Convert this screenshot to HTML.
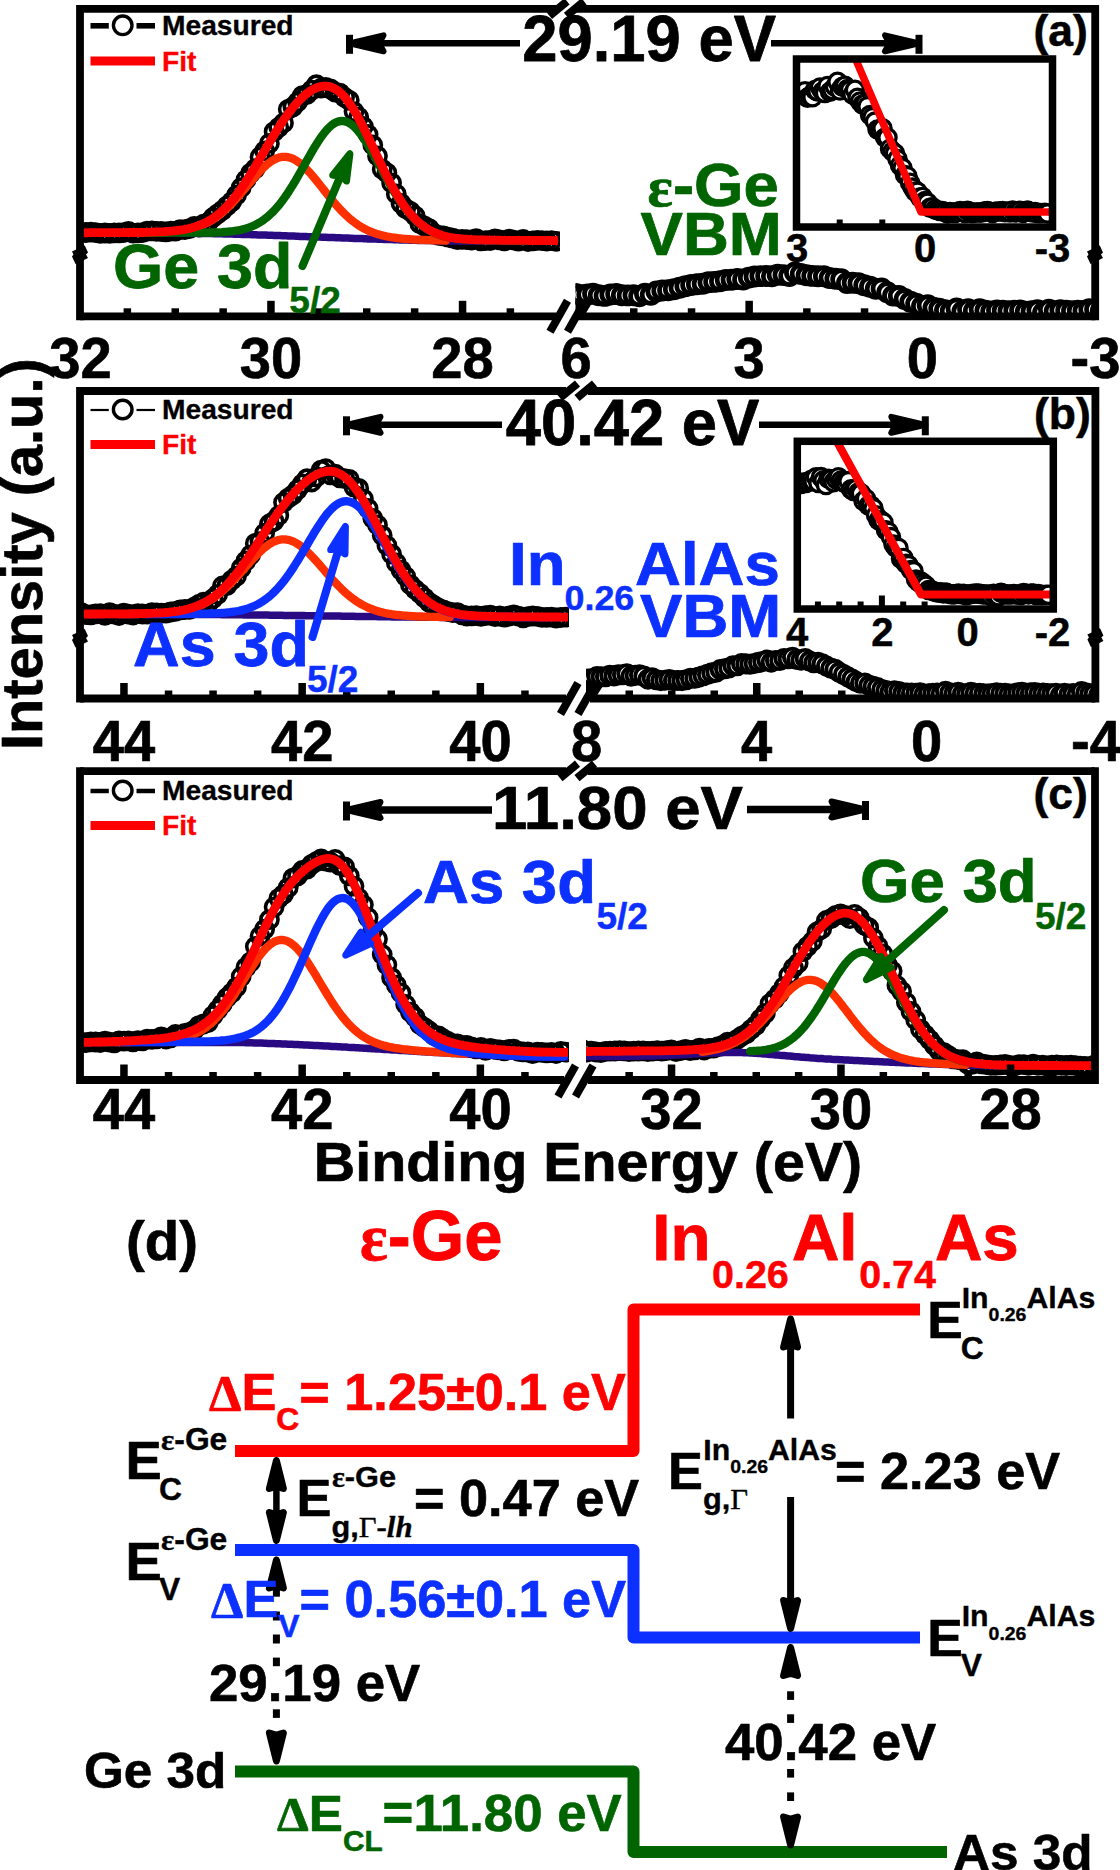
<!DOCTYPE html>
<html><head><meta charset="utf-8"><title>XPS band alignment</title>
<style>html,body{margin:0;padding:0;background:#fff}svg{display:block}</style></head><body>
<svg width="1120" height="1870" viewBox="0 0 1120 1870">
<rect width="1120" height="1870" fill="#fff"/>
<g id="pa">
<clipPath id="cpaL"><rect x="80" y="8" width="480" height="308"/></clipPath>
<g clip-path="url(#cpaL)">
<path d="M72 232.6 L76.7 233.1 L81.4 232.6 L86.1 232.5 L90.8 232.1 L95.5 232.6 L100.2 233.4 L104.9 233 L109.6 233.3 L114.3 232.8 L119 232.9 L123.7 232.7 L128.4 231.4 L133.1 233.1 L137.8 232.8 L142.5 232.7 L147.2 231.1 L151.9 230.9 L156.6 231.4 L161.3 231.5 L166 231.8 L170.7 231.2 L175.4 231.1 L180.1 229.6 L184.8 229.6 L189.5 228.6 L194.2 226.4 L198.9 227.2 L203.6 224.1 L208.3 222.4 L213 217.5 L217.7 213.9 L222.4 210.3 L227.1 205.9 L231.8 201.6 L236.5 195.2 L241.2 187.7 L245.9 179.9 L250.6 173.2 L255.3 168.6 L260 157 L264.7 150.9 L269.4 143.4 L274.1 131.7 L278.8 127.4 L283.5 123 L288.2 109.3 L292.9 106.9 L297.6 102 L302.3 95.7 L307 94.5 L311.7 90.1 L316.4 84.7 L321.1 88.2 L325.8 87.5 L330.5 88.9 L335.2 92.1 L339.9 93.1 L344.6 97.3 L349.3 100.3 L354 111.6 L358.7 117.1 L363.4 126.5 L368.1 134.5 L372.8 145 L377.5 156 L382.2 169.2 L386.9 172.8 L391.6 182.9 L396.3 194 L401 203.3 L405.7 208.7 L410.4 211.4 L415.1 215.8 L419.8 223.7 L424.5 226.1 L429.2 228.7 L433.9 233.3 L438.6 235.3 L443.3 235.9 L448 237.2 L452.7 238.2 L457.4 239.7 L462.1 239.4 L466.8 239.7 L471.5 240 L476.2 238.6 L480.9 240.8 L485.6 240.7 L490.3 240.5 L495 238.8 L499.7 239.8 L504.4 240.9 L509.1 239.1 L513.8 240.2 L518.5 241.1 L523.2 239.5 L527.9 241.5 L532.6 240.8 L537.3 240.4 L542 240.7 L546.7 241 L551.4 240.6 L556.1 241.3" fill="none" stroke="#000000" stroke-width="5" stroke-linejoin="round" />
<circle cx="72" cy="232.6" r="8.6" fill="none" stroke="#000" stroke-width="3.6"/>
<circle cx="76.7" cy="233.1" r="8.6" fill="none" stroke="#000" stroke-width="3.6"/>
<circle cx="81.4" cy="232.6" r="8.6" fill="none" stroke="#000" stroke-width="3.6"/>
<circle cx="86.1" cy="232.5" r="8.6" fill="none" stroke="#000" stroke-width="3.6"/>
<circle cx="90.8" cy="232.1" r="8.6" fill="none" stroke="#000" stroke-width="3.6"/>
<circle cx="95.5" cy="232.6" r="8.6" fill="none" stroke="#000" stroke-width="3.6"/>
<circle cx="100.2" cy="233.4" r="8.6" fill="none" stroke="#000" stroke-width="3.6"/>
<circle cx="104.9" cy="233" r="8.6" fill="none" stroke="#000" stroke-width="3.6"/>
<circle cx="109.6" cy="233.3" r="8.6" fill="none" stroke="#000" stroke-width="3.6"/>
<circle cx="114.3" cy="232.8" r="8.6" fill="none" stroke="#000" stroke-width="3.6"/>
<circle cx="119" cy="232.9" r="8.6" fill="none" stroke="#000" stroke-width="3.6"/>
<circle cx="123.7" cy="232.7" r="8.6" fill="none" stroke="#000" stroke-width="3.6"/>
<circle cx="128.4" cy="231.4" r="8.6" fill="none" stroke="#000" stroke-width="3.6"/>
<circle cx="133.1" cy="233.1" r="8.6" fill="none" stroke="#000" stroke-width="3.6"/>
<circle cx="137.8" cy="232.8" r="8.6" fill="none" stroke="#000" stroke-width="3.6"/>
<circle cx="142.5" cy="232.7" r="8.6" fill="none" stroke="#000" stroke-width="3.6"/>
<circle cx="147.2" cy="231.1" r="8.6" fill="none" stroke="#000" stroke-width="3.6"/>
<circle cx="151.9" cy="230.9" r="8.6" fill="none" stroke="#000" stroke-width="3.6"/>
<circle cx="156.6" cy="231.4" r="8.6" fill="none" stroke="#000" stroke-width="3.6"/>
<circle cx="161.3" cy="231.5" r="8.6" fill="none" stroke="#000" stroke-width="3.6"/>
<circle cx="166" cy="231.8" r="8.6" fill="none" stroke="#000" stroke-width="3.6"/>
<circle cx="170.7" cy="231.2" r="8.6" fill="none" stroke="#000" stroke-width="3.6"/>
<circle cx="175.4" cy="231.1" r="8.6" fill="none" stroke="#000" stroke-width="3.6"/>
<circle cx="180.1" cy="229.6" r="8.6" fill="none" stroke="#000" stroke-width="3.6"/>
<circle cx="184.8" cy="229.6" r="8.6" fill="none" stroke="#000" stroke-width="3.6"/>
<circle cx="189.5" cy="228.6" r="8.6" fill="none" stroke="#000" stroke-width="3.6"/>
<circle cx="194.2" cy="226.4" r="8.6" fill="none" stroke="#000" stroke-width="3.6"/>
<circle cx="198.9" cy="227.2" r="8.6" fill="none" stroke="#000" stroke-width="3.6"/>
<circle cx="203.6" cy="224.1" r="8.6" fill="none" stroke="#000" stroke-width="3.6"/>
<circle cx="208.3" cy="222.4" r="8.6" fill="none" stroke="#000" stroke-width="3.6"/>
<circle cx="213" cy="217.5" r="8.6" fill="none" stroke="#000" stroke-width="3.6"/>
<circle cx="217.7" cy="213.9" r="8.6" fill="none" stroke="#000" stroke-width="3.6"/>
<circle cx="222.4" cy="210.3" r="8.6" fill="none" stroke="#000" stroke-width="3.6"/>
<circle cx="227.1" cy="205.9" r="8.6" fill="none" stroke="#000" stroke-width="3.6"/>
<circle cx="231.8" cy="201.6" r="8.6" fill="none" stroke="#000" stroke-width="3.6"/>
<circle cx="236.5" cy="195.2" r="8.6" fill="none" stroke="#000" stroke-width="3.6"/>
<circle cx="241.2" cy="187.7" r="8.6" fill="none" stroke="#000" stroke-width="3.6"/>
<circle cx="245.9" cy="179.9" r="8.6" fill="none" stroke="#000" stroke-width="3.6"/>
<circle cx="250.6" cy="173.2" r="8.6" fill="none" stroke="#000" stroke-width="3.6"/>
<circle cx="255.3" cy="168.6" r="8.6" fill="none" stroke="#000" stroke-width="3.6"/>
<circle cx="260" cy="157" r="8.6" fill="none" stroke="#000" stroke-width="3.6"/>
<circle cx="264.7" cy="150.9" r="8.6" fill="none" stroke="#000" stroke-width="3.6"/>
<circle cx="269.4" cy="143.4" r="8.6" fill="none" stroke="#000" stroke-width="3.6"/>
<circle cx="274.1" cy="131.7" r="8.6" fill="none" stroke="#000" stroke-width="3.6"/>
<circle cx="278.8" cy="127.4" r="8.6" fill="none" stroke="#000" stroke-width="3.6"/>
<circle cx="283.5" cy="123" r="8.6" fill="none" stroke="#000" stroke-width="3.6"/>
<circle cx="288.2" cy="109.3" r="8.6" fill="none" stroke="#000" stroke-width="3.6"/>
<circle cx="292.9" cy="106.9" r="8.6" fill="none" stroke="#000" stroke-width="3.6"/>
<circle cx="297.6" cy="102" r="8.6" fill="none" stroke="#000" stroke-width="3.6"/>
<circle cx="302.3" cy="95.7" r="8.6" fill="none" stroke="#000" stroke-width="3.6"/>
<circle cx="307" cy="94.5" r="8.6" fill="none" stroke="#000" stroke-width="3.6"/>
<circle cx="311.7" cy="90.1" r="8.6" fill="none" stroke="#000" stroke-width="3.6"/>
<circle cx="316.4" cy="84.7" r="8.6" fill="none" stroke="#000" stroke-width="3.6"/>
<circle cx="321.1" cy="88.2" r="8.6" fill="none" stroke="#000" stroke-width="3.6"/>
<circle cx="325.8" cy="87.5" r="8.6" fill="none" stroke="#000" stroke-width="3.6"/>
<circle cx="330.5" cy="88.9" r="8.6" fill="none" stroke="#000" stroke-width="3.6"/>
<circle cx="335.2" cy="92.1" r="8.6" fill="none" stroke="#000" stroke-width="3.6"/>
<circle cx="339.9" cy="93.1" r="8.6" fill="none" stroke="#000" stroke-width="3.6"/>
<circle cx="344.6" cy="97.3" r="8.6" fill="none" stroke="#000" stroke-width="3.6"/>
<circle cx="349.3" cy="100.3" r="8.6" fill="none" stroke="#000" stroke-width="3.6"/>
<circle cx="354" cy="111.6" r="8.6" fill="none" stroke="#000" stroke-width="3.6"/>
<circle cx="358.7" cy="117.1" r="8.6" fill="none" stroke="#000" stroke-width="3.6"/>
<circle cx="363.4" cy="126.5" r="8.6" fill="none" stroke="#000" stroke-width="3.6"/>
<circle cx="368.1" cy="134.5" r="8.6" fill="none" stroke="#000" stroke-width="3.6"/>
<circle cx="372.8" cy="145" r="8.6" fill="none" stroke="#000" stroke-width="3.6"/>
<circle cx="377.5" cy="156" r="8.6" fill="none" stroke="#000" stroke-width="3.6"/>
<circle cx="382.2" cy="169.2" r="8.6" fill="none" stroke="#000" stroke-width="3.6"/>
<circle cx="386.9" cy="172.8" r="8.6" fill="none" stroke="#000" stroke-width="3.6"/>
<circle cx="391.6" cy="182.9" r="8.6" fill="none" stroke="#000" stroke-width="3.6"/>
<circle cx="396.3" cy="194" r="8.6" fill="none" stroke="#000" stroke-width="3.6"/>
<circle cx="401" cy="203.3" r="8.6" fill="none" stroke="#000" stroke-width="3.6"/>
<circle cx="405.7" cy="208.7" r="8.6" fill="none" stroke="#000" stroke-width="3.6"/>
<circle cx="410.4" cy="211.4" r="8.6" fill="none" stroke="#000" stroke-width="3.6"/>
<circle cx="415.1" cy="215.8" r="8.6" fill="none" stroke="#000" stroke-width="3.6"/>
<circle cx="419.8" cy="223.7" r="8.6" fill="none" stroke="#000" stroke-width="3.6"/>
<circle cx="424.5" cy="226.1" r="8.6" fill="none" stroke="#000" stroke-width="3.6"/>
<circle cx="429.2" cy="228.7" r="8.6" fill="none" stroke="#000" stroke-width="3.6"/>
<circle cx="433.9" cy="233.3" r="8.6" fill="none" stroke="#000" stroke-width="3.6"/>
<circle cx="438.6" cy="235.3" r="8.6" fill="none" stroke="#000" stroke-width="3.6"/>
<circle cx="443.3" cy="235.9" r="8.6" fill="none" stroke="#000" stroke-width="3.6"/>
<circle cx="448" cy="237.2" r="8.6" fill="none" stroke="#000" stroke-width="3.6"/>
<circle cx="452.7" cy="238.2" r="8.6" fill="none" stroke="#000" stroke-width="3.6"/>
<circle cx="457.4" cy="239.7" r="8.6" fill="none" stroke="#000" stroke-width="3.6"/>
<circle cx="462.1" cy="239.4" r="8.6" fill="none" stroke="#000" stroke-width="3.6"/>
<circle cx="466.8" cy="239.7" r="8.6" fill="none" stroke="#000" stroke-width="3.6"/>
<circle cx="471.5" cy="240" r="8.6" fill="none" stroke="#000" stroke-width="3.6"/>
<circle cx="476.2" cy="238.6" r="8.6" fill="none" stroke="#000" stroke-width="3.6"/>
<circle cx="480.9" cy="240.8" r="8.6" fill="none" stroke="#000" stroke-width="3.6"/>
<circle cx="485.6" cy="240.7" r="8.6" fill="none" stroke="#000" stroke-width="3.6"/>
<circle cx="490.3" cy="240.5" r="8.6" fill="none" stroke="#000" stroke-width="3.6"/>
<circle cx="495" cy="238.8" r="8.6" fill="none" stroke="#000" stroke-width="3.6"/>
<circle cx="499.7" cy="239.8" r="8.6" fill="none" stroke="#000" stroke-width="3.6"/>
<circle cx="504.4" cy="240.9" r="8.6" fill="none" stroke="#000" stroke-width="3.6"/>
<circle cx="509.1" cy="239.1" r="8.6" fill="none" stroke="#000" stroke-width="3.6"/>
<circle cx="513.8" cy="240.2" r="8.6" fill="none" stroke="#000" stroke-width="3.6"/>
<circle cx="518.5" cy="241.1" r="8.6" fill="none" stroke="#000" stroke-width="3.6"/>
<circle cx="523.2" cy="239.5" r="8.6" fill="none" stroke="#000" stroke-width="3.6"/>
<circle cx="527.9" cy="241.5" r="8.6" fill="none" stroke="#000" stroke-width="3.6"/>
<circle cx="532.6" cy="240.8" r="8.6" fill="none" stroke="#000" stroke-width="3.6"/>
<circle cx="537.3" cy="240.4" r="8.6" fill="none" stroke="#000" stroke-width="3.6"/>
<circle cx="542" cy="240.7" r="8.6" fill="none" stroke="#000" stroke-width="3.6"/>
<circle cx="546.7" cy="241" r="8.6" fill="none" stroke="#000" stroke-width="3.6"/>
<circle cx="551.4" cy="240.6" r="8.6" fill="none" stroke="#000" stroke-width="3.6"/>
<circle cx="556.1" cy="241.3" r="8.6" fill="none" stroke="#000" stroke-width="3.6"/>
<path d="M70 233.2 L72 233.2 L74 233.2 L76 233.2 L78 233.2 L80 233.2 L82 233.2 L84 233.2 L86 233.2 L88 233.2 L90 233.2 L92 233.2 L94 233.2 L96 233.2 L98 233.2 L100 233.2 L102 233.2 L104 233.2 L106 233.2 L108 233.2 L110 233.2 L112 233.2 L114 233.2 L116 233.2 L118 233.2 L120 233.2 L122 233.2 L124 233.2 L126 233.2 L128 233.2 L130 233.2 L132 233.2 L134 233.2 L136 233.2 L138 233.2 L140 233.2 L142 233.2 L144 233.2 L146 233.2 L148 233.2 L150 233.2 L152 233.2 L154 233.2 L156 233.2 L158 233.2 L160 233.2 L162 233.2 L164 233.2 L166 233.2 L168 233.2 L170 233.2 L172 233.2 L174 233.2 L176 233.2 L178 233.2 L180 233.2 L182 233.2 L184 233.2 L186 233.2 L188 233.2 L190 233.2 L192 233.2 L194 233.3 L196 233.3 L198 233.3 L200 233.4 L202 233.4 L204 233.4 L206 233.5 L208 233.5 L210 233.6 L212 233.6 L214 233.7 L216 233.7 L218 233.7 L220 233.8 L222 233.8 L224 233.9 L226 233.9 L228 234 L230 234 L232 234.1 L234 234.2 L236 234.2 L238 234.3 L240 234.3 L242 234.4 L244 234.4 L246 234.5 L248 234.6 L250 234.6 L252 234.7 L254 234.8 L256 234.8 L258 234.9 L260 234.9 L262 235 L264 235.1 L266 235.1 L268 235.2 L270 235.3 L272 235.3 L274 235.4 L276 235.5 L278 235.6 L280 235.6 L282 235.7 L284 235.8 L286 235.8 L288 235.9 L290 236 L292 236.1 L294 236.1 L296 236.2 L298 236.3 L300 236.4 L302 236.4 L304 236.5 L306 236.6 L308 236.7 L310 236.7 L312 236.8 L314 236.9 L316 237 L318 237 L320 237.1 L322 237.2 L324 237.2 L326 237.3 L328 237.4 L330 237.5 L332 237.5 L334 237.6 L336 237.7 L338 237.8 L340 237.8 L342 237.9 L344 238 L346 238.1 L348 238.1 L350 238.2 L352 238.3 L354 238.4 L356 238.4 L358 238.5 L360 238.6 L362 238.6 L364 238.7 L366 238.8 L368 238.9 L370 238.9 L372 239 L374 239.1 L376 239.1 L378 239.2 L380 239.3 L382 239.3 L384 239.4 L386 239.4 L388 239.5 L390 239.6 L392 239.6 L394 239.7 L396 239.8 L398 239.8 L400 239.9 L402 239.9 L404 240 L406 240 L408 240.1 L410 240.2 L412 240.2 L414 240.3 L416 240.3 L418 240.4 L420 240.4 L422 240.5 L424 240.5 L426 240.5 L428 240.6 L430 240.6 L432 240.7 L434 240.7 L436 240.8 L438 240.8 L440 240.8 L442 240.9 L444 240.9 L446 240.9 L448 241 L450 241 L452 241 L454 241 L456 241 L458 241 L460 241 L462 241 L464 241 L466 241 L468 241 L470 241 L472 241 L474 241 L476 241 L478 241 L480 241 L482 241 L484 241 L486 241 L488 241 L490 241 L492 241 L494 241 L496 241 L498 241 L500 241 L502 241 L504 241 L506 241 L508 241 L510 241 L512 241 L514 241 L516 241 L518 241 L520 241 L522 241 L524 241 L526 241 L528 241 L530 241 L532 241 L534 241 L536 241 L538 241 L540 241 L542 241 L544 241 L546 241 L548 241 L550 241 L552 241 L554 241 L556 241 L558 241" fill="none" stroke="#2a0a82" stroke-width="7.5" stroke-linejoin="round" />
<path d="M124 232.8 L126 232.8 L128 232.8 L130 232.8 L132 232.8 L134 232.8 L136 232.8 L138 232.7 L140 232.7 L142 232.7 L144 232.7 L146 232.6 L148 232.6 L150 232.6 L152 232.5 L154 232.5 L156 232.4 L158 232.3 L160 232.3 L162 232.2 L164 232.1 L166 232 L168 231.8 L170 231.7 L172 231.5 L174 231.4 L176 231.2 L178 230.9 L180 230.7 L182 230.4 L184 230 L186 229.7 L188 229.2 L190 228.8 L192 228.3 L194 227.8 L196 227.2 L198 226.5 L200 225.8 L202 225 L204 224.2 L206 223.3 L208 222.3 L210 221.2 L212 220 L214 218.7 L216 217.4 L218 215.9 L220 214.4 L222 212.8 L224 211 L226 209.2 L228 207.3 L230 205.4 L232 203.3 L234 201.2 L236 199 L238 196.7 L240 194.4 L242 192.1 L244 189.7 L246 187.3 L248 184.9 L250 182.5 L252 180.2 L254 177.8 L256 175.5 L258 173.3 L260 171.2 L262 169.1 L264 167.2 L266 165.4 L268 163.7 L270 162.2 L272 160.8 L274 159.7 L276 158.7 L278 157.9 L280 157.3 L282 156.9 L284 156.8 L286 156.9 L288 157.2 L290 157.7 L292 158.4 L294 159.3 L296 160.4 L298 161.8 L300 163.2 L302 164.9 L304 166.7 L306 168.7 L308 170.8 L310 172.9 L312 175.2 L314 177.6 L316 180 L318 182.5 L320 185 L322 187.5 L324 190.1 L326 192.6 L328 195.1 L330 197.6 L332 200 L334 202.4 L336 204.7 L338 207 L340 209.2 L342 211.3 L344 213.3 L346 215.2 L348 217.1 L350 218.8 L352 220.5 L354 222 L356 223.5 L358 224.9 L360 226.2 L362 227.4 L364 228.5 L366 229.5 L368 230.5 L370 231.4 L372 232.2 L374 232.9 L376 233.6 L378 234.3 L380 234.8 L382 235.4 L384 235.8 L386 236.3 L388 236.7 L390 237 L392 237.4 L394 237.6 L396 237.9 L398 238.2 L400 238.4 L402 238.6 L404 238.8 L406 238.9 L408 239.1 L410 239.2 L412 239.3 L414 239.5 L416 239.6 L418 239.7 L420 239.8 L422 239.9 L424 239.9 L426 240 L428 240.1 L430 240.2 L432 240.2 L434 240.3 L436 240.3 L438 240.4 L440 240.4 L442 240.5 L444 240.5 L446 240.6" fill="none" stroke="#ff3000" stroke-width="8.3" stroke-linejoin="round" stroke-linecap="round"/>
<path d="M146 232.8 L148 232.8 L150 232.8 L152 232.8 L154 232.8 L156 232.8 L158 232.8 L160 232.8 L162 232.8 L164 232.8 L166 232.8 L168 232.8 L170 232.7 L172 232.7 L174 232.7 L176 232.7 L178 232.7 L180 232.7 L182 232.7 L184 232.6 L186 232.6 L188 232.6 L190 232.6 L192 232.6 L194 232.6 L196 232.6 L198 232.6 L200 232.6 L202 232.6 L204 232.6 L206 232.6 L208 232.6 L210 232.5 L212 232.5 L214 232.5 L216 232.4 L218 232.3 L220 232.3 L222 232.2 L224 232 L226 231.9 L228 231.7 L230 231.5 L232 231.3 L234 231 L236 230.7 L238 230.4 L240 230 L242 229.6 L244 229 L246 228.5 L248 227.8 L250 227.1 L252 226.3 L254 225.5 L256 224.5 L258 223.4 L260 222.2 L262 221 L264 219.6 L266 218 L268 216.4 L270 214.6 L272 212.7 L274 210.7 L276 208.5 L278 206.2 L280 203.8 L282 201.2 L284 198.5 L286 195.6 L288 192.7 L290 189.6 L292 186.4 L294 183.1 L296 179.8 L298 176.3 L300 172.8 L302 169.3 L304 165.7 L306 162.1 L308 158.6 L310 155.1 L312 151.6 L314 148.2 L316 144.9 L318 141.8 L320 138.8 L322 135.9 L324 133.2 L326 130.8 L328 128.6 L330 126.6 L332 124.9 L334 123.5 L336 122.4 L338 121.6 L340 121.1 L342 120.9 L344 121.1 L346 121.6 L348 122.4 L350 123.5 L352 124.9 L354 126.6 L356 128.6 L358 130.8 L360 133.3 L362 136 L364 138.9 L366 142 L368 145.2 L370 148.6 L372 152.1 L374 155.6 L376 159.3 L378 162.9 L380 166.6 L382 170.4 L384 174 L386 177.7 L388 181.3 L390 184.8 L392 188.3 L394 191.7 L396 194.9 L398 198.1 L400 201.1 L402 204 L404 206.8 L406 209.5 L408 212 L410 214.3 L412 216.5 L414 218.6 L416 220.6 L418 222.4 L420 224.1 L422 225.7 L424 227.1 L426 228.5 L428 229.7 L430 230.8 L432 231.9 L434 232.8 L436 233.7 L438 234.4 L440 235.1 L442 235.8 L444 236.3 L446 236.8 L448 237.3 L450 237.7 L452 238 L454 238.3 L456 238.6 L458 238.8 L460 239 L462 239.2 L464 239.4 L466 239.5 L468 239.6 L470 239.8 L472 239.8 L474 239.9 L476 240 L478 240.1 L480 240.1 L482 240.2 L484 240.2 L486 240.3 L488 240.3 L490 240.3 L492 240.4 L494 240.4 L496 240.4 L498 240.4 L500 240.4 L502 240.5 L504 240.5 L506 240.5 L508 240.5 L510 240.5 L512 240.5 L514 240.5 L516 240.5 L518 240.6 L520 240.6 L522 240.6 L524 240.6 L526 240.6 L528 240.6 L530 240.6 L532 240.6 L534 240.6 L536 240.6 L538 240.6 L540 240.6" fill="none" stroke="#006400" stroke-width="8.3" stroke-linejoin="round" stroke-linecap="round"/>
<path d="M70 232.8 L72 232.8 L74 232.8 L76 232.8 L78 232.8 L80 232.8 L82 232.8 L84 232.8 L86 232.8 L88 232.7 L90 232.7 L92 232.7 L94 232.7 L96 232.7 L98 232.7 L100 232.7 L102 232.7 L104 232.7 L106 232.7 L108 232.7 L110 232.6 L112 232.6 L114 232.6 L116 232.6 L118 232.6 L120 232.6 L122 232.6 L124 232.6 L126 232.5 L128 232.5 L130 232.5 L132 232.5 L134 232.5 L136 232.4 L138 232.4 L140 232.4 L142 232.4 L144 232.3 L146 232.3 L148 232.2 L150 232.2 L152 232.1 L154 232.1 L156 232 L158 231.9 L160 231.9 L162 231.8 L164 231.7 L166 231.5 L168 231.4 L170 231.2 L172 231.1 L174 230.9 L176 230.7 L178 230.4 L180 230.1 L182 229.8 L184 229.5 L186 229.1 L188 228.7 L190 228.2 L192 227.7 L194 227.1 L196 226.5 L198 225.8 L200 225.1 L202 224.2 L204 223.3 L206 222.4 L208 221.3 L210 220.1 L212 218.9 L214 217.5 L216 216.1 L218 214.5 L220 212.8 L222 211.1 L224 209.2 L226 207.2 L228 205.1 L230 202.8 L232 200.5 L234 198.1 L236 195.5 L238 192.9 L240 190.1 L242 187.3 L244 184.3 L246 181.3 L248 178.2 L250 175 L252 171.8 L254 168.5 L256 165.2 L258 161.9 L260 158.5 L262 155.1 L264 151.7 L266 148.3 L268 144.9 L270 141.5 L272 138.2 L274 134.9 L276 131.7 L278 128.5 L280 125.4 L282 122.4 L284 119.5 L286 116.7 L288 113.9 L290 111.3 L292 108.7 L294 106.3 L296 104 L298 101.8 L300 99.7 L302 97.8 L304 95.9 L306 94.3 L308 92.7 L310 91.3 L312 90 L314 88.9 L316 88 L318 87.2 L320 86.7 L322 86.3 L324 86.1 L326 86.1 L328 86.3 L330 86.7 L332 87.4 L334 88.3 L336 89.4 L338 90.8 L340 92.4 L342 94.3 L344 96.4 L346 98.7 L348 101.3 L350 104.1 L352 107.1 L354 110.2 L356 113.6 L358 117.2 L360 120.9 L362 124.7 L364 128.7 L366 132.7 L368 136.8 L370 141 L372 145.3 L374 149.5 L376 153.8 L378 158 L380 162.2 L382 166.4 L384 170.5 L386 174.5 L388 178.5 L390 182.3 L392 186 L394 189.6 L396 193.1 L398 196.4 L400 199.6 L402 202.7 L404 205.6 L406 208.3 L408 210.9 L410 213.4 L412 215.7 L414 217.8 L416 219.9 L418 221.7 L420 223.5 L422 225.1 L424 226.6 L426 227.9 L428 229.2 L430 230.4 L432 231.4 L434 232.4 L436 233.2 L438 234 L440 234.7 L442 235.4 L444 236 L446 236.5 L448 237 L450 237.4 L452 237.7 L454 238 L456 238.3 L458 238.5 L460 238.7 L462 238.9 L464 239.1 L466 239.2 L468 239.4 L470 239.5 L472 239.6 L474 239.7 L476 239.8 L478 239.8 L480 239.9 L482 239.9 L484 240 L486 240 L488 240.1 L490 240.1 L492 240.1 L494 240.2 L496 240.2 L498 240.2 L500 240.2 L502 240.3 L504 240.3 L506 240.3 L508 240.3 L510 240.3 L512 240.3 L514 240.4 L516 240.4 L518 240.4 L520 240.4 L522 240.4 L524 240.4 L526 240.4 L528 240.4 L530 240.5 L532 240.5 L534 240.5 L536 240.5 L538 240.5 L540 240.5 L542 240.5 L544 240.5 L546 240.5 L548 240.5 L550 240.5 L552 240.6 L554 240.6 L556 240.6 L558 240.6" fill="none" stroke="#ff0000" stroke-width="8.8" stroke-linejoin="round" />
</g>
<clipPath id="cpaV"><rect x="575.5" y="240" width="517" height="76.3"/></clipPath><g clip-path="url(#cpaV)">
<circle cx="570" cy="293.7" r="8.6" fill="#fff" stroke="#000" stroke-width="4.7"/>
<circle cx="575.8" cy="293.9" r="8.6" fill="#fff" stroke="#000" stroke-width="4.7"/>
<circle cx="581.5" cy="295.1" r="8.6" fill="#fff" stroke="#000" stroke-width="4.7"/>
<circle cx="587.3" cy="294.4" r="8.6" fill="#fff" stroke="#000" stroke-width="4.7"/>
<circle cx="593.1" cy="293.7" r="8.6" fill="#fff" stroke="#000" stroke-width="4.7"/>
<circle cx="598.8" cy="295.3" r="8.6" fill="#fff" stroke="#000" stroke-width="4.7"/>
<circle cx="604.6" cy="295.9" r="8.6" fill="#fff" stroke="#000" stroke-width="4.7"/>
<circle cx="610.4" cy="294.5" r="8.6" fill="#fff" stroke="#000" stroke-width="4.7"/>
<circle cx="616.2" cy="294" r="8.6" fill="#fff" stroke="#000" stroke-width="4.7"/>
<circle cx="621.9" cy="295.2" r="8.6" fill="#fff" stroke="#000" stroke-width="4.7"/>
<circle cx="627.7" cy="295.4" r="8.6" fill="#fff" stroke="#000" stroke-width="4.7"/>
<circle cx="633.5" cy="295.3" r="8.6" fill="#fff" stroke="#000" stroke-width="4.7"/>
<circle cx="639.2" cy="296.3" r="8.6" fill="#fff" stroke="#000" stroke-width="4.7"/>
<circle cx="645" cy="293.8" r="8.6" fill="#fff" stroke="#000" stroke-width="4.7"/>
<circle cx="650.8" cy="294.8" r="8.6" fill="#fff" stroke="#000" stroke-width="4.7"/>
<circle cx="656.5" cy="291.5" r="8.6" fill="#fff" stroke="#000" stroke-width="4.7"/>
<circle cx="662.3" cy="290.5" r="8.6" fill="#fff" stroke="#000" stroke-width="4.7"/>
<circle cx="668.1" cy="290.2" r="8.6" fill="#fff" stroke="#000" stroke-width="4.7"/>
<circle cx="673.9" cy="289.2" r="8.6" fill="#fff" stroke="#000" stroke-width="4.7"/>
<circle cx="679.6" cy="287.7" r="8.6" fill="#fff" stroke="#000" stroke-width="4.7"/>
<circle cx="685.4" cy="286.2" r="8.6" fill="#fff" stroke="#000" stroke-width="4.7"/>
<circle cx="691.2" cy="285" r="8.6" fill="#fff" stroke="#000" stroke-width="4.7"/>
<circle cx="696.9" cy="284.2" r="8.6" fill="#fff" stroke="#000" stroke-width="4.7"/>
<circle cx="702.7" cy="283.7" r="8.6" fill="#fff" stroke="#000" stroke-width="4.7"/>
<circle cx="708.5" cy="282.3" r="8.6" fill="#fff" stroke="#000" stroke-width="4.7"/>
<circle cx="714.2" cy="281.9" r="8.6" fill="#fff" stroke="#000" stroke-width="4.7"/>
<circle cx="720" cy="281.3" r="8.6" fill="#fff" stroke="#000" stroke-width="4.7"/>
<circle cx="725.8" cy="280" r="8.6" fill="#fff" stroke="#000" stroke-width="4.7"/>
<circle cx="731.6" cy="279.8" r="8.6" fill="#fff" stroke="#000" stroke-width="4.7"/>
<circle cx="737.3" cy="279" r="8.6" fill="#fff" stroke="#000" stroke-width="4.7"/>
<circle cx="743.1" cy="279.5" r="8.6" fill="#fff" stroke="#000" stroke-width="4.7"/>
<circle cx="748.9" cy="277.6" r="8.6" fill="#fff" stroke="#000" stroke-width="4.7"/>
<circle cx="754.6" cy="276.5" r="8.6" fill="#fff" stroke="#000" stroke-width="4.7"/>
<circle cx="760.4" cy="276.1" r="8.6" fill="#fff" stroke="#000" stroke-width="4.7"/>
<circle cx="766.2" cy="276" r="8.6" fill="#fff" stroke="#000" stroke-width="4.7"/>
<circle cx="771.9" cy="276.3" r="8.6" fill="#fff" stroke="#000" stroke-width="4.7"/>
<circle cx="777.7" cy="274.8" r="8.6" fill="#fff" stroke="#000" stroke-width="4.7"/>
<circle cx="783.5" cy="275.1" r="8.6" fill="#fff" stroke="#000" stroke-width="4.7"/>
<circle cx="789.3" cy="276" r="8.6" fill="#fff" stroke="#000" stroke-width="4.7"/>
<circle cx="795" cy="272.5" r="8.6" fill="#fff" stroke="#000" stroke-width="4.7"/>
<circle cx="800.8" cy="273.9" r="8.6" fill="#fff" stroke="#000" stroke-width="4.7"/>
<circle cx="806.6" cy="275.3" r="8.6" fill="#fff" stroke="#000" stroke-width="4.7"/>
<circle cx="812.3" cy="275.9" r="8.6" fill="#fff" stroke="#000" stroke-width="4.7"/>
<circle cx="818.1" cy="276.3" r="8.6" fill="#fff" stroke="#000" stroke-width="4.7"/>
<circle cx="823.9" cy="276.3" r="8.6" fill="#fff" stroke="#000" stroke-width="4.7"/>
<circle cx="829.6" cy="278" r="8.6" fill="#fff" stroke="#000" stroke-width="4.7"/>
<circle cx="835.4" cy="278.7" r="8.6" fill="#fff" stroke="#000" stroke-width="4.7"/>
<circle cx="841.2" cy="279.3" r="8.6" fill="#fff" stroke="#000" stroke-width="4.7"/>
<circle cx="847" cy="283" r="8.6" fill="#fff" stroke="#000" stroke-width="4.7"/>
<circle cx="852.7" cy="282.7" r="8.6" fill="#fff" stroke="#000" stroke-width="4.7"/>
<circle cx="858.5" cy="283.3" r="8.6" fill="#fff" stroke="#000" stroke-width="4.7"/>
<circle cx="864.3" cy="285.2" r="8.6" fill="#fff" stroke="#000" stroke-width="4.7"/>
<circle cx="870" cy="286.7" r="8.6" fill="#fff" stroke="#000" stroke-width="4.7"/>
<circle cx="875.8" cy="288.7" r="8.6" fill="#fff" stroke="#000" stroke-width="4.7"/>
<circle cx="881.6" cy="288.5" r="8.6" fill="#fff" stroke="#000" stroke-width="4.7"/>
<circle cx="887.3" cy="292.3" r="8.6" fill="#fff" stroke="#000" stroke-width="4.7"/>
<circle cx="893.1" cy="295.6" r="8.6" fill="#fff" stroke="#000" stroke-width="4.7"/>
<circle cx="898.9" cy="295.9" r="8.6" fill="#fff" stroke="#000" stroke-width="4.7"/>
<circle cx="904.7" cy="298.9" r="8.6" fill="#fff" stroke="#000" stroke-width="4.7"/>
<circle cx="910.4" cy="301.8" r="8.6" fill="#fff" stroke="#000" stroke-width="4.7"/>
<circle cx="916.2" cy="303.8" r="8.6" fill="#fff" stroke="#000" stroke-width="4.7"/>
<circle cx="922" cy="306.2" r="8.6" fill="#fff" stroke="#000" stroke-width="4.7"/>
<circle cx="927.7" cy="305.3" r="8.6" fill="#fff" stroke="#000" stroke-width="4.7"/>
<circle cx="933.5" cy="307.8" r="8.6" fill="#fff" stroke="#000" stroke-width="4.7"/>
<circle cx="939.3" cy="308.8" r="8.6" fill="#fff" stroke="#000" stroke-width="4.7"/>
<circle cx="945" cy="310.3" r="8.6" fill="#fff" stroke="#000" stroke-width="4.7"/>
<circle cx="950.8" cy="311.1" r="8.6" fill="#fff" stroke="#000" stroke-width="4.7"/>
<circle cx="956.6" cy="308.4" r="8.6" fill="#fff" stroke="#000" stroke-width="4.7"/>
<circle cx="962.4" cy="311.4" r="8.6" fill="#fff" stroke="#000" stroke-width="4.7"/>
<circle cx="968.1" cy="309.3" r="8.6" fill="#fff" stroke="#000" stroke-width="4.7"/>
<circle cx="973.9" cy="311" r="8.6" fill="#fff" stroke="#000" stroke-width="4.7"/>
<circle cx="979.7" cy="309.3" r="8.6" fill="#fff" stroke="#000" stroke-width="4.7"/>
<circle cx="985.4" cy="310.6" r="8.6" fill="#fff" stroke="#000" stroke-width="4.7"/>
<circle cx="991.2" cy="311.5" r="8.6" fill="#fff" stroke="#000" stroke-width="4.7"/>
<circle cx="997" cy="310.4" r="8.6" fill="#fff" stroke="#000" stroke-width="4.7"/>
<circle cx="1002.7" cy="310.7" r="8.6" fill="#fff" stroke="#000" stroke-width="4.7"/>
<circle cx="1008.5" cy="311.1" r="8.6" fill="#fff" stroke="#000" stroke-width="4.7"/>
<circle cx="1014.3" cy="310.6" r="8.6" fill="#fff" stroke="#000" stroke-width="4.7"/>
<circle cx="1020.1" cy="310.4" r="8.6" fill="#fff" stroke="#000" stroke-width="4.7"/>
<circle cx="1025.8" cy="311.7" r="8.6" fill="#fff" stroke="#000" stroke-width="4.7"/>
<circle cx="1031.6" cy="311.3" r="8.6" fill="#fff" stroke="#000" stroke-width="4.7"/>
<circle cx="1037.4" cy="310.3" r="8.6" fill="#fff" stroke="#000" stroke-width="4.7"/>
<circle cx="1043.1" cy="312.7" r="8.6" fill="#fff" stroke="#000" stroke-width="4.7"/>
<circle cx="1048.9" cy="309.6" r="8.6" fill="#fff" stroke="#000" stroke-width="4.7"/>
<circle cx="1054.7" cy="311.2" r="8.6" fill="#fff" stroke="#000" stroke-width="4.7"/>
<circle cx="1060.4" cy="310.3" r="8.6" fill="#fff" stroke="#000" stroke-width="4.7"/>
<circle cx="1066.2" cy="310.6" r="8.6" fill="#fff" stroke="#000" stroke-width="4.7"/>
<circle cx="1072" cy="311.1" r="8.6" fill="#fff" stroke="#000" stroke-width="4.7"/>
<circle cx="1077.8" cy="310.7" r="8.6" fill="#fff" stroke="#000" stroke-width="4.7"/>
<circle cx="1083.5" cy="311" r="8.6" fill="#fff" stroke="#000" stroke-width="4.7"/>
<circle cx="1089.3" cy="309.3" r="8.6" fill="#fff" stroke="#000" stroke-width="4.7"/>
<circle cx="1095.1" cy="309.3" r="8.6" fill="#fff" stroke="#000" stroke-width="4.7"/>
<circle cx="1100.8" cy="311" r="8.6" fill="#fff" stroke="#000" stroke-width="4.7"/>
</g>
<line x1="80" y1="4.9" x2="80" y2="320.2" stroke="#000000" stroke-width="7.8" />
<line x1="1095.2" y1="4.9" x2="1095.2" y2="320.2" stroke="#000000" stroke-width="7.8" />
<line x1="80" y1="8.8" x2="556" y2="8.8" stroke="#000000" stroke-width="7.8" />
<line x1="576" y1="8.8" x2="1095.2" y2="8.8" stroke="#000000" stroke-width="7.8" />
<line x1="80" y1="316.3" x2="556" y2="316.3" stroke="#000000" stroke-width="7.8" />
<line x1="578" y1="316.3" x2="1095.2" y2="316.3" stroke="#000000" stroke-width="7.8" />
<line x1="550" y1="331.8" x2="567.5" y2="300.8" stroke="#000000" stroke-width="8" />
<line x1="567.5" y1="331.8" x2="585" y2="300.8" stroke="#000000" stroke-width="8" />
<polygon points="575.5,298 592,303 583,318 575.5,318" fill="#000000"/>
<line x1="549.5" y1="15.8" x2="567" y2="1.3" stroke="#000000" stroke-width="8" />
<line x1="566.5" y1="15.8" x2="584" y2="1.3" stroke="#000000" stroke-width="8" />
<rect x="267.2" y="300.8" width="7.5" height="13" fill="#000000"/>
<rect x="458.8" y="300.8" width="7.5" height="13" fill="#000000"/>
<rect x="123.6" y="308.3" width="7.5" height="5.5" fill="#000000"/>
<rect x="171.5" y="308.3" width="7.5" height="5.5" fill="#000000"/>
<rect x="219.4" y="308.3" width="7.5" height="5.5" fill="#000000"/>
<rect x="315.1" y="308.3" width="7.5" height="5.5" fill="#000000"/>
<rect x="363" y="308.3" width="7.5" height="5.5" fill="#000000"/>
<rect x="410.9" y="308.3" width="7.5" height="5.5" fill="#000000"/>
<rect x="506.6" y="308.3" width="7.5" height="5.5" fill="#000000"/>
<rect x="745.4" y="300.8" width="7.5" height="13" fill="#000000"/>
<rect x="630" y="308.3" width="7.5" height="5.5" fill="#000000"/>
<rect x="687.8" y="308.3" width="7.5" height="5.5" fill="#000000"/>
<rect x="803.1" y="308.3" width="7.5" height="5.5" fill="#000000"/>
<rect x="860.8" y="308.3" width="7.5" height="5.5" fill="#000000"/>
<text transform="translate(80.5 377.5) scale(0.985 1)" font-size="57" fill="#000000" text-anchor="middle" font-family='"Liberation Sans", sans-serif' font-weight="bold"  stroke="#000000" stroke-width="0.68" stroke-linejoin="round">32</text>
<text transform="translate(271 377.5) scale(0.985 1)" font-size="57" fill="#000000" text-anchor="middle" font-family='"Liberation Sans", sans-serif' font-weight="bold"  stroke="#000000" stroke-width="0.68" stroke-linejoin="round">30</text>
<text transform="translate(462.5 377.5) scale(0.985 1)" font-size="57" fill="#000000" text-anchor="middle" font-family='"Liberation Sans", sans-serif' font-weight="bold"  stroke="#000000" stroke-width="0.68" stroke-linejoin="round">28</text>
<text transform="translate(576.1 377.5) scale(0.985 1)" font-size="57" fill="#000000" text-anchor="middle" font-family='"Liberation Sans", sans-serif' font-weight="bold"  stroke="#000000" stroke-width="0.68" stroke-linejoin="round">6</text>
<text transform="translate(749.2 377.5) scale(0.985 1)" font-size="57" fill="#000000" text-anchor="middle" font-family='"Liberation Sans", sans-serif' font-weight="bold"  stroke="#000000" stroke-width="0.68" stroke-linejoin="round">3</text>
<text transform="translate(922.3 377.5) scale(0.985 1)" font-size="57" fill="#000000" text-anchor="middle" font-family='"Liberation Sans", sans-serif' font-weight="bold"  stroke="#000000" stroke-width="0.68" stroke-linejoin="round">0</text>
<text transform="translate(1120.5 377.8) scale(0.985 1)" font-size="57" fill="#000000" text-anchor="end" font-family='"Liberation Sans", sans-serif' font-weight="bold"  stroke="#000000" stroke-width="0.68" stroke-linejoin="round">-3</text>
<polygon points="76.2,249.5 72,251.5 73.5,254.5 72,256.5 75.5,264 84,260 88,258 86,254.5 88,252.5 85,246 83.8,245" fill="#000000"/>
<polygon points="1091.2,249.5 1087,251.5 1088.5,254.5 1087,256.5 1090.5,264 1099,260 1103,258 1101,254.5 1103,252.5 1100,246 1098.8,245" fill="#000000"/>
<line x1="90.5" y1="25.8" x2="108.8" y2="25.8" stroke="#000000" stroke-width="5.6" />
<line x1="136.5" y1="25.8" x2="155" y2="25.8" stroke="#000000" stroke-width="5.6" />
<circle cx="122.7" cy="25.3" r="9.3" fill="#fff" stroke="#000" stroke-width="3.4"/>
<text transform="translate(162 35.1) scale(1.025 1)" font-size="27.5" fill="#000000" text-anchor="start" font-family='"Liberation Sans", sans-serif' font-weight="bold"  stroke="#000000" stroke-width="0.33" stroke-linejoin="round">Measured</text>
<line x1="90.5" y1="61" x2="155" y2="61" stroke="#ff0000" stroke-width="9" />
<text transform="translate(162 70.8) scale(1.025 1)" font-size="27.5" fill="#ff0000" text-anchor="start" font-family='"Liberation Sans", sans-serif' font-weight="bold"  stroke="#ff0000" stroke-width="0.33" stroke-linejoin="round">Fit</text>
<rect x="346" y="34.8" width="7" height="19" fill="#000000"/>
<line x1="377" y1="43.3" x2="520" y2="43.3" stroke="#000000" stroke-width="6.5" />
<polygon points="349.5,43.3 383.5,35.3 379,43.3 383.5,51.3" fill="#000" stroke="#000" stroke-width="6" stroke-linejoin="round"/>
<rect x="915.5" y="34.8" width="7" height="19" fill="#000000"/>
<line x1="771" y1="43.3" x2="891.5" y2="43.3" stroke="#000000" stroke-width="6.5" />
<polygon points="919,43.3 885,35.3 889.5,43.3 885,51.3" fill="#000" stroke="#000" stroke-width="6" stroke-linejoin="round"/>
<text transform="translate(522.3 61) scale(0.99 1)" font-size="64" fill="#000000" text-anchor="start" font-family='"Liberation Sans", sans-serif' font-weight="bold"  stroke="#000000" stroke-width="0.77" stroke-linejoin="round">29.19 eV</text>
<text transform="translate(1060.6 46.4) scale(1.0 1)" font-size="44.5" fill="#000000" text-anchor="middle" font-family='"Liberation Sans", sans-serif' font-weight="bold"  stroke="#000000" stroke-width="0.53" stroke-linejoin="round">(a)</text>
<text transform="translate(113 288) scale(1.025 1)" font-size="63" fill="#006400" text-anchor="start" font-family='"Liberation Sans", sans-serif' font-weight="bold"  stroke="#006400" stroke-width="0.76" stroke-linejoin="round">Ge 3d</text>
<text transform="translate(289.3 313) scale(1.0 1)" font-size="37" fill="#006400" text-anchor="start" font-family='"Liberation Sans", sans-serif' font-weight="bold"  stroke="#006400" stroke-width="0.44" stroke-linejoin="round">5/2</text>
<line x1="302.5" y1="266" x2="340.8" y2="175.4" stroke="#006400" stroke-width="8" stroke-linecap="round"/>
<polygon points="349.9,153.7 346.5,181.1 340.8,175.4 332.7,175.2" fill="#006400" stroke="#006400" stroke-width="7" stroke-linejoin="round"/>
<text transform="translate(647.5 205.5) scale(1.025 1)" font-size="62" fill="#006400" font-weight="bold" font-family='"Liberation Sans", sans-serif' stroke="#006400" stroke-width="0.74" stroke-linejoin="round"><tspan font-family='"Liberation Serif", serif' font-size="58">ε</tspan>-Ge</text>
<text transform="translate(640.5 255) scale(1.025 1)" font-size="62" fill="#006400" text-anchor="start" font-family='"Liberation Sans", sans-serif' font-weight="bold"  stroke="#006400" stroke-width="0.74" stroke-linejoin="round">VBM</text>
<clipPath id="cpaI"><rect x="796.5" y="59" width="256" height="168"/></clipPath>
<g clip-path="url(#cpaI)">
<circle cx="800" cy="93.6" r="8.6" fill="#fff" stroke="#000" stroke-width="3.3"/>
<circle cx="802.5" cy="92.9" r="8.6" fill="#fff" stroke="#000" stroke-width="3.3"/>
<circle cx="805" cy="91.2" r="8.6" fill="#fff" stroke="#000" stroke-width="3.3"/>
<circle cx="807.5" cy="97.8" r="8.6" fill="#fff" stroke="#000" stroke-width="3.3"/>
<circle cx="810" cy="95.9" r="8.6" fill="#fff" stroke="#000" stroke-width="3.3"/>
<circle cx="812.5" cy="97.3" r="8.6" fill="#fff" stroke="#000" stroke-width="3.3"/>
<circle cx="815" cy="90" r="8.6" fill="#fff" stroke="#000" stroke-width="3.3"/>
<circle cx="817.5" cy="91.4" r="8.6" fill="#fff" stroke="#000" stroke-width="3.3"/>
<circle cx="820" cy="87.5" r="8.6" fill="#fff" stroke="#000" stroke-width="3.3"/>
<circle cx="822.5" cy="91.6" r="8.6" fill="#fff" stroke="#000" stroke-width="3.3"/>
<circle cx="825" cy="93" r="8.6" fill="#fff" stroke="#000" stroke-width="3.3"/>
<circle cx="827.5" cy="86" r="8.6" fill="#fff" stroke="#000" stroke-width="3.3"/>
<circle cx="830" cy="91.8" r="8.6" fill="#fff" stroke="#000" stroke-width="3.3"/>
<circle cx="832.5" cy="90" r="8.6" fill="#fff" stroke="#000" stroke-width="3.3"/>
<circle cx="835" cy="86.7" r="8.6" fill="#fff" stroke="#000" stroke-width="3.3"/>
<circle cx="837.5" cy="81.8" r="8.6" fill="#fff" stroke="#000" stroke-width="3.3"/>
<circle cx="840" cy="90.6" r="8.6" fill="#fff" stroke="#000" stroke-width="3.3"/>
<circle cx="842.5" cy="86.8" r="8.6" fill="#fff" stroke="#000" stroke-width="3.3"/>
<circle cx="845" cy="85.7" r="8.6" fill="#fff" stroke="#000" stroke-width="3.3"/>
<circle cx="847.5" cy="88.9" r="8.6" fill="#fff" stroke="#000" stroke-width="3.3"/>
<circle cx="850" cy="90" r="8.6" fill="#fff" stroke="#000" stroke-width="3.3"/>
<circle cx="852.5" cy="94.4" r="8.6" fill="#fff" stroke="#000" stroke-width="3.3"/>
<circle cx="855" cy="89.8" r="8.6" fill="#fff" stroke="#000" stroke-width="3.3"/>
<circle cx="857.5" cy="97.8" r="8.6" fill="#fff" stroke="#000" stroke-width="3.3"/>
<circle cx="860" cy="101.5" r="8.6" fill="#fff" stroke="#000" stroke-width="3.3"/>
<circle cx="862.5" cy="104.6" r="8.6" fill="#fff" stroke="#000" stroke-width="3.3"/>
<circle cx="865" cy="103.8" r="8.6" fill="#fff" stroke="#000" stroke-width="3.3"/>
<circle cx="867.5" cy="106.2" r="8.6" fill="#fff" stroke="#000" stroke-width="3.3"/>
<circle cx="870" cy="114.9" r="8.6" fill="#fff" stroke="#000" stroke-width="3.3"/>
<circle cx="872.5" cy="117.1" r="8.6" fill="#fff" stroke="#000" stroke-width="3.3"/>
<circle cx="875" cy="121.6" r="8.6" fill="#fff" stroke="#000" stroke-width="3.3"/>
<circle cx="877.5" cy="129.4" r="8.6" fill="#fff" stroke="#000" stroke-width="3.3"/>
<circle cx="880" cy="129.3" r="8.6" fill="#fff" stroke="#000" stroke-width="3.3"/>
<circle cx="882.5" cy="128.3" r="8.6" fill="#fff" stroke="#000" stroke-width="3.3"/>
<circle cx="885" cy="137.4" r="8.6" fill="#fff" stroke="#000" stroke-width="3.3"/>
<circle cx="887.5" cy="137.6" r="8.6" fill="#fff" stroke="#000" stroke-width="3.3"/>
<circle cx="890" cy="148.7" r="8.6" fill="#fff" stroke="#000" stroke-width="3.3"/>
<circle cx="892.5" cy="151.5" r="8.6" fill="#fff" stroke="#000" stroke-width="3.3"/>
<circle cx="895" cy="153.3" r="8.6" fill="#fff" stroke="#000" stroke-width="3.3"/>
<circle cx="897.5" cy="159.1" r="8.6" fill="#fff" stroke="#000" stroke-width="3.3"/>
<circle cx="900" cy="165.5" r="8.6" fill="#fff" stroke="#000" stroke-width="3.3"/>
<circle cx="902.5" cy="167.9" r="8.6" fill="#fff" stroke="#000" stroke-width="3.3"/>
<circle cx="905" cy="175" r="8.6" fill="#fff" stroke="#000" stroke-width="3.3"/>
<circle cx="907.5" cy="176.2" r="8.6" fill="#fff" stroke="#000" stroke-width="3.3"/>
<circle cx="910" cy="182.7" r="8.6" fill="#fff" stroke="#000" stroke-width="3.3"/>
<circle cx="912.5" cy="187.6" r="8.6" fill="#fff" stroke="#000" stroke-width="3.3"/>
<circle cx="915" cy="191.6" r="8.6" fill="#fff" stroke="#000" stroke-width="3.3"/>
<circle cx="917.5" cy="191.7" r="8.6" fill="#fff" stroke="#000" stroke-width="3.3"/>
<circle cx="920" cy="197.4" r="8.6" fill="#fff" stroke="#000" stroke-width="3.3"/>
<circle cx="922.5" cy="197" r="8.6" fill="#fff" stroke="#000" stroke-width="3.3"/>
<circle cx="925" cy="201" r="8.6" fill="#fff" stroke="#000" stroke-width="3.3"/>
<circle cx="927.5" cy="202.6" r="8.6" fill="#fff" stroke="#000" stroke-width="3.3"/>
<circle cx="930" cy="207.7" r="8.6" fill="#fff" stroke="#000" stroke-width="3.3"/>
<circle cx="932.5" cy="207.2" r="8.6" fill="#fff" stroke="#000" stroke-width="3.3"/>
<circle cx="935" cy="209.5" r="8.6" fill="#fff" stroke="#000" stroke-width="3.3"/>
<circle cx="937.5" cy="210.3" r="8.6" fill="#fff" stroke="#000" stroke-width="3.3"/>
<circle cx="940" cy="211" r="8.6" fill="#fff" stroke="#000" stroke-width="3.3"/>
<circle cx="942.5" cy="211" r="8.6" fill="#fff" stroke="#000" stroke-width="3.3"/>
<circle cx="945" cy="212" r="8.6" fill="#fff" stroke="#000" stroke-width="3.3"/>
<circle cx="947.5" cy="213.4" r="8.6" fill="#fff" stroke="#000" stroke-width="3.3"/>
<circle cx="950" cy="212.1" r="8.6" fill="#fff" stroke="#000" stroke-width="3.3"/>
<circle cx="952.5" cy="212.5" r="8.6" fill="#fff" stroke="#000" stroke-width="3.3"/>
<circle cx="955" cy="212.9" r="8.6" fill="#fff" stroke="#000" stroke-width="3.3"/>
<circle cx="957.5" cy="211.9" r="8.6" fill="#fff" stroke="#000" stroke-width="3.3"/>
<circle cx="960" cy="211.1" r="8.6" fill="#fff" stroke="#000" stroke-width="3.3"/>
<circle cx="962.5" cy="211.7" r="8.6" fill="#fff" stroke="#000" stroke-width="3.3"/>
<circle cx="965" cy="213" r="8.6" fill="#fff" stroke="#000" stroke-width="3.3"/>
<circle cx="967.5" cy="210.8" r="8.6" fill="#fff" stroke="#000" stroke-width="3.3"/>
<circle cx="970" cy="211.7" r="8.6" fill="#fff" stroke="#000" stroke-width="3.3"/>
<circle cx="972.5" cy="212.9" r="8.6" fill="#fff" stroke="#000" stroke-width="3.3"/>
<circle cx="975" cy="212.8" r="8.6" fill="#fff" stroke="#000" stroke-width="3.3"/>
<circle cx="977.5" cy="212.2" r="8.6" fill="#fff" stroke="#000" stroke-width="3.3"/>
<circle cx="980" cy="212.8" r="8.6" fill="#fff" stroke="#000" stroke-width="3.3"/>
<circle cx="982.5" cy="212.3" r="8.6" fill="#fff" stroke="#000" stroke-width="3.3"/>
<circle cx="985" cy="211.3" r="8.6" fill="#fff" stroke="#000" stroke-width="3.3"/>
<circle cx="987.5" cy="211" r="8.6" fill="#fff" stroke="#000" stroke-width="3.3"/>
<circle cx="990" cy="211.7" r="8.6" fill="#fff" stroke="#000" stroke-width="3.3"/>
<circle cx="992.5" cy="213" r="8.6" fill="#fff" stroke="#000" stroke-width="3.3"/>
<circle cx="995" cy="211.8" r="8.6" fill="#fff" stroke="#000" stroke-width="3.3"/>
<circle cx="997.5" cy="211.5" r="8.6" fill="#fff" stroke="#000" stroke-width="3.3"/>
<circle cx="1000" cy="211.6" r="8.6" fill="#fff" stroke="#000" stroke-width="3.3"/>
<circle cx="1002.5" cy="211.1" r="8.6" fill="#fff" stroke="#000" stroke-width="3.3"/>
<circle cx="1005" cy="212.2" r="8.6" fill="#fff" stroke="#000" stroke-width="3.3"/>
<circle cx="1007.5" cy="211.4" r="8.6" fill="#fff" stroke="#000" stroke-width="3.3"/>
<circle cx="1010" cy="212.6" r="8.6" fill="#fff" stroke="#000" stroke-width="3.3"/>
<circle cx="1012.5" cy="210.5" r="8.6" fill="#fff" stroke="#000" stroke-width="3.3"/>
<circle cx="1015" cy="212.6" r="8.6" fill="#fff" stroke="#000" stroke-width="3.3"/>
<circle cx="1017.5" cy="211.8" r="8.6" fill="#fff" stroke="#000" stroke-width="3.3"/>
<circle cx="1020" cy="210.8" r="8.6" fill="#fff" stroke="#000" stroke-width="3.3"/>
<circle cx="1022.5" cy="212.9" r="8.6" fill="#fff" stroke="#000" stroke-width="3.3"/>
<circle cx="1025" cy="212.1" r="8.6" fill="#fff" stroke="#000" stroke-width="3.3"/>
<circle cx="1027.5" cy="210.6" r="8.6" fill="#fff" stroke="#000" stroke-width="3.3"/>
<circle cx="1030" cy="211.7" r="8.6" fill="#fff" stroke="#000" stroke-width="3.3"/>
<circle cx="1032.5" cy="212.6" r="8.6" fill="#fff" stroke="#000" stroke-width="3.3"/>
<circle cx="1035" cy="212" r="8.6" fill="#fff" stroke="#000" stroke-width="3.3"/>
<circle cx="1037.5" cy="213" r="8.6" fill="#fff" stroke="#000" stroke-width="3.3"/>
<circle cx="1040" cy="213" r="8.6" fill="#fff" stroke="#000" stroke-width="3.3"/>
<circle cx="1042.5" cy="212.9" r="8.6" fill="#fff" stroke="#000" stroke-width="3.3"/>
<circle cx="1045" cy="212.7" r="8.6" fill="#fff" stroke="#000" stroke-width="3.3"/>
<circle cx="1047.5" cy="213.5" r="8.6" fill="#fff" stroke="#000" stroke-width="3.3"/>
<path d="M856 60 L921 212 L1052 212" fill="none" stroke="#ff0000" stroke-width="7.5" stroke-linejoin="round" stroke-linejoin="miter"/>
</g>
<rect x="796.5" y="59" width="256" height="168" fill="none" stroke="#000" stroke-width="7.5"/>
<rect x="836.7" y="219.5" width="6" height="5" fill="#000000"/>
<rect x="879.3" y="219.5" width="6" height="5" fill="#000000"/>
<text transform="translate(797 261.5) scale(1.0 1)" font-size="40" fill="#000000" text-anchor="middle" font-family='"Liberation Sans", sans-serif' font-weight="bold"  stroke="#000000" stroke-width="0.48" stroke-linejoin="round">3</text>
<text transform="translate(925 261.5) scale(1.0 1)" font-size="40" fill="#000000" text-anchor="middle" font-family='"Liberation Sans", sans-serif' font-weight="bold"  stroke="#000000" stroke-width="0.48" stroke-linejoin="round">0</text>
<text transform="translate(1052.5 261.5) scale(1.0 1)" font-size="40" fill="#000000" text-anchor="middle" font-family='"Liberation Sans", sans-serif' font-weight="bold"  stroke="#000000" stroke-width="0.48" stroke-linejoin="round">-3</text>
</g>
<g id="pb">
<clipPath id="cpbL"><rect x="80" y="391" width="489" height="308"/></clipPath>
<g clip-path="url(#cpbL)">
<path d="M72 614.5 L76.7 614.4 L81.4 612.7 L86.1 614.6 L90.8 614.9 L95.5 613.8 L100.2 613.7 L104.9 615.3 L109.6 612.7 L114.3 614.2 L119 615.5 L123.7 613.2 L128.4 614.2 L133.1 615 L137.8 613.6 L142.5 614 L147.2 614.1 L151.9 612.6 L156.6 613 L161.3 613.1 L166 613.1 L170.7 612 L175.4 611.3 L180.1 609.9 L184.8 609.5 L189.5 609.4 L194.2 607.2 L198.9 604.4 L203.6 602.1 L208.3 603.4 L213 598.6 L217.7 594.4 L222.4 586 L227.1 585.5 L231.8 580.1 L236.5 576.2 L241.2 568.2 L245.9 560.8 L250.6 554.9 L255.3 543.4 L260 541.6 L264.7 533.1 L269.4 524 L274.1 521.1 L278.8 515.5 L283.5 502.5 L288.2 498.2 L292.9 494.8 L297.6 489.6 L302.3 483.9 L307 478.7 L311.7 482 L316.4 477 L321.1 470.2 L325.8 468.6 L330.5 474.9 L335.2 474.2 L339.9 477.8 L344.6 478.7 L349.3 479.3 L354 487.1 L358.7 488.4 L363.4 498.8 L368.1 508.5 L372.8 518.4 L377.5 524.9 L382.2 535.3 L386.9 545.5 L391.6 554.2 L396.3 563 L401 570.1 L405.7 576.5 L410.4 584.7 L415.1 589.4 L419.8 593.3 L424.5 597.9 L429.2 602.4 L433.9 605.3 L438.6 608.1 L443.3 609.9 L448 611.7 L452.7 612.7 L457.4 612.7 L462.1 614.9 L466.8 616 L471.5 615.9 L476.2 615.7 L480.9 616.4 L485.6 615.6 L490.3 615.1 L495 616.6 L499.7 616 L504.4 617.2 L509.1 616 L513.8 615 L518.5 616.1 L523.2 617.9 L527.9 616.6 L532.6 616 L537.3 616.4 L542 617.3 L546.7 617.3 L551.4 617.1 L556.1 618 L560.8 617.5 L565.5 617.1" fill="none" stroke="#000000" stroke-width="5" stroke-linejoin="round" />
<circle cx="72" cy="614.5" r="8.6" fill="none" stroke="#000" stroke-width="3.6"/>
<circle cx="76.7" cy="614.4" r="8.6" fill="none" stroke="#000" stroke-width="3.6"/>
<circle cx="81.4" cy="612.7" r="8.6" fill="none" stroke="#000" stroke-width="3.6"/>
<circle cx="86.1" cy="614.6" r="8.6" fill="none" stroke="#000" stroke-width="3.6"/>
<circle cx="90.8" cy="614.9" r="8.6" fill="none" stroke="#000" stroke-width="3.6"/>
<circle cx="95.5" cy="613.8" r="8.6" fill="none" stroke="#000" stroke-width="3.6"/>
<circle cx="100.2" cy="613.7" r="8.6" fill="none" stroke="#000" stroke-width="3.6"/>
<circle cx="104.9" cy="615.3" r="8.6" fill="none" stroke="#000" stroke-width="3.6"/>
<circle cx="109.6" cy="612.7" r="8.6" fill="none" stroke="#000" stroke-width="3.6"/>
<circle cx="114.3" cy="614.2" r="8.6" fill="none" stroke="#000" stroke-width="3.6"/>
<circle cx="119" cy="615.5" r="8.6" fill="none" stroke="#000" stroke-width="3.6"/>
<circle cx="123.7" cy="613.2" r="8.6" fill="none" stroke="#000" stroke-width="3.6"/>
<circle cx="128.4" cy="614.2" r="8.6" fill="none" stroke="#000" stroke-width="3.6"/>
<circle cx="133.1" cy="615" r="8.6" fill="none" stroke="#000" stroke-width="3.6"/>
<circle cx="137.8" cy="613.6" r="8.6" fill="none" stroke="#000" stroke-width="3.6"/>
<circle cx="142.5" cy="614" r="8.6" fill="none" stroke="#000" stroke-width="3.6"/>
<circle cx="147.2" cy="614.1" r="8.6" fill="none" stroke="#000" stroke-width="3.6"/>
<circle cx="151.9" cy="612.6" r="8.6" fill="none" stroke="#000" stroke-width="3.6"/>
<circle cx="156.6" cy="613" r="8.6" fill="none" stroke="#000" stroke-width="3.6"/>
<circle cx="161.3" cy="613.1" r="8.6" fill="none" stroke="#000" stroke-width="3.6"/>
<circle cx="166" cy="613.1" r="8.6" fill="none" stroke="#000" stroke-width="3.6"/>
<circle cx="170.7" cy="612" r="8.6" fill="none" stroke="#000" stroke-width="3.6"/>
<circle cx="175.4" cy="611.3" r="8.6" fill="none" stroke="#000" stroke-width="3.6"/>
<circle cx="180.1" cy="609.9" r="8.6" fill="none" stroke="#000" stroke-width="3.6"/>
<circle cx="184.8" cy="609.5" r="8.6" fill="none" stroke="#000" stroke-width="3.6"/>
<circle cx="189.5" cy="609.4" r="8.6" fill="none" stroke="#000" stroke-width="3.6"/>
<circle cx="194.2" cy="607.2" r="8.6" fill="none" stroke="#000" stroke-width="3.6"/>
<circle cx="198.9" cy="604.4" r="8.6" fill="none" stroke="#000" stroke-width="3.6"/>
<circle cx="203.6" cy="602.1" r="8.6" fill="none" stroke="#000" stroke-width="3.6"/>
<circle cx="208.3" cy="603.4" r="8.6" fill="none" stroke="#000" stroke-width="3.6"/>
<circle cx="213" cy="598.6" r="8.6" fill="none" stroke="#000" stroke-width="3.6"/>
<circle cx="217.7" cy="594.4" r="8.6" fill="none" stroke="#000" stroke-width="3.6"/>
<circle cx="222.4" cy="586" r="8.6" fill="none" stroke="#000" stroke-width="3.6"/>
<circle cx="227.1" cy="585.5" r="8.6" fill="none" stroke="#000" stroke-width="3.6"/>
<circle cx="231.8" cy="580.1" r="8.6" fill="none" stroke="#000" stroke-width="3.6"/>
<circle cx="236.5" cy="576.2" r="8.6" fill="none" stroke="#000" stroke-width="3.6"/>
<circle cx="241.2" cy="568.2" r="8.6" fill="none" stroke="#000" stroke-width="3.6"/>
<circle cx="245.9" cy="560.8" r="8.6" fill="none" stroke="#000" stroke-width="3.6"/>
<circle cx="250.6" cy="554.9" r="8.6" fill="none" stroke="#000" stroke-width="3.6"/>
<circle cx="255.3" cy="543.4" r="8.6" fill="none" stroke="#000" stroke-width="3.6"/>
<circle cx="260" cy="541.6" r="8.6" fill="none" stroke="#000" stroke-width="3.6"/>
<circle cx="264.7" cy="533.1" r="8.6" fill="none" stroke="#000" stroke-width="3.6"/>
<circle cx="269.4" cy="524" r="8.6" fill="none" stroke="#000" stroke-width="3.6"/>
<circle cx="274.1" cy="521.1" r="8.6" fill="none" stroke="#000" stroke-width="3.6"/>
<circle cx="278.8" cy="515.5" r="8.6" fill="none" stroke="#000" stroke-width="3.6"/>
<circle cx="283.5" cy="502.5" r="8.6" fill="none" stroke="#000" stroke-width="3.6"/>
<circle cx="288.2" cy="498.2" r="8.6" fill="none" stroke="#000" stroke-width="3.6"/>
<circle cx="292.9" cy="494.8" r="8.6" fill="none" stroke="#000" stroke-width="3.6"/>
<circle cx="297.6" cy="489.6" r="8.6" fill="none" stroke="#000" stroke-width="3.6"/>
<circle cx="302.3" cy="483.9" r="8.6" fill="none" stroke="#000" stroke-width="3.6"/>
<circle cx="307" cy="478.7" r="8.6" fill="none" stroke="#000" stroke-width="3.6"/>
<circle cx="311.7" cy="482" r="8.6" fill="none" stroke="#000" stroke-width="3.6"/>
<circle cx="316.4" cy="477" r="8.6" fill="none" stroke="#000" stroke-width="3.6"/>
<circle cx="321.1" cy="470.2" r="8.6" fill="none" stroke="#000" stroke-width="3.6"/>
<circle cx="325.8" cy="468.6" r="8.6" fill="none" stroke="#000" stroke-width="3.6"/>
<circle cx="330.5" cy="474.9" r="8.6" fill="none" stroke="#000" stroke-width="3.6"/>
<circle cx="335.2" cy="474.2" r="8.6" fill="none" stroke="#000" stroke-width="3.6"/>
<circle cx="339.9" cy="477.8" r="8.6" fill="none" stroke="#000" stroke-width="3.6"/>
<circle cx="344.6" cy="478.7" r="8.6" fill="none" stroke="#000" stroke-width="3.6"/>
<circle cx="349.3" cy="479.3" r="8.6" fill="none" stroke="#000" stroke-width="3.6"/>
<circle cx="354" cy="487.1" r="8.6" fill="none" stroke="#000" stroke-width="3.6"/>
<circle cx="358.7" cy="488.4" r="8.6" fill="none" stroke="#000" stroke-width="3.6"/>
<circle cx="363.4" cy="498.8" r="8.6" fill="none" stroke="#000" stroke-width="3.6"/>
<circle cx="368.1" cy="508.5" r="8.6" fill="none" stroke="#000" stroke-width="3.6"/>
<circle cx="372.8" cy="518.4" r="8.6" fill="none" stroke="#000" stroke-width="3.6"/>
<circle cx="377.5" cy="524.9" r="8.6" fill="none" stroke="#000" stroke-width="3.6"/>
<circle cx="382.2" cy="535.3" r="8.6" fill="none" stroke="#000" stroke-width="3.6"/>
<circle cx="386.9" cy="545.5" r="8.6" fill="none" stroke="#000" stroke-width="3.6"/>
<circle cx="391.6" cy="554.2" r="8.6" fill="none" stroke="#000" stroke-width="3.6"/>
<circle cx="396.3" cy="563" r="8.6" fill="none" stroke="#000" stroke-width="3.6"/>
<circle cx="401" cy="570.1" r="8.6" fill="none" stroke="#000" stroke-width="3.6"/>
<circle cx="405.7" cy="576.5" r="8.6" fill="none" stroke="#000" stroke-width="3.6"/>
<circle cx="410.4" cy="584.7" r="8.6" fill="none" stroke="#000" stroke-width="3.6"/>
<circle cx="415.1" cy="589.4" r="8.6" fill="none" stroke="#000" stroke-width="3.6"/>
<circle cx="419.8" cy="593.3" r="8.6" fill="none" stroke="#000" stroke-width="3.6"/>
<circle cx="424.5" cy="597.9" r="8.6" fill="none" stroke="#000" stroke-width="3.6"/>
<circle cx="429.2" cy="602.4" r="8.6" fill="none" stroke="#000" stroke-width="3.6"/>
<circle cx="433.9" cy="605.3" r="8.6" fill="none" stroke="#000" stroke-width="3.6"/>
<circle cx="438.6" cy="608.1" r="8.6" fill="none" stroke="#000" stroke-width="3.6"/>
<circle cx="443.3" cy="609.9" r="8.6" fill="none" stroke="#000" stroke-width="3.6"/>
<circle cx="448" cy="611.7" r="8.6" fill="none" stroke="#000" stroke-width="3.6"/>
<circle cx="452.7" cy="612.7" r="8.6" fill="none" stroke="#000" stroke-width="3.6"/>
<circle cx="457.4" cy="612.7" r="8.6" fill="none" stroke="#000" stroke-width="3.6"/>
<circle cx="462.1" cy="614.9" r="8.6" fill="none" stroke="#000" stroke-width="3.6"/>
<circle cx="466.8" cy="616" r="8.6" fill="none" stroke="#000" stroke-width="3.6"/>
<circle cx="471.5" cy="615.9" r="8.6" fill="none" stroke="#000" stroke-width="3.6"/>
<circle cx="476.2" cy="615.7" r="8.6" fill="none" stroke="#000" stroke-width="3.6"/>
<circle cx="480.9" cy="616.4" r="8.6" fill="none" stroke="#000" stroke-width="3.6"/>
<circle cx="485.6" cy="615.6" r="8.6" fill="none" stroke="#000" stroke-width="3.6"/>
<circle cx="490.3" cy="615.1" r="8.6" fill="none" stroke="#000" stroke-width="3.6"/>
<circle cx="495" cy="616.6" r="8.6" fill="none" stroke="#000" stroke-width="3.6"/>
<circle cx="499.7" cy="616" r="8.6" fill="none" stroke="#000" stroke-width="3.6"/>
<circle cx="504.4" cy="617.2" r="8.6" fill="none" stroke="#000" stroke-width="3.6"/>
<circle cx="509.1" cy="616" r="8.6" fill="none" stroke="#000" stroke-width="3.6"/>
<circle cx="513.8" cy="615" r="8.6" fill="none" stroke="#000" stroke-width="3.6"/>
<circle cx="518.5" cy="616.1" r="8.6" fill="none" stroke="#000" stroke-width="3.6"/>
<circle cx="523.2" cy="617.9" r="8.6" fill="none" stroke="#000" stroke-width="3.6"/>
<circle cx="527.9" cy="616.6" r="8.6" fill="none" stroke="#000" stroke-width="3.6"/>
<circle cx="532.6" cy="616" r="8.6" fill="none" stroke="#000" stroke-width="3.6"/>
<circle cx="537.3" cy="616.4" r="8.6" fill="none" stroke="#000" stroke-width="3.6"/>
<circle cx="542" cy="617.3" r="8.6" fill="none" stroke="#000" stroke-width="3.6"/>
<circle cx="546.7" cy="617.3" r="8.6" fill="none" stroke="#000" stroke-width="3.6"/>
<circle cx="551.4" cy="617.1" r="8.6" fill="none" stroke="#000" stroke-width="3.6"/>
<circle cx="556.1" cy="618" r="8.6" fill="none" stroke="#000" stroke-width="3.6"/>
<circle cx="560.8" cy="617.5" r="8.6" fill="none" stroke="#000" stroke-width="3.6"/>
<circle cx="565.5" cy="617.1" r="8.6" fill="none" stroke="#000" stroke-width="3.6"/>
<path d="M70 614.5 L72 614.5 L74 614.5 L76 614.5 L78 614.5 L80 614.5 L82 614.5 L84 614.5 L86 614.5 L88 614.5 L90 614.5 L92 614.5 L94 614.5 L96 614.5 L98 614.5 L100 614.5 L102 614.5 L104 614.5 L106 614.5 L108 614.5 L110 614.5 L112 614.5 L114 614.5 L116 614.5 L118 614.5 L120 614.5 L122 614.5 L124 614.5 L126 614.5 L128 614.5 L130 614.5 L132 614.5 L134 614.5 L136 614.5 L138 614.5 L140 614.5 L142 614.5 L144 614.5 L146 614.5 L148 614.5 L150 614.5 L152 614.5 L154 614.5 L156 614.5 L158 614.5 L160 614.5 L162 614.5 L164 614.5 L166 614.5 L168 614.5 L170 614.5 L172 614.5 L174 614.5 L176 614.5 L178 614.5 L180 614.5 L182 614.5 L184 614.5 L186 614.5 L188 614.5 L190 614.5 L192 614.5 L194 614.5 L196 614.5 L198 614.5 L200 614.5 L202 614.5 L204 614.5 L206 614.5 L208 614.6 L210 614.6 L212 614.6 L214 614.6 L216 614.6 L218 614.6 L220 614.6 L222 614.7 L224 614.7 L226 614.7 L228 614.7 L230 614.7 L232 614.7 L234 614.8 L236 614.8 L238 614.8 L240 614.8 L242 614.8 L244 614.9 L246 614.9 L248 614.9 L250 614.9 L252 615 L254 615 L256 615 L258 615 L260 615 L262 615.1 L264 615.1 L266 615.1 L268 615.1 L270 615.2 L272 615.2 L274 615.2 L276 615.2 L278 615.3 L280 615.3 L282 615.3 L284 615.4 L286 615.4 L288 615.4 L290 615.4 L292 615.5 L294 615.5 L296 615.5 L298 615.5 L300 615.6 L302 615.6 L304 615.6 L306 615.7 L308 615.7 L310 615.7 L312 615.7 L314 615.8 L316 615.8 L318 615.8 L320 615.9 L322 615.9 L324 615.9 L326 615.9 L328 616 L330 616 L332 616 L334 616.1 L336 616.1 L338 616.1 L340 616.1 L342 616.2 L344 616.2 L346 616.2 L348 616.3 L350 616.3 L352 616.3 L354 616.3 L356 616.4 L358 616.4 L360 616.4 L362 616.5 L364 616.5 L366 616.5 L368 616.5 L370 616.6 L372 616.6 L374 616.6 L376 616.6 L378 616.7 L380 616.7 L382 616.7 L384 616.8 L386 616.8 L388 616.8 L390 616.8 L392 616.9 L394 616.9 L396 616.9 L398 616.9 L400 617 L402 617 L404 617 L406 617 L408 617 L410 617.1 L412 617.1 L414 617.1 L416 617.1 L418 617.2 L420 617.2 L422 617.2 L424 617.2 L426 617.2 L428 617.3 L430 617.3 L432 617.3 L434 617.3 L436 617.3 L438 617.3 L440 617.4 L442 617.4 L444 617.4 L446 617.4 L448 617.4 L450 617.4 L452 617.4 L454 617.5 L456 617.5 L458 617.5 L460 617.5 L462 617.5 L464 617.5 L466 617.5 L468 617.5 L470 617.5 L472 617.5 L474 617.5 L476 617.5 L478 617.5 L480 617.5 L482 617.5 L484 617.5 L486 617.5 L488 617.5 L490 617.5 L492 617.5 L494 617.5 L496 617.5 L498 617.5 L500 617.5 L502 617.5 L504 617.5 L506 617.5 L508 617.5 L510 617.5 L512 617.5 L514 617.5 L516 617.5 L518 617.5 L520 617.5 L522 617.5 L524 617.5 L526 617.5 L528 617.5 L530 617.5 L532 617.5 L534 617.5 L536 617.5 L538 617.5 L540 617.5 L542 617.5 L544 617.5 L546 617.5 L548 617.5 L550 617.5 L552 617.5 L554 617.5 L556 617.5 L558 617.5 L560 617.5 L562 617.5 L564 617.5 L566 617.5 L568 617.5" fill="none" stroke="#2a0a82" stroke-width="7.5" stroke-linejoin="round" />
<path d="M118 614.1 L120 614.1 L122 614.1 L124 614.1 L126 614.1 L128 614.1 L130 614.1 L132 614 L134 614 L136 614 L138 614 L140 613.9 L142 613.9 L144 613.9 L146 613.8 L148 613.8 L150 613.7 L152 613.7 L154 613.6 L156 613.5 L158 613.4 L160 613.3 L162 613.2 L164 613.1 L166 613 L168 612.8 L170 612.6 L172 612.4 L174 612.2 L176 611.9 L178 611.6 L180 611.3 L182 610.9 L184 610.5 L186 610.1 L188 609.6 L190 609.1 L192 608.5 L194 607.8 L196 607.1 L198 606.4 L200 605.5 L202 604.6 L204 603.7 L206 602.6 L208 601.5 L210 600.3 L212 599.1 L214 597.7 L216 596.3 L218 594.8 L220 593.2 L222 591.5 L224 589.7 L226 587.9 L228 586 L230 584 L232 582 L234 579.9 L236 577.8 L238 575.6 L240 573.4 L242 571.1 L244 568.9 L246 566.6 L248 564.4 L250 562.2 L252 560 L254 557.8 L256 555.7 L258 553.7 L260 551.8 L262 549.9 L264 548.2 L266 546.6 L268 545.1 L270 543.8 L272 542.6 L274 541.6 L276 540.8 L278 540.1 L280 539.7 L282 539.4 L284 539.4 L286 539.5 L288 539.8 L290 540.3 L292 541 L294 541.9 L296 542.9 L298 544.2 L300 545.5 L302 547.1 L304 548.7 L306 550.5 L308 552.4 L310 554.4 L312 556.5 L314 558.6 L316 560.8 L318 563 L320 565.3 L322 567.6 L324 569.9 L326 572.2 L328 574.5 L330 576.8 L332 579 L334 581.2 L336 583.3 L338 585.4 L340 587.4 L342 589.4 L344 591.3 L346 593.1 L348 594.8 L350 596.4 L352 598 L354 599.5 L356 600.9 L358 602.2 L360 603.4 L362 604.6 L364 605.6 L366 606.6 L368 607.6 L370 608.4 L372 609.2 L374 610 L376 610.6 L378 611.2 L380 611.8 L382 612.3 L384 612.8 L386 613.2 L388 613.6 L390 613.9 L392 614.3 L394 614.5 L396 614.8 L398 615 L400 615.2 L402 615.4 L404 615.6 L406 615.7 L408 615.9 L410 616 L412 616.1 L414 616.2 L416 616.3 L418 616.4 L420 616.5 L422 616.5 L424 616.6 L426 616.7 L428 616.7 L430 616.8 L432 616.8 L434 616.8 L436 616.9 L438 616.9 L440 616.9 L442 617 L444 617 L446 617 L448 617.1 L450 617.1" fill="none" stroke="#ff3000" stroke-width="8.3" stroke-linejoin="round" stroke-linecap="round"/>
<path d="M144 614.1 L146 614.1 L148 614.1 L150 614.1 L152 614.1 L154 614.1 L156 614.1 L158 614.1 L160 614.1 L162 614.1 L164 614.1 L166 614.1 L168 614 L170 614 L172 614 L174 614 L176 614 L178 614 L180 614 L182 614 L184 613.9 L186 613.9 L188 613.9 L190 613.9 L192 613.8 L194 613.8 L196 613.8 L198 613.8 L200 613.7 L202 613.7 L204 613.7 L206 613.6 L208 613.6 L210 613.5 L212 613.4 L214 613.4 L216 613.3 L218 613.2 L220 613.1 L222 612.9 L224 612.8 L226 612.6 L228 612.4 L230 612.2 L232 611.9 L234 611.7 L236 611.3 L238 611 L240 610.6 L242 610.1 L244 609.6 L246 609 L248 608.4 L250 607.7 L252 606.9 L254 606.1 L256 605.1 L258 604.1 L260 603 L262 601.8 L264 600.4 L266 599 L268 597.5 L270 595.8 L272 594.1 L274 592.2 L276 590.1 L278 588 L280 585.7 L282 583.3 L284 580.8 L286 578.2 L288 575.5 L290 572.6 L292 569.6 L294 566.6 L296 563.4 L298 560.2 L300 556.9 L302 553.6 L304 550.2 L306 546.8 L308 543.4 L310 539.9 L312 536.6 L314 533.2 L316 529.9 L318 526.8 L320 523.7 L322 520.7 L324 517.9 L326 515.2 L328 512.7 L330 510.5 L332 508.4 L334 506.6 L336 505 L338 503.7 L340 502.6 L342 501.9 L344 501.4 L346 501.2 L348 501.4 L350 501.8 L352 502.5 L354 503.5 L356 504.7 L358 506.2 L360 508 L362 510.1 L364 512.3 L366 514.8 L368 517.4 L370 520.2 L372 523.2 L374 526.3 L376 529.5 L378 532.8 L380 536.2 L382 539.6 L384 543 L386 546.5 L388 550 L390 553.4 L392 556.8 L394 560.2 L396 563.5 L398 566.8 L400 569.9 L402 573 L404 575.9 L406 578.7 L408 581.5 L410 584.1 L412 586.6 L414 588.9 L416 591.2 L418 593.3 L420 595.3 L422 597.1 L424 598.9 L426 600.5 L428 602 L430 603.4 L432 604.7 L434 605.9 L436 607 L438 608 L440 609 L442 609.8 L444 610.6 L446 611.3 L448 611.9 L450 612.5 L452 613 L454 613.5 L456 613.9 L458 614.2 L460 614.6 L462 614.9 L464 615.1 L466 615.3 L468 615.5 L470 615.7 L472 615.9 L474 616 L476 616.1 L478 616.2 L480 616.3 L482 616.4 L484 616.5 L486 616.6 L488 616.6 L490 616.7 L492 616.7 L494 616.7 L496 616.8 L498 616.8 L500 616.8 L502 616.9 L504 616.9 L506 616.9 L508 616.9 L510 616.9 L512 617 L514 617 L516 617 L518 617 L520 617 L522 617 L524 617 L526 617.1 L528 617.1 L530 617.1 L532 617.1 L534 617.1 L536 617.1 L538 617.1 L540 617.1 L542 617.1 L544 617.1 L546 617.1 L548 617.1 L550 617.1" fill="none" stroke="#0c30ff" stroke-width="8.3" stroke-linejoin="round" stroke-linecap="round"/>
<path d="M70 614.1 L72 614.1 L74 614.1 L76 614.1 L78 614.1 L80 614.1 L82 614.1 L84 614 L86 614 L88 614 L90 614 L92 614 L94 614 L96 614 L98 614 L100 614 L102 614 L104 614 L106 613.9 L108 613.9 L110 613.9 L112 613.9 L114 613.9 L116 613.9 L118 613.9 L120 613.9 L122 613.8 L124 613.8 L126 613.8 L128 613.8 L130 613.8 L132 613.7 L134 613.7 L136 613.7 L138 613.6 L140 613.6 L142 613.6 L144 613.5 L146 613.5 L148 613.4 L150 613.4 L152 613.3 L154 613.2 L156 613.1 L158 613 L160 612.9 L162 612.8 L164 612.7 L166 612.5 L168 612.3 L170 612.1 L172 611.9 L174 611.7 L176 611.4 L178 611.1 L180 610.8 L182 610.4 L184 610 L186 609.5 L188 609 L190 608.4 L192 607.8 L194 607.2 L196 606.4 L198 605.6 L200 604.8 L202 603.8 L204 602.8 L206 601.7 L208 600.5 L210 599.3 L212 597.9 L214 596.5 L216 595 L218 593.3 L220 591.6 L222 589.8 L224 587.9 L226 585.8 L228 583.7 L230 581.5 L232 579.2 L234 576.8 L236 574.3 L238 571.8 L240 569.1 L242 566.4 L244 563.6 L246 560.8 L248 557.9 L250 554.9 L252 551.9 L254 548.9 L256 545.8 L258 542.8 L260 539.7 L262 536.6 L264 533.5 L266 530.5 L268 527.4 L270 524.4 L272 521.5 L274 518.6 L276 515.7 L278 512.9 L280 510.1 L282 507.4 L284 504.8 L286 502.3 L288 499.8 L290 497.5 L292 495.2 L294 493 L296 490.8 L298 488.8 L300 486.9 L302 485 L304 483.3 L306 481.6 L308 480.1 L310 478.6 L312 477.3 L314 476 L316 474.9 L318 474 L320 473.1 L322 472.4 L324 471.9 L326 471.5 L328 471.3 L330 471.2 L332 471.4 L334 471.7 L336 472.3 L338 473 L340 473.9 L342 475.1 L344 476.5 L346 478.1 L348 479.9 L350 481.9 L352 484.1 L354 486.6 L356 489.2 L358 492 L360 495 L362 498.2 L364 501.5 L366 504.9 L368 508.4 L370 512.1 L372 515.8 L374 519.6 L376 523.5 L378 527.4 L380 531.3 L382 535.2 L384 539.1 L386 542.9 L388 546.8 L390 550.5 L392 554.3 L394 557.9 L396 561.4 L398 564.9 L400 568.2 L402 571.4 L404 574.5 L406 577.5 L408 580.3 L410 583 L412 585.6 L414 588 L416 590.4 L418 592.5 L420 594.6 L422 596.5 L424 598.3 L426 599.9 L428 601.5 L430 602.9 L432 604.2 L434 605.5 L436 606.6 L438 607.6 L440 608.6 L442 609.4 L444 610.2 L446 610.9 L448 611.5 L450 612.1 L452 612.6 L454 613.1 L456 613.5 L458 613.9 L460 614.3 L462 614.6 L464 614.8 L466 615 L468 615.3 L470 615.4 L472 615.6 L474 615.7 L476 615.9 L478 616 L480 616.1 L482 616.2 L484 616.2 L486 616.3 L488 616.4 L490 616.4 L492 616.5 L494 616.5 L496 616.6 L498 616.6 L500 616.6 L502 616.7 L504 616.7 L506 616.7 L508 616.7 L510 616.8 L512 616.8 L514 616.8 L516 616.8 L518 616.8 L520 616.8 L522 616.9 L524 616.9 L526 616.9 L528 616.9 L530 616.9 L532 616.9 L534 616.9 L536 616.9 L538 617 L540 617 L542 617 L544 617 L546 617 L548 617 L550 617 L552 617 L554 617 L556 617 L558 617 L560 617.1 L562 617.1 L564 617.1 L566 617.1 L568 617.1" fill="none" stroke="#ff0000" stroke-width="8.8" stroke-linejoin="round" />
</g>
<clipPath id="cpbV"><rect x="586" y="620" width="506.5" height="78.5"/></clipPath><g clip-path="url(#cpbV)">
<circle cx="580" cy="679.4" r="8.6" fill="#fff" stroke="#000" stroke-width="3.9"/>
<circle cx="584.2" cy="679.9" r="8.6" fill="#fff" stroke="#000" stroke-width="3.9"/>
<circle cx="588.5" cy="679.1" r="8.6" fill="#fff" stroke="#000" stroke-width="3.9"/>
<circle cx="592.8" cy="678.8" r="8.6" fill="#fff" stroke="#000" stroke-width="3.9"/>
<circle cx="597" cy="676.5" r="8.6" fill="#fff" stroke="#000" stroke-width="3.9"/>
<circle cx="601.2" cy="676.7" r="8.6" fill="#fff" stroke="#000" stroke-width="3.9"/>
<circle cx="605.5" cy="676.8" r="8.6" fill="#fff" stroke="#000" stroke-width="3.9"/>
<circle cx="609.8" cy="675.4" r="8.6" fill="#fff" stroke="#000" stroke-width="3.9"/>
<circle cx="614" cy="675.9" r="8.6" fill="#fff" stroke="#000" stroke-width="3.9"/>
<circle cx="618.2" cy="674.9" r="8.6" fill="#fff" stroke="#000" stroke-width="3.9"/>
<circle cx="622.5" cy="674.7" r="8.6" fill="#fff" stroke="#000" stroke-width="3.9"/>
<circle cx="626.8" cy="673.7" r="8.6" fill="#fff" stroke="#000" stroke-width="3.9"/>
<circle cx="631" cy="676.1" r="8.6" fill="#fff" stroke="#000" stroke-width="3.9"/>
<circle cx="635.2" cy="675.4" r="8.6" fill="#fff" stroke="#000" stroke-width="3.9"/>
<circle cx="639.5" cy="674.9" r="8.6" fill="#fff" stroke="#000" stroke-width="3.9"/>
<circle cx="643.8" cy="676" r="8.6" fill="#fff" stroke="#000" stroke-width="3.9"/>
<circle cx="648" cy="679.1" r="8.6" fill="#fff" stroke="#000" stroke-width="3.9"/>
<circle cx="652.2" cy="677.9" r="8.6" fill="#fff" stroke="#000" stroke-width="3.9"/>
<circle cx="656.5" cy="679.8" r="8.6" fill="#fff" stroke="#000" stroke-width="3.9"/>
<circle cx="660.8" cy="680.6" r="8.6" fill="#fff" stroke="#000" stroke-width="3.9"/>
<circle cx="665" cy="680.2" r="8.6" fill="#fff" stroke="#000" stroke-width="3.9"/>
<circle cx="669.2" cy="679.5" r="8.6" fill="#fff" stroke="#000" stroke-width="3.9"/>
<circle cx="673.5" cy="680.6" r="8.6" fill="#fff" stroke="#000" stroke-width="3.9"/>
<circle cx="677.8" cy="680.5" r="8.6" fill="#fff" stroke="#000" stroke-width="3.9"/>
<circle cx="682" cy="680.6" r="8.6" fill="#fff" stroke="#000" stroke-width="3.9"/>
<circle cx="686.2" cy="679.7" r="8.6" fill="#fff" stroke="#000" stroke-width="3.9"/>
<circle cx="690.5" cy="678.4" r="8.6" fill="#fff" stroke="#000" stroke-width="3.9"/>
<circle cx="694.8" cy="678.3" r="8.6" fill="#fff" stroke="#000" stroke-width="3.9"/>
<circle cx="699" cy="677.1" r="8.6" fill="#fff" stroke="#000" stroke-width="3.9"/>
<circle cx="703.2" cy="675.7" r="8.6" fill="#fff" stroke="#000" stroke-width="3.9"/>
<circle cx="707.5" cy="674.4" r="8.6" fill="#fff" stroke="#000" stroke-width="3.9"/>
<circle cx="711.8" cy="672.9" r="8.6" fill="#fff" stroke="#000" stroke-width="3.9"/>
<circle cx="716" cy="672.3" r="8.6" fill="#fff" stroke="#000" stroke-width="3.9"/>
<circle cx="720.2" cy="669.6" r="8.6" fill="#fff" stroke="#000" stroke-width="3.9"/>
<circle cx="724.5" cy="668.7" r="8.6" fill="#fff" stroke="#000" stroke-width="3.9"/>
<circle cx="728.8" cy="668" r="8.6" fill="#fff" stroke="#000" stroke-width="3.9"/>
<circle cx="733" cy="665.8" r="8.6" fill="#fff" stroke="#000" stroke-width="3.9"/>
<circle cx="737.2" cy="665.7" r="8.6" fill="#fff" stroke="#000" stroke-width="3.9"/>
<circle cx="741.5" cy="663.6" r="8.6" fill="#fff" stroke="#000" stroke-width="3.9"/>
<circle cx="745.8" cy="663.9" r="8.6" fill="#fff" stroke="#000" stroke-width="3.9"/>
<circle cx="750" cy="664.2" r="8.6" fill="#fff" stroke="#000" stroke-width="3.9"/>
<circle cx="754.2" cy="663.5" r="8.6" fill="#fff" stroke="#000" stroke-width="3.9"/>
<circle cx="758.5" cy="662.4" r="8.6" fill="#fff" stroke="#000" stroke-width="3.9"/>
<circle cx="762.8" cy="661.6" r="8.6" fill="#fff" stroke="#000" stroke-width="3.9"/>
<circle cx="767" cy="660.1" r="8.6" fill="#fff" stroke="#000" stroke-width="3.9"/>
<circle cx="771.2" cy="662.1" r="8.6" fill="#fff" stroke="#000" stroke-width="3.9"/>
<circle cx="775.5" cy="660.5" r="8.6" fill="#fff" stroke="#000" stroke-width="3.9"/>
<circle cx="779.8" cy="660.5" r="8.6" fill="#fff" stroke="#000" stroke-width="3.9"/>
<circle cx="784" cy="658.5" r="8.6" fill="#fff" stroke="#000" stroke-width="3.9"/>
<circle cx="788.2" cy="658.7" r="8.6" fill="#fff" stroke="#000" stroke-width="3.9"/>
<circle cx="792.5" cy="657.2" r="8.6" fill="#fff" stroke="#000" stroke-width="3.9"/>
<circle cx="796.8" cy="659.5" r="8.6" fill="#fff" stroke="#000" stroke-width="3.9"/>
<circle cx="801" cy="660.1" r="8.6" fill="#fff" stroke="#000" stroke-width="3.9"/>
<circle cx="805.2" cy="658.5" r="8.6" fill="#fff" stroke="#000" stroke-width="3.9"/>
<circle cx="809.5" cy="661" r="8.6" fill="#fff" stroke="#000" stroke-width="3.9"/>
<circle cx="813.8" cy="662.8" r="8.6" fill="#fff" stroke="#000" stroke-width="3.9"/>
<circle cx="818" cy="662.4" r="8.6" fill="#fff" stroke="#000" stroke-width="3.9"/>
<circle cx="822.2" cy="663.8" r="8.6" fill="#fff" stroke="#000" stroke-width="3.9"/>
<circle cx="826.5" cy="666.1" r="8.6" fill="#fff" stroke="#000" stroke-width="3.9"/>
<circle cx="830.8" cy="668.1" r="8.6" fill="#fff" stroke="#000" stroke-width="3.9"/>
<circle cx="835" cy="669.3" r="8.6" fill="#fff" stroke="#000" stroke-width="3.9"/>
<circle cx="839.2" cy="672.3" r="8.6" fill="#fff" stroke="#000" stroke-width="3.9"/>
<circle cx="843.5" cy="674.5" r="8.6" fill="#fff" stroke="#000" stroke-width="3.9"/>
<circle cx="847.8" cy="676.9" r="8.6" fill="#fff" stroke="#000" stroke-width="3.9"/>
<circle cx="852" cy="679" r="8.6" fill="#fff" stroke="#000" stroke-width="3.9"/>
<circle cx="856.2" cy="681.6" r="8.6" fill="#fff" stroke="#000" stroke-width="3.9"/>
<circle cx="860.5" cy="683.2" r="8.6" fill="#fff" stroke="#000" stroke-width="3.9"/>
<circle cx="864.8" cy="683" r="8.6" fill="#fff" stroke="#000" stroke-width="3.9"/>
<circle cx="869" cy="685.3" r="8.6" fill="#fff" stroke="#000" stroke-width="3.9"/>
<circle cx="873.2" cy="686.3" r="8.6" fill="#fff" stroke="#000" stroke-width="3.9"/>
<circle cx="877.5" cy="687.6" r="8.6" fill="#fff" stroke="#000" stroke-width="3.9"/>
<circle cx="881.8" cy="689.5" r="8.6" fill="#fff" stroke="#000" stroke-width="3.9"/>
<circle cx="886" cy="690.5" r="8.6" fill="#fff" stroke="#000" stroke-width="3.9"/>
<circle cx="890.2" cy="691.8" r="8.6" fill="#fff" stroke="#000" stroke-width="3.9"/>
<circle cx="894.5" cy="690.8" r="8.6" fill="#fff" stroke="#000" stroke-width="3.9"/>
<circle cx="898.8" cy="691.6" r="8.6" fill="#fff" stroke="#000" stroke-width="3.9"/>
<circle cx="903" cy="692.9" r="8.6" fill="#fff" stroke="#000" stroke-width="3.9"/>
<circle cx="907.2" cy="693" r="8.6" fill="#fff" stroke="#000" stroke-width="3.9"/>
<circle cx="911.5" cy="693.1" r="8.6" fill="#fff" stroke="#000" stroke-width="3.9"/>
<circle cx="915.8" cy="693.4" r="8.6" fill="#fff" stroke="#000" stroke-width="3.9"/>
<circle cx="920" cy="692.9" r="8.6" fill="#fff" stroke="#000" stroke-width="3.9"/>
<circle cx="924.2" cy="694.1" r="8.6" fill="#fff" stroke="#000" stroke-width="3.9"/>
<circle cx="928.5" cy="693.8" r="8.6" fill="#fff" stroke="#000" stroke-width="3.9"/>
<circle cx="932.8" cy="693.4" r="8.6" fill="#fff" stroke="#000" stroke-width="3.9"/>
<circle cx="937" cy="693" r="8.6" fill="#fff" stroke="#000" stroke-width="3.9"/>
<circle cx="941.2" cy="693.4" r="8.6" fill="#fff" stroke="#000" stroke-width="3.9"/>
<circle cx="945.5" cy="691.3" r="8.6" fill="#fff" stroke="#000" stroke-width="3.9"/>
<circle cx="949.8" cy="692.7" r="8.6" fill="#fff" stroke="#000" stroke-width="3.9"/>
<circle cx="954" cy="693.5" r="8.6" fill="#fff" stroke="#000" stroke-width="3.9"/>
<circle cx="958.2" cy="692.3" r="8.6" fill="#fff" stroke="#000" stroke-width="3.9"/>
<circle cx="962.5" cy="693.7" r="8.6" fill="#fff" stroke="#000" stroke-width="3.9"/>
<circle cx="966.8" cy="693.6" r="8.6" fill="#fff" stroke="#000" stroke-width="3.9"/>
<circle cx="971" cy="692.4" r="8.6" fill="#fff" stroke="#000" stroke-width="3.9"/>
<circle cx="975.2" cy="693.3" r="8.6" fill="#fff" stroke="#000" stroke-width="3.9"/>
<circle cx="979.5" cy="693.2" r="8.6" fill="#fff" stroke="#000" stroke-width="3.9"/>
<circle cx="983.8" cy="693.9" r="8.6" fill="#fff" stroke="#000" stroke-width="3.9"/>
<circle cx="988" cy="694" r="8.6" fill="#fff" stroke="#000" stroke-width="3.9"/>
<circle cx="992.2" cy="693.5" r="8.6" fill="#fff" stroke="#000" stroke-width="3.9"/>
<circle cx="996.5" cy="692.8" r="8.6" fill="#fff" stroke="#000" stroke-width="3.9"/>
<circle cx="1000.8" cy="693.4" r="8.6" fill="#fff" stroke="#000" stroke-width="3.9"/>
<circle cx="1005" cy="693.4" r="8.6" fill="#fff" stroke="#000" stroke-width="3.9"/>
<circle cx="1009.2" cy="694.1" r="8.6" fill="#fff" stroke="#000" stroke-width="3.9"/>
<circle cx="1013.5" cy="693.7" r="8.6" fill="#fff" stroke="#000" stroke-width="3.9"/>
<circle cx="1017.8" cy="692.9" r="8.6" fill="#fff" stroke="#000" stroke-width="3.9"/>
<circle cx="1022" cy="692.4" r="8.6" fill="#fff" stroke="#000" stroke-width="3.9"/>
<circle cx="1026.2" cy="693.2" r="8.6" fill="#fff" stroke="#000" stroke-width="3.9"/>
<circle cx="1030.5" cy="692.9" r="8.6" fill="#fff" stroke="#000" stroke-width="3.9"/>
<circle cx="1034.8" cy="692.6" r="8.6" fill="#fff" stroke="#000" stroke-width="3.9"/>
<circle cx="1039" cy="693.4" r="8.6" fill="#fff" stroke="#000" stroke-width="3.9"/>
<circle cx="1043.2" cy="693.1" r="8.6" fill="#fff" stroke="#000" stroke-width="3.9"/>
<circle cx="1047.5" cy="693.6" r="8.6" fill="#fff" stroke="#000" stroke-width="3.9"/>
<circle cx="1051.8" cy="693.9" r="8.6" fill="#fff" stroke="#000" stroke-width="3.9"/>
<circle cx="1056" cy="693.2" r="8.6" fill="#fff" stroke="#000" stroke-width="3.9"/>
<circle cx="1060.2" cy="695.4" r="8.6" fill="#fff" stroke="#000" stroke-width="3.9"/>
<circle cx="1064.5" cy="693.2" r="8.6" fill="#fff" stroke="#000" stroke-width="3.9"/>
<circle cx="1068.8" cy="694.4" r="8.6" fill="#fff" stroke="#000" stroke-width="3.9"/>
<circle cx="1073" cy="693.6" r="8.6" fill="#fff" stroke="#000" stroke-width="3.9"/>
<circle cx="1077.2" cy="694.4" r="8.6" fill="#fff" stroke="#000" stroke-width="3.9"/>
<circle cx="1081.5" cy="691.6" r="8.6" fill="#fff" stroke="#000" stroke-width="3.9"/>
<circle cx="1085.8" cy="692.9" r="8.6" fill="#fff" stroke="#000" stroke-width="3.9"/>
<circle cx="1090" cy="693.7" r="8.6" fill="#fff" stroke="#000" stroke-width="3.9"/>
<circle cx="1094.2" cy="694" r="8.6" fill="#fff" stroke="#000" stroke-width="3.9"/>
<circle cx="1098.5" cy="695.4" r="8.6" fill="#fff" stroke="#000" stroke-width="3.9"/>
<circle cx="1102.8" cy="693.8" r="8.6" fill="#fff" stroke="#000" stroke-width="3.9"/>
</g>
<line x1="80" y1="387.1" x2="80" y2="702.4" stroke="#000000" stroke-width="7.8" />
<line x1="1095.4" y1="387.1" x2="1095.4" y2="702.4" stroke="#000000" stroke-width="7.8" />
<line x1="80" y1="391" x2="566" y2="391" stroke="#000000" stroke-width="7.8" />
<line x1="588" y1="391" x2="1095.4" y2="391" stroke="#000000" stroke-width="7.8" />
<line x1="80" y1="698.5" x2="566" y2="698.5" stroke="#000000" stroke-width="7.8" />
<line x1="590" y1="698.5" x2="1095.4" y2="698.5" stroke="#000000" stroke-width="7.8" />
<line x1="560.5" y1="714" x2="578" y2="683" stroke="#000000" stroke-width="8" />
<line x1="578" y1="714" x2="595.5" y2="683" stroke="#000000" stroke-width="8" />
<polygon points="586,680 603,686 594,700 586,700" fill="#000000"/>
<line x1="560" y1="398" x2="577.5" y2="383.5" stroke="#000000" stroke-width="8" />
<line x1="577" y1="398" x2="594.5" y2="383.5" stroke="#000000" stroke-width="8" />
<rect x="120.2" y="683" width="7.5" height="13" fill="#000000"/>
<rect x="298.4" y="683" width="7.5" height="13" fill="#000000"/>
<rect x="476.6" y="683" width="7.5" height="13" fill="#000000"/>
<rect x="164.8" y="690.5" width="7.5" height="5.5" fill="#000000"/>
<rect x="209.3" y="690.5" width="7.5" height="5.5" fill="#000000"/>
<rect x="253.9" y="690.5" width="7.5" height="5.5" fill="#000000"/>
<rect x="343" y="690.5" width="7.5" height="5.5" fill="#000000"/>
<rect x="387.5" y="690.5" width="7.5" height="5.5" fill="#000000"/>
<rect x="432.1" y="690.5" width="7.5" height="5.5" fill="#000000"/>
<rect x="521.2" y="690.5" width="7.5" height="5.5" fill="#000000"/>
<rect x="753" y="683" width="7.5" height="13" fill="#000000"/>
<rect x="625.5" y="690.5" width="7.5" height="5.5" fill="#000000"/>
<rect x="668" y="690.5" width="7.5" height="5.5" fill="#000000"/>
<rect x="710.5" y="690.5" width="7.5" height="5.5" fill="#000000"/>
<rect x="795.5" y="690.5" width="7.5" height="5.5" fill="#000000"/>
<rect x="838" y="690.5" width="7.5" height="5.5" fill="#000000"/>
<text transform="translate(124 760.5) scale(0.985 1)" font-size="57" fill="#000000" text-anchor="middle" font-family='"Liberation Sans", sans-serif' font-weight="bold"  stroke="#000000" stroke-width="0.68" stroke-linejoin="round">44</text>
<text transform="translate(302.2 760.5) scale(0.985 1)" font-size="57" fill="#000000" text-anchor="middle" font-family='"Liberation Sans", sans-serif' font-weight="bold"  stroke="#000000" stroke-width="0.68" stroke-linejoin="round">42</text>
<text transform="translate(480.4 760.5) scale(0.985 1)" font-size="57" fill="#000000" text-anchor="middle" font-family='"Liberation Sans", sans-serif' font-weight="bold"  stroke="#000000" stroke-width="0.68" stroke-linejoin="round">40</text>
<text transform="translate(586.7 760.5) scale(0.985 1)" font-size="57" fill="#000000" text-anchor="middle" font-family='"Liberation Sans", sans-serif' font-weight="bold"  stroke="#000000" stroke-width="0.68" stroke-linejoin="round">8</text>
<text transform="translate(756.7 760.5) scale(0.985 1)" font-size="57" fill="#000000" text-anchor="middle" font-family='"Liberation Sans", sans-serif' font-weight="bold"  stroke="#000000" stroke-width="0.68" stroke-linejoin="round">4</text>
<text transform="translate(926.7 760.5) scale(0.985 1)" font-size="57" fill="#000000" text-anchor="middle" font-family='"Liberation Sans", sans-serif' font-weight="bold"  stroke="#000000" stroke-width="0.68" stroke-linejoin="round">0</text>
<text transform="translate(1121 760.5) scale(0.985 1)" font-size="57" fill="#000000" text-anchor="end" font-family='"Liberation Sans", sans-serif' font-weight="bold"  stroke="#000000" stroke-width="0.68" stroke-linejoin="round">-4</text>
<polygon points="76.2,633 72,635 73.5,638 72,640 75.5,647.5 84,643.5 88,641.5 86,638 88,636 85,629.5 83.8,628.5" fill="#000000"/>
<polygon points="1091.6,632.5 1087.4,634.5 1088.9,637.5 1087.4,639.5 1090.9,647 1099.4,643 1103.4,641 1101.4,637.5 1103.4,635.5 1100.4,629 1099.2,628" fill="#000000"/>
<line x1="90.5" y1="410" x2="108.8" y2="410" stroke="#000000" stroke-width="2.2" />
<line x1="136.5" y1="410" x2="155" y2="410" stroke="#000000" stroke-width="2.2" />
<circle cx="122.7" cy="409.5" r="9.3" fill="#fff" stroke="#000" stroke-width="3.4"/>
<text transform="translate(162 419.3) scale(1.025 1)" font-size="27.5" fill="#000000" text-anchor="start" font-family='"Liberation Sans", sans-serif' font-weight="bold"  stroke="#000000" stroke-width="0.33" stroke-linejoin="round">Measured</text>
<line x1="90.5" y1="444.5" x2="155" y2="444.5" stroke="#ff0000" stroke-width="9" />
<text transform="translate(162 454.3) scale(1.025 1)" font-size="27.5" fill="#ff0000" text-anchor="start" font-family='"Liberation Sans", sans-serif' font-weight="bold"  stroke="#ff0000" stroke-width="0.33" stroke-linejoin="round">Fit</text>
<rect x="343" y="416.3" width="7" height="19" fill="#000000"/>
<line x1="374" y1="424.8" x2="502" y2="424.8" stroke="#000000" stroke-width="6.5" />
<polygon points="346.5,424.8 380.5,416.8 376,424.8 380.5,432.8" fill="#000" stroke="#000" stroke-width="6" stroke-linejoin="round"/>
<rect x="921.8" y="416.3" width="7" height="19" fill="#000000"/>
<line x1="759" y1="424.8" x2="897.8" y2="424.8" stroke="#000000" stroke-width="6.5" />
<polygon points="925.3,424.8 891.3,416.8 895.8,424.8 891.3,432.8" fill="#000" stroke="#000" stroke-width="6" stroke-linejoin="round"/>
<text transform="translate(505.7 445.3) scale(0.99 1)" font-size="64" fill="#000000" text-anchor="start" font-family='"Liberation Sans", sans-serif' font-weight="bold"  stroke="#000000" stroke-width="0.77" stroke-linejoin="round">40.42 eV</text>
<text transform="translate(1062.4 428.8) scale(1.0 1)" font-size="44.5" fill="#000000" text-anchor="middle" font-family='"Liberation Sans", sans-serif' font-weight="bold"  stroke="#000000" stroke-width="0.53" stroke-linejoin="round">(b)</text>
<text transform="translate(133 666.3) scale(1.025 1)" font-size="63" fill="#0c30ff" text-anchor="start" font-family='"Liberation Sans", sans-serif' font-weight="bold"  stroke="#0c30ff" stroke-width="0.76" stroke-linejoin="round">As 3d</text>
<text transform="translate(307 692) scale(1.0 1)" font-size="37" fill="#0c30ff" text-anchor="start" font-family='"Liberation Sans", sans-serif' font-weight="bold"  stroke="#0c30ff" stroke-width="0.44" stroke-linejoin="round">5/2</text>
<line x1="312.5" y1="637" x2="338.7" y2="548.9" stroke="#0c30ff" stroke-width="8" stroke-linecap="round"/>
<polygon points="345.4,526.4 345,553.9 338.7,548.9 330.7,549.6" fill="#0c30ff" stroke="#0c30ff" stroke-width="7" stroke-linejoin="round"/>
<text transform="translate(509 585) scale(1.025 1)" font-size="62" fill="#0c30ff" text-anchor="start" font-family='"Liberation Sans", sans-serif' font-weight="bold"  stroke="#0c30ff" stroke-width="0.74" stroke-linejoin="round">In</text>
<text transform="translate(564.5 610) scale(1.025 1)" font-size="35" fill="#0c30ff" text-anchor="start" font-family='"Liberation Sans", sans-serif' font-weight="bold"  stroke="#0c30ff" stroke-width="0.42" stroke-linejoin="round">0.26</text>
<text transform="translate(635 584.5) scale(1.025 1)" font-size="62" fill="#0c30ff" text-anchor="start" font-family='"Liberation Sans", sans-serif' font-weight="bold"  stroke="#0c30ff" stroke-width="0.74" stroke-linejoin="round">AlAs</text>
<text transform="translate(640 636.5) scale(1.025 1)" font-size="62" fill="#0c30ff" text-anchor="start" font-family='"Liberation Sans", sans-serif' font-weight="bold"  stroke="#0c30ff" stroke-width="0.74" stroke-linejoin="round">VBM</text>
<clipPath id="cpbI"><rect x="797.3" y="441" width="256" height="169"/></clipPath>
<g clip-path="url(#cpbI)">
<circle cx="801" cy="483.9" r="8.6" fill="#fff" stroke="#000" stroke-width="3.3"/>
<circle cx="803.5" cy="482.5" r="8.6" fill="#fff" stroke="#000" stroke-width="3.3"/>
<circle cx="806" cy="482.9" r="8.6" fill="#fff" stroke="#000" stroke-width="3.3"/>
<circle cx="808.5" cy="481.7" r="8.6" fill="#fff" stroke="#000" stroke-width="3.3"/>
<circle cx="811" cy="479.9" r="8.6" fill="#fff" stroke="#000" stroke-width="3.3"/>
<circle cx="813.5" cy="481.5" r="8.6" fill="#fff" stroke="#000" stroke-width="3.3"/>
<circle cx="816" cy="477.3" r="8.6" fill="#fff" stroke="#000" stroke-width="3.3"/>
<circle cx="818.5" cy="483" r="8.6" fill="#fff" stroke="#000" stroke-width="3.3"/>
<circle cx="821" cy="477.1" r="8.6" fill="#fff" stroke="#000" stroke-width="3.3"/>
<circle cx="823.5" cy="480.3" r="8.6" fill="#fff" stroke="#000" stroke-width="3.3"/>
<circle cx="826" cy="485" r="8.6" fill="#fff" stroke="#000" stroke-width="3.3"/>
<circle cx="828.5" cy="478.8" r="8.6" fill="#fff" stroke="#000" stroke-width="3.3"/>
<circle cx="831" cy="479.3" r="8.6" fill="#fff" stroke="#000" stroke-width="3.3"/>
<circle cx="833.5" cy="482.2" r="8.6" fill="#fff" stroke="#000" stroke-width="3.3"/>
<circle cx="836" cy="479.2" r="8.6" fill="#fff" stroke="#000" stroke-width="3.3"/>
<circle cx="838.5" cy="477.2" r="8.6" fill="#fff" stroke="#000" stroke-width="3.3"/>
<circle cx="841" cy="480.5" r="8.6" fill="#fff" stroke="#000" stroke-width="3.3"/>
<circle cx="843.5" cy="482.2" r="8.6" fill="#fff" stroke="#000" stroke-width="3.3"/>
<circle cx="846" cy="483.6" r="8.6" fill="#fff" stroke="#000" stroke-width="3.3"/>
<circle cx="848.5" cy="481.1" r="8.6" fill="#fff" stroke="#000" stroke-width="3.3"/>
<circle cx="851" cy="489.3" r="8.6" fill="#fff" stroke="#000" stroke-width="3.3"/>
<circle cx="853.5" cy="491.1" r="8.6" fill="#fff" stroke="#000" stroke-width="3.3"/>
<circle cx="856" cy="489" r="8.6" fill="#fff" stroke="#000" stroke-width="3.3"/>
<circle cx="858.5" cy="492.2" r="8.6" fill="#fff" stroke="#000" stroke-width="3.3"/>
<circle cx="861" cy="493.3" r="8.6" fill="#fff" stroke="#000" stroke-width="3.3"/>
<circle cx="863.5" cy="501.1" r="8.6" fill="#fff" stroke="#000" stroke-width="3.3"/>
<circle cx="866" cy="498.7" r="8.6" fill="#fff" stroke="#000" stroke-width="3.3"/>
<circle cx="868.5" cy="505.4" r="8.6" fill="#fff" stroke="#000" stroke-width="3.3"/>
<circle cx="871" cy="505.5" r="8.6" fill="#fff" stroke="#000" stroke-width="3.3"/>
<circle cx="873.5" cy="508.2" r="8.6" fill="#fff" stroke="#000" stroke-width="3.3"/>
<circle cx="876" cy="515.2" r="8.6" fill="#fff" stroke="#000" stroke-width="3.3"/>
<circle cx="878.5" cy="520.3" r="8.6" fill="#fff" stroke="#000" stroke-width="3.3"/>
<circle cx="881" cy="520.4" r="8.6" fill="#fff" stroke="#000" stroke-width="3.3"/>
<circle cx="883.5" cy="522.5" r="8.6" fill="#fff" stroke="#000" stroke-width="3.3"/>
<circle cx="886" cy="530.2" r="8.6" fill="#fff" stroke="#000" stroke-width="3.3"/>
<circle cx="888.5" cy="532" r="8.6" fill="#fff" stroke="#000" stroke-width="3.3"/>
<circle cx="891" cy="537.1" r="8.6" fill="#fff" stroke="#000" stroke-width="3.3"/>
<circle cx="893.5" cy="544.5" r="8.6" fill="#fff" stroke="#000" stroke-width="3.3"/>
<circle cx="896" cy="547.8" r="8.6" fill="#fff" stroke="#000" stroke-width="3.3"/>
<circle cx="898.5" cy="548" r="8.6" fill="#fff" stroke="#000" stroke-width="3.3"/>
<circle cx="901" cy="558.8" r="8.6" fill="#fff" stroke="#000" stroke-width="3.3"/>
<circle cx="903.5" cy="558" r="8.6" fill="#fff" stroke="#000" stroke-width="3.3"/>
<circle cx="906" cy="563.7" r="8.6" fill="#fff" stroke="#000" stroke-width="3.3"/>
<circle cx="908.5" cy="565.1" r="8.6" fill="#fff" stroke="#000" stroke-width="3.3"/>
<circle cx="911" cy="570" r="8.6" fill="#fff" stroke="#000" stroke-width="3.3"/>
<circle cx="913.5" cy="571.1" r="8.6" fill="#fff" stroke="#000" stroke-width="3.3"/>
<circle cx="916" cy="579.6" r="8.6" fill="#fff" stroke="#000" stroke-width="3.3"/>
<circle cx="918.5" cy="581.9" r="8.6" fill="#fff" stroke="#000" stroke-width="3.3"/>
<circle cx="921" cy="581.4" r="8.6" fill="#fff" stroke="#000" stroke-width="3.3"/>
<circle cx="923.5" cy="583.5" r="8.6" fill="#fff" stroke="#000" stroke-width="3.3"/>
<circle cx="926" cy="585.6" r="8.6" fill="#fff" stroke="#000" stroke-width="3.3"/>
<circle cx="928.5" cy="590.1" r="8.6" fill="#fff" stroke="#000" stroke-width="3.3"/>
<circle cx="931" cy="589.9" r="8.6" fill="#fff" stroke="#000" stroke-width="3.3"/>
<circle cx="933.5" cy="591.3" r="8.6" fill="#fff" stroke="#000" stroke-width="3.3"/>
<circle cx="936" cy="592" r="8.6" fill="#fff" stroke="#000" stroke-width="3.3"/>
<circle cx="938.5" cy="592.7" r="8.6" fill="#fff" stroke="#000" stroke-width="3.3"/>
<circle cx="941" cy="592.3" r="8.6" fill="#fff" stroke="#000" stroke-width="3.3"/>
<circle cx="943.5" cy="593.5" r="8.6" fill="#fff" stroke="#000" stroke-width="3.3"/>
<circle cx="946" cy="592.5" r="8.6" fill="#fff" stroke="#000" stroke-width="3.3"/>
<circle cx="948.5" cy="593.8" r="8.6" fill="#fff" stroke="#000" stroke-width="3.3"/>
<circle cx="951" cy="594.2" r="8.6" fill="#fff" stroke="#000" stroke-width="3.3"/>
<circle cx="953.5" cy="594.4" r="8.6" fill="#fff" stroke="#000" stroke-width="3.3"/>
<circle cx="956" cy="593.9" r="8.6" fill="#fff" stroke="#000" stroke-width="3.3"/>
<circle cx="958.5" cy="593.4" r="8.6" fill="#fff" stroke="#000" stroke-width="3.3"/>
<circle cx="961" cy="594.2" r="8.6" fill="#fff" stroke="#000" stroke-width="3.3"/>
<circle cx="963.5" cy="593.7" r="8.6" fill="#fff" stroke="#000" stroke-width="3.3"/>
<circle cx="966" cy="595.3" r="8.6" fill="#fff" stroke="#000" stroke-width="3.3"/>
<circle cx="968.5" cy="594.7" r="8.6" fill="#fff" stroke="#000" stroke-width="3.3"/>
<circle cx="971" cy="594" r="8.6" fill="#fff" stroke="#000" stroke-width="3.3"/>
<circle cx="973.5" cy="593.8" r="8.6" fill="#fff" stroke="#000" stroke-width="3.3"/>
<circle cx="976" cy="593.6" r="8.6" fill="#fff" stroke="#000" stroke-width="3.3"/>
<circle cx="978.5" cy="593.4" r="8.6" fill="#fff" stroke="#000" stroke-width="3.3"/>
<circle cx="981" cy="593.9" r="8.6" fill="#fff" stroke="#000" stroke-width="3.3"/>
<circle cx="983.5" cy="594.4" r="8.6" fill="#fff" stroke="#000" stroke-width="3.3"/>
<circle cx="986" cy="594.6" r="8.6" fill="#fff" stroke="#000" stroke-width="3.3"/>
<circle cx="988.5" cy="594.6" r="8.6" fill="#fff" stroke="#000" stroke-width="3.3"/>
<circle cx="991" cy="595.9" r="8.6" fill="#fff" stroke="#000" stroke-width="3.3"/>
<circle cx="993.5" cy="593.7" r="8.6" fill="#fff" stroke="#000" stroke-width="3.3"/>
<circle cx="996" cy="594.2" r="8.6" fill="#fff" stroke="#000" stroke-width="3.3"/>
<circle cx="998.5" cy="596.4" r="8.6" fill="#fff" stroke="#000" stroke-width="3.3"/>
<circle cx="1001" cy="592.8" r="8.6" fill="#fff" stroke="#000" stroke-width="3.3"/>
<circle cx="1003.5" cy="593.8" r="8.6" fill="#fff" stroke="#000" stroke-width="3.3"/>
<circle cx="1006" cy="594.4" r="8.6" fill="#fff" stroke="#000" stroke-width="3.3"/>
<circle cx="1008.5" cy="594.4" r="8.6" fill="#fff" stroke="#000" stroke-width="3.3"/>
<circle cx="1011" cy="594.6" r="8.6" fill="#fff" stroke="#000" stroke-width="3.3"/>
<circle cx="1013.5" cy="594.1" r="8.6" fill="#fff" stroke="#000" stroke-width="3.3"/>
<circle cx="1016" cy="594.6" r="8.6" fill="#fff" stroke="#000" stroke-width="3.3"/>
<circle cx="1018.5" cy="594.4" r="8.6" fill="#fff" stroke="#000" stroke-width="3.3"/>
<circle cx="1021" cy="594.9" r="8.6" fill="#fff" stroke="#000" stroke-width="3.3"/>
<circle cx="1023.5" cy="592.9" r="8.6" fill="#fff" stroke="#000" stroke-width="3.3"/>
<circle cx="1026" cy="593.7" r="8.6" fill="#fff" stroke="#000" stroke-width="3.3"/>
<circle cx="1028.5" cy="594.4" r="8.6" fill="#fff" stroke="#000" stroke-width="3.3"/>
<circle cx="1031" cy="593.6" r="8.6" fill="#fff" stroke="#000" stroke-width="3.3"/>
<circle cx="1033.5" cy="593.6" r="8.6" fill="#fff" stroke="#000" stroke-width="3.3"/>
<circle cx="1036" cy="594.9" r="8.6" fill="#fff" stroke="#000" stroke-width="3.3"/>
<circle cx="1038.5" cy="593.9" r="8.6" fill="#fff" stroke="#000" stroke-width="3.3"/>
<circle cx="1041" cy="594.9" r="8.6" fill="#fff" stroke="#000" stroke-width="3.3"/>
<circle cx="1043.5" cy="595" r="8.6" fill="#fff" stroke="#000" stroke-width="3.3"/>
<circle cx="1046" cy="594.7" r="8.6" fill="#fff" stroke="#000" stroke-width="3.3"/>
<circle cx="1048.5" cy="594.8" r="8.6" fill="#fff" stroke="#000" stroke-width="3.3"/>
<path d="M837.7 443 L921 594.5 L1053 594.5" fill="none" stroke="#ff0000" stroke-width="8" stroke-linejoin="round" stroke-linejoin="miter"/>
</g>
<rect x="797.3" y="441.3" width="256" height="167.7" fill="none" stroke="#000" stroke-width="7.5"/>
<rect x="878.9" y="595.5" width="6" height="11" fill="#000000"/>
<rect x="814.9" y="601.5" width="6" height="5" fill="#000000"/>
<rect x="836.2" y="601.5" width="6" height="5" fill="#000000"/>
<rect x="857.6" y="601.5" width="6" height="5" fill="#000000"/>
<rect x="900.2" y="601.5" width="6" height="5" fill="#000000"/>
<rect x="921.6" y="601.5" width="6" height="5" fill="#000000"/>
<text transform="translate(797.1 646) scale(1.0 1)" font-size="40" fill="#000000" text-anchor="middle" font-family='"Liberation Sans", sans-serif' font-weight="bold"  stroke="#000000" stroke-width="0.48" stroke-linejoin="round">4</text>
<text transform="translate(882.4 646) scale(1.0 1)" font-size="40" fill="#000000" text-anchor="middle" font-family='"Liberation Sans", sans-serif' font-weight="bold"  stroke="#000000" stroke-width="0.48" stroke-linejoin="round">2</text>
<text transform="translate(967.7 646) scale(1.0 1)" font-size="40" fill="#000000" text-anchor="middle" font-family='"Liberation Sans", sans-serif' font-weight="bold"  stroke="#000000" stroke-width="0.48" stroke-linejoin="round">0</text>
<text transform="translate(1052.5 646) scale(1.0 1)" font-size="40" fill="#000000" text-anchor="middle" font-family='"Liberation Sans", sans-serif' font-weight="bold"  stroke="#000000" stroke-width="0.48" stroke-linejoin="round">-2</text>
</g>
<g id="pc">
<clipPath id="cpcL"><rect x="80" y="771" width="489" height="309"/></clipPath>
<g clip-path="url(#cpcL)">
<path d="M72 1042.6 L76.7 1041.5 L81.4 1042.5 L86.1 1042.7 L90.8 1041.9 L95.5 1042 L100.2 1042.5 L104.9 1041.2 L109.6 1042.1 L114.3 1042.9 L119 1040.9 L123.7 1041.2 L128.4 1040.8 L133.1 1041.8 L137.8 1040.6 L142.5 1040.8 L147.2 1039.2 L151.9 1039.4 L156.6 1038.9 L161.3 1036.9 L166 1039 L170.7 1037.8 L175.4 1034.5 L180.1 1035.7 L184.8 1033.4 L189.5 1032.3 L194.2 1030.2 L198.9 1025.6 L203.6 1024 L208.3 1022.5 L213 1015.6 L217.7 1010 L222.4 1003.8 L227.1 997.5 L231.8 992.8 L236.5 987.2 L241.2 976.6 L245.9 967.3 L250.6 961.8 L255.3 946.5 L260 936.3 L264.7 929.1 L269.4 919.7 L274.1 907.1 L278.8 898.4 L283.5 894.4 L288.2 887.7 L292.9 878.2 L297.6 875.8 L302.3 870.5 L307 869.1 L311.7 864.3 L316.4 861.6 L321.1 858.9 L325.8 861.2 L330.5 862.1 L335.2 859.4 L339.9 865.6 L344.6 866.8 L349.3 875.8 L354 886.1 L358.7 898.1 L363.4 904.8 L368.1 917.5 L372.8 930.4 L377.5 939.1 L382.2 954.5 L386.9 964.8 L391.6 977.7 L396.3 985.1 L401 993 L405.7 1004.5 L410.4 1012.1 L415.1 1017.2 L419.8 1024.5 L424.5 1027.6 L429.2 1031 L433.9 1035.5 L438.6 1035.9 L443.3 1039 L448 1041.5 L452.7 1043.7 L457.4 1044 L462.1 1045.4 L466.8 1045.5 L471.5 1047 L476.2 1048.8 L480.9 1047.4 L485.6 1050.3 L490.3 1048.4 L495 1049.3 L499.7 1049.8 L504.4 1050.9 L509.1 1049.4 L513.8 1049.1 L518.5 1051.4 L523.2 1051.9 L527.9 1052 L532.6 1053.7 L537.3 1052.1 L542 1052.3 L546.7 1052.8 L551.4 1052.5 L556.1 1053.5 L560.8 1051.4 L565.5 1052.1" fill="none" stroke="#000000" stroke-width="5" stroke-linejoin="round" />
<circle cx="72" cy="1042.6" r="8.6" fill="none" stroke="#000" stroke-width="3.6"/>
<circle cx="76.7" cy="1041.5" r="8.6" fill="none" stroke="#000" stroke-width="3.6"/>
<circle cx="81.4" cy="1042.5" r="8.6" fill="none" stroke="#000" stroke-width="3.6"/>
<circle cx="86.1" cy="1042.7" r="8.6" fill="none" stroke="#000" stroke-width="3.6"/>
<circle cx="90.8" cy="1041.9" r="8.6" fill="none" stroke="#000" stroke-width="3.6"/>
<circle cx="95.5" cy="1042" r="8.6" fill="none" stroke="#000" stroke-width="3.6"/>
<circle cx="100.2" cy="1042.5" r="8.6" fill="none" stroke="#000" stroke-width="3.6"/>
<circle cx="104.9" cy="1041.2" r="8.6" fill="none" stroke="#000" stroke-width="3.6"/>
<circle cx="109.6" cy="1042.1" r="8.6" fill="none" stroke="#000" stroke-width="3.6"/>
<circle cx="114.3" cy="1042.9" r="8.6" fill="none" stroke="#000" stroke-width="3.6"/>
<circle cx="119" cy="1040.9" r="8.6" fill="none" stroke="#000" stroke-width="3.6"/>
<circle cx="123.7" cy="1041.2" r="8.6" fill="none" stroke="#000" stroke-width="3.6"/>
<circle cx="128.4" cy="1040.8" r="8.6" fill="none" stroke="#000" stroke-width="3.6"/>
<circle cx="133.1" cy="1041.8" r="8.6" fill="none" stroke="#000" stroke-width="3.6"/>
<circle cx="137.8" cy="1040.6" r="8.6" fill="none" stroke="#000" stroke-width="3.6"/>
<circle cx="142.5" cy="1040.8" r="8.6" fill="none" stroke="#000" stroke-width="3.6"/>
<circle cx="147.2" cy="1039.2" r="8.6" fill="none" stroke="#000" stroke-width="3.6"/>
<circle cx="151.9" cy="1039.4" r="8.6" fill="none" stroke="#000" stroke-width="3.6"/>
<circle cx="156.6" cy="1038.9" r="8.6" fill="none" stroke="#000" stroke-width="3.6"/>
<circle cx="161.3" cy="1036.9" r="8.6" fill="none" stroke="#000" stroke-width="3.6"/>
<circle cx="166" cy="1039" r="8.6" fill="none" stroke="#000" stroke-width="3.6"/>
<circle cx="170.7" cy="1037.8" r="8.6" fill="none" stroke="#000" stroke-width="3.6"/>
<circle cx="175.4" cy="1034.5" r="8.6" fill="none" stroke="#000" stroke-width="3.6"/>
<circle cx="180.1" cy="1035.7" r="8.6" fill="none" stroke="#000" stroke-width="3.6"/>
<circle cx="184.8" cy="1033.4" r="8.6" fill="none" stroke="#000" stroke-width="3.6"/>
<circle cx="189.5" cy="1032.3" r="8.6" fill="none" stroke="#000" stroke-width="3.6"/>
<circle cx="194.2" cy="1030.2" r="8.6" fill="none" stroke="#000" stroke-width="3.6"/>
<circle cx="198.9" cy="1025.6" r="8.6" fill="none" stroke="#000" stroke-width="3.6"/>
<circle cx="203.6" cy="1024" r="8.6" fill="none" stroke="#000" stroke-width="3.6"/>
<circle cx="208.3" cy="1022.5" r="8.6" fill="none" stroke="#000" stroke-width="3.6"/>
<circle cx="213" cy="1015.6" r="8.6" fill="none" stroke="#000" stroke-width="3.6"/>
<circle cx="217.7" cy="1010" r="8.6" fill="none" stroke="#000" stroke-width="3.6"/>
<circle cx="222.4" cy="1003.8" r="8.6" fill="none" stroke="#000" stroke-width="3.6"/>
<circle cx="227.1" cy="997.5" r="8.6" fill="none" stroke="#000" stroke-width="3.6"/>
<circle cx="231.8" cy="992.8" r="8.6" fill="none" stroke="#000" stroke-width="3.6"/>
<circle cx="236.5" cy="987.2" r="8.6" fill="none" stroke="#000" stroke-width="3.6"/>
<circle cx="241.2" cy="976.6" r="8.6" fill="none" stroke="#000" stroke-width="3.6"/>
<circle cx="245.9" cy="967.3" r="8.6" fill="none" stroke="#000" stroke-width="3.6"/>
<circle cx="250.6" cy="961.8" r="8.6" fill="none" stroke="#000" stroke-width="3.6"/>
<circle cx="255.3" cy="946.5" r="8.6" fill="none" stroke="#000" stroke-width="3.6"/>
<circle cx="260" cy="936.3" r="8.6" fill="none" stroke="#000" stroke-width="3.6"/>
<circle cx="264.7" cy="929.1" r="8.6" fill="none" stroke="#000" stroke-width="3.6"/>
<circle cx="269.4" cy="919.7" r="8.6" fill="none" stroke="#000" stroke-width="3.6"/>
<circle cx="274.1" cy="907.1" r="8.6" fill="none" stroke="#000" stroke-width="3.6"/>
<circle cx="278.8" cy="898.4" r="8.6" fill="none" stroke="#000" stroke-width="3.6"/>
<circle cx="283.5" cy="894.4" r="8.6" fill="none" stroke="#000" stroke-width="3.6"/>
<circle cx="288.2" cy="887.7" r="8.6" fill="none" stroke="#000" stroke-width="3.6"/>
<circle cx="292.9" cy="878.2" r="8.6" fill="none" stroke="#000" stroke-width="3.6"/>
<circle cx="297.6" cy="875.8" r="8.6" fill="none" stroke="#000" stroke-width="3.6"/>
<circle cx="302.3" cy="870.5" r="8.6" fill="none" stroke="#000" stroke-width="3.6"/>
<circle cx="307" cy="869.1" r="8.6" fill="none" stroke="#000" stroke-width="3.6"/>
<circle cx="311.7" cy="864.3" r="8.6" fill="none" stroke="#000" stroke-width="3.6"/>
<circle cx="316.4" cy="861.6" r="8.6" fill="none" stroke="#000" stroke-width="3.6"/>
<circle cx="321.1" cy="858.9" r="8.6" fill="none" stroke="#000" stroke-width="3.6"/>
<circle cx="325.8" cy="861.2" r="8.6" fill="none" stroke="#000" stroke-width="3.6"/>
<circle cx="330.5" cy="862.1" r="8.6" fill="none" stroke="#000" stroke-width="3.6"/>
<circle cx="335.2" cy="859.4" r="8.6" fill="none" stroke="#000" stroke-width="3.6"/>
<circle cx="339.9" cy="865.6" r="8.6" fill="none" stroke="#000" stroke-width="3.6"/>
<circle cx="344.6" cy="866.8" r="8.6" fill="none" stroke="#000" stroke-width="3.6"/>
<circle cx="349.3" cy="875.8" r="8.6" fill="none" stroke="#000" stroke-width="3.6"/>
<circle cx="354" cy="886.1" r="8.6" fill="none" stroke="#000" stroke-width="3.6"/>
<circle cx="358.7" cy="898.1" r="8.6" fill="none" stroke="#000" stroke-width="3.6"/>
<circle cx="363.4" cy="904.8" r="8.6" fill="none" stroke="#000" stroke-width="3.6"/>
<circle cx="368.1" cy="917.5" r="8.6" fill="none" stroke="#000" stroke-width="3.6"/>
<circle cx="372.8" cy="930.4" r="8.6" fill="none" stroke="#000" stroke-width="3.6"/>
<circle cx="377.5" cy="939.1" r="8.6" fill="none" stroke="#000" stroke-width="3.6"/>
<circle cx="382.2" cy="954.5" r="8.6" fill="none" stroke="#000" stroke-width="3.6"/>
<circle cx="386.9" cy="964.8" r="8.6" fill="none" stroke="#000" stroke-width="3.6"/>
<circle cx="391.6" cy="977.7" r="8.6" fill="none" stroke="#000" stroke-width="3.6"/>
<circle cx="396.3" cy="985.1" r="8.6" fill="none" stroke="#000" stroke-width="3.6"/>
<circle cx="401" cy="993" r="8.6" fill="none" stroke="#000" stroke-width="3.6"/>
<circle cx="405.7" cy="1004.5" r="8.6" fill="none" stroke="#000" stroke-width="3.6"/>
<circle cx="410.4" cy="1012.1" r="8.6" fill="none" stroke="#000" stroke-width="3.6"/>
<circle cx="415.1" cy="1017.2" r="8.6" fill="none" stroke="#000" stroke-width="3.6"/>
<circle cx="419.8" cy="1024.5" r="8.6" fill="none" stroke="#000" stroke-width="3.6"/>
<circle cx="424.5" cy="1027.6" r="8.6" fill="none" stroke="#000" stroke-width="3.6"/>
<circle cx="429.2" cy="1031" r="8.6" fill="none" stroke="#000" stroke-width="3.6"/>
<circle cx="433.9" cy="1035.5" r="8.6" fill="none" stroke="#000" stroke-width="3.6"/>
<circle cx="438.6" cy="1035.9" r="8.6" fill="none" stroke="#000" stroke-width="3.6"/>
<circle cx="443.3" cy="1039" r="8.6" fill="none" stroke="#000" stroke-width="3.6"/>
<circle cx="448" cy="1041.5" r="8.6" fill="none" stroke="#000" stroke-width="3.6"/>
<circle cx="452.7" cy="1043.7" r="8.6" fill="none" stroke="#000" stroke-width="3.6"/>
<circle cx="457.4" cy="1044" r="8.6" fill="none" stroke="#000" stroke-width="3.6"/>
<circle cx="462.1" cy="1045.4" r="8.6" fill="none" stroke="#000" stroke-width="3.6"/>
<circle cx="466.8" cy="1045.5" r="8.6" fill="none" stroke="#000" stroke-width="3.6"/>
<circle cx="471.5" cy="1047" r="8.6" fill="none" stroke="#000" stroke-width="3.6"/>
<circle cx="476.2" cy="1048.8" r="8.6" fill="none" stroke="#000" stroke-width="3.6"/>
<circle cx="480.9" cy="1047.4" r="8.6" fill="none" stroke="#000" stroke-width="3.6"/>
<circle cx="485.6" cy="1050.3" r="8.6" fill="none" stroke="#000" stroke-width="3.6"/>
<circle cx="490.3" cy="1048.4" r="8.6" fill="none" stroke="#000" stroke-width="3.6"/>
<circle cx="495" cy="1049.3" r="8.6" fill="none" stroke="#000" stroke-width="3.6"/>
<circle cx="499.7" cy="1049.8" r="8.6" fill="none" stroke="#000" stroke-width="3.6"/>
<circle cx="504.4" cy="1050.9" r="8.6" fill="none" stroke="#000" stroke-width="3.6"/>
<circle cx="509.1" cy="1049.4" r="8.6" fill="none" stroke="#000" stroke-width="3.6"/>
<circle cx="513.8" cy="1049.1" r="8.6" fill="none" stroke="#000" stroke-width="3.6"/>
<circle cx="518.5" cy="1051.4" r="8.6" fill="none" stroke="#000" stroke-width="3.6"/>
<circle cx="523.2" cy="1051.9" r="8.6" fill="none" stroke="#000" stroke-width="3.6"/>
<circle cx="527.9" cy="1052" r="8.6" fill="none" stroke="#000" stroke-width="3.6"/>
<circle cx="532.6" cy="1053.7" r="8.6" fill="none" stroke="#000" stroke-width="3.6"/>
<circle cx="537.3" cy="1052.1" r="8.6" fill="none" stroke="#000" stroke-width="3.6"/>
<circle cx="542" cy="1052.3" r="8.6" fill="none" stroke="#000" stroke-width="3.6"/>
<circle cx="546.7" cy="1052.8" r="8.6" fill="none" stroke="#000" stroke-width="3.6"/>
<circle cx="551.4" cy="1052.5" r="8.6" fill="none" stroke="#000" stroke-width="3.6"/>
<circle cx="556.1" cy="1053.5" r="8.6" fill="none" stroke="#000" stroke-width="3.6"/>
<circle cx="560.8" cy="1051.4" r="8.6" fill="none" stroke="#000" stroke-width="3.6"/>
<circle cx="565.5" cy="1052.1" r="8.6" fill="none" stroke="#000" stroke-width="3.6"/>
<path d="M70 1042.5 L72 1042.5 L74 1042.5 L76 1042.5 L78 1042.5 L80 1042.5 L82 1042.5 L84 1042.5 L86 1042.5 L88 1042.5 L90 1042.5 L92 1042.5 L94 1042.5 L96 1042.5 L98 1042.5 L100 1042.5 L102 1042.5 L104 1042.5 L106 1042.5 L108 1042.5 L110 1042.5 L112 1042.5 L114 1042.5 L116 1042.5 L118 1042.5 L120 1042.5 L122 1042.5 L124 1042.5 L126 1042.5 L128 1042.5 L130 1042.5 L132 1042.5 L134 1042.5 L136 1042.5 L138 1042.5 L140 1042.5 L142 1042.5 L144 1042.5 L146 1042.5 L148 1042.5 L150 1042.5 L152 1042.5 L154 1042.5 L156 1042.5 L158 1042.5 L160 1042.5 L162 1042.5 L164 1042.5 L166 1042.5 L168 1042.5 L170 1042.5 L172 1042.5 L174 1042.5 L176 1042.5 L178 1042.5 L180 1042.5 L182 1042.5 L184 1042.5 L186 1042.5 L188 1042.5 L190 1042.5 L192 1042.5 L194 1042.5 L196 1042.5 L198 1042.5 L200 1042.5 L202 1042.5 L204 1042.5 L206 1042.5 L208 1042.5 L210 1042.5 L212 1042.5 L214 1042.5 L216 1042.5 L218 1042.5 L220 1042.5 L222 1042.5 L224 1042.5 L226 1042.5 L228 1042.5 L230 1042.5 L232 1042.5 L234 1042.5 L236 1042.5 L238 1042.5 L240 1042.5 L242 1042.5 L244 1042.6 L246 1042.7 L248 1042.7 L250 1042.8 L252 1042.8 L254 1042.9 L256 1042.9 L258 1043 L260 1043.1 L262 1043.1 L264 1043.2 L266 1043.3 L268 1043.4 L270 1043.4 L272 1043.5 L274 1043.6 L276 1043.7 L278 1043.7 L280 1043.8 L282 1043.9 L284 1044 L286 1044.1 L288 1044.2 L290 1044.2 L292 1044.3 L294 1044.4 L296 1044.5 L298 1044.6 L300 1044.7 L302 1044.8 L304 1044.9 L306 1045 L308 1045.1 L310 1045.2 L312 1045.3 L314 1045.4 L316 1045.5 L318 1045.6 L320 1045.7 L322 1045.8 L324 1045.9 L326 1046 L328 1046.1 L330 1046.2 L332 1046.4 L334 1046.5 L336 1046.6 L338 1046.7 L340 1046.8 L342 1046.9 L344 1047 L346 1047.1 L348 1047.3 L350 1047.4 L352 1047.5 L354 1047.6 L356 1047.7 L358 1047.8 L360 1048 L362 1048.1 L364 1048.2 L366 1048.3 L368 1048.4 L370 1048.5 L372 1048.7 L374 1048.8 L376 1048.9 L378 1049 L380 1049.1 L382 1049.3 L384 1049.4 L386 1049.5 L388 1049.6 L390 1049.8 L392 1049.9 L394 1050 L396 1050.1 L398 1050.2 L400 1050.4 L402 1050.5 L404 1050.6 L406 1050.7 L408 1050.8 L410 1051 L412 1051.1 L414 1051.2 L416 1051.3 L418 1051.4 L420 1051.5 L422 1051.7 L424 1051.8 L426 1051.9 L428 1052 L430 1052.1 L432 1052.2 L434 1052.4 L436 1052.5 L438 1052.6 L440 1052.7 L442 1052.8 L444 1052.9 L446 1053 L448 1053.1 L450 1053.3 L452 1053.4 L454 1053.5 L456 1053.6 L458 1053.7 L460 1053.8 L462 1053.9 L464 1054 L466 1054.1 L468 1054.2 L470 1054.3 L472 1054.4 L474 1054.5 L476 1054.6 L478 1054.7 L480 1054.8 L482 1054.9 L484 1055 L486 1055.1 L488 1055.2 L490 1055.3 L492 1055.3 L494 1055.4 L496 1055.5 L498 1055.6 L500 1055.7 L502 1055.8 L504 1055.8 L506 1055.9 L508 1056 L510 1056.1 L512 1056.1 L514 1056.2 L516 1056.3 L518 1056.4 L520 1056.4 L522 1056.5 L524 1056.6 L526 1056.6 L528 1056.7 L530 1056.7 L532 1056.8 L534 1056.8 L536 1056.9 L538 1057 L540 1057 L542 1057 L544 1057 L546 1057 L548 1057 L550 1057 L552 1057 L554 1057 L556 1057 L558 1057 L560 1057 L562 1057 L564 1057 L566 1057 L568 1057" fill="none" stroke="#2a0a82" stroke-width="7.5" stroke-linejoin="round" />
<path d="M98 1042.1 L100 1042.1 L102 1042.1 L104 1042.1 L106 1042.1 L108 1042.1 L110 1042.1 L112 1042.1 L114 1042.1 L116 1042.1 L118 1042.1 L120 1042 L122 1042 L124 1042 L126 1042 L128 1042 L130 1042 L132 1041.9 L134 1041.9 L136 1041.9 L138 1041.9 L140 1041.8 L142 1041.8 L144 1041.8 L146 1041.7 L148 1041.7 L150 1041.6 L152 1041.5 L154 1041.5 L156 1041.4 L158 1041.3 L160 1041.2 L162 1041 L164 1040.9 L166 1040.7 L168 1040.5 L170 1040.3 L172 1040.1 L174 1039.8 L176 1039.5 L178 1039.1 L180 1038.7 L182 1038.3 L184 1037.8 L186 1037.2 L188 1036.6 L190 1035.9 L192 1035.2 L194 1034.3 L196 1033.4 L198 1032.4 L200 1031.3 L202 1030.1 L204 1028.8 L206 1027.4 L208 1025.8 L210 1024.2 L212 1022.4 L214 1020.6 L216 1018.5 L218 1016.4 L220 1014.2 L222 1011.8 L224 1009.3 L226 1006.7 L228 1003.9 L230 1001.1 L232 998.2 L234 995.2 L236 992.1 L238 989 L240 985.8 L242 982.6 L244 979.4 L246 976.1 L248 973 L250 969.8 L252 966.7 L254 963.7 L256 960.7 L258 957.9 L260 955.2 L262 952.7 L264 950.3 L266 948.2 L268 946.3 L270 944.5 L272 943.1 L274 941.9 L276 941 L278 940.3 L280 940 L282 939.9 L284 940.1 L286 940.7 L288 941.5 L290 942.6 L292 943.9 L294 945.5 L296 947.4 L298 949.5 L300 951.8 L302 954.4 L304 957 L306 959.9 L308 962.9 L310 966 L312 969.2 L314 972.4 L316 975.7 L318 979.1 L320 982.5 L322 985.8 L324 989.2 L326 992.5 L328 995.7 L330 998.9 L332 1002.1 L334 1005.1 L336 1008 L338 1010.9 L340 1013.6 L342 1016.2 L344 1018.7 L346 1021.1 L348 1023.3 L350 1025.4 L352 1027.4 L354 1029.3 L356 1031.1 L358 1032.7 L360 1034.2 L362 1035.7 L364 1037 L366 1038.2 L368 1039.3 L370 1040.4 L372 1041.3 L374 1042.2 L376 1043 L378 1043.7 L380 1044.4 L382 1045 L384 1045.6 L386 1046.1 L388 1046.6 L390 1047 L392 1047.4 L394 1047.8 L396 1048.1 L398 1048.4 L400 1048.7 L402 1049 L404 1049.3 L406 1049.5 L408 1049.7 L410 1049.9 L412 1050.1 L414 1050.3 L416 1050.5 L418 1050.6 L420 1050.8 L422 1051 L424 1051.1 L426 1051.3 L428 1051.4 L430 1051.6 L432 1051.7 L434 1051.8 L436 1052 L438 1052.1 L440 1052.2 L442 1052.3 L444 1052.5 L446 1052.6 L448 1052.7 L450 1052.8 L452 1053 L454 1053.1 L456 1053.2 L458 1053.3 L460 1053.4 L462 1053.5 L464 1053.6 L466 1053.8" fill="none" stroke="#ff3000" stroke-width="8.3" stroke-linejoin="round" stroke-linecap="round"/>
<path d="M122 1042.1 L124 1042.1 L126 1042.1 L128 1042.1 L130 1042.1 L132 1042.1 L134 1042.1 L136 1042.1 L138 1042.1 L140 1042.1 L142 1042.1 L144 1042.1 L146 1042.1 L148 1042 L150 1042 L152 1042 L154 1042 L156 1042 L158 1042 L160 1042 L162 1042 L164 1042 L166 1042 L168 1041.9 L170 1041.9 L172 1041.9 L174 1041.9 L176 1041.9 L178 1041.9 L180 1041.9 L182 1041.8 L184 1041.8 L186 1041.8 L188 1041.8 L190 1041.7 L192 1041.7 L194 1041.7 L196 1041.6 L198 1041.6 L200 1041.6 L202 1041.5 L204 1041.5 L206 1041.4 L208 1041.3 L210 1041.3 L212 1041.2 L214 1041.1 L216 1040.9 L218 1040.8 L220 1040.7 L222 1040.5 L224 1040.3 L226 1040.1 L228 1039.8 L230 1039.5 L232 1039.2 L234 1038.8 L236 1038.4 L238 1037.9 L240 1037.4 L242 1036.8 L244 1036.2 L246 1035.5 L248 1034.7 L250 1033.8 L252 1032.9 L254 1031.8 L256 1030.6 L258 1029.3 L260 1027.8 L262 1026.2 L264 1024.5 L266 1022.6 L268 1020.6 L270 1018.4 L272 1016 L274 1013.5 L276 1010.8 L278 1007.9 L280 1004.9 L282 1001.6 L284 998.2 L286 994.6 L288 990.9 L290 987 L292 983 L294 978.8 L296 974.5 L298 970.2 L300 965.7 L302 961.2 L304 956.6 L306 952 L308 947.5 L310 942.9 L312 938.5 L314 934.1 L316 929.8 L318 925.7 L320 921.8 L322 918.1 L324 914.6 L326 911.3 L328 908.4 L330 905.8 L332 903.5 L334 901.6 L336 900.1 L338 899 L340 898.3 L342 898 L344 898.1 L346 898.6 L348 899.6 L350 900.9 L352 902.7 L354 904.8 L356 907.3 L358 910.1 L360 913.3 L362 916.7 L364 920.4 L366 924.4 L368 928.5 L370 932.9 L372 937.4 L374 942 L376 946.7 L378 951.4 L380 956.2 L382 961 L384 965.8 L386 970.5 L388 975.2 L390 979.8 L392 984.3 L394 988.6 L396 992.9 L398 997 L400 1000.9 L402 1004.7 L404 1008.3 L406 1011.7 L408 1015 L410 1018.1 L412 1021 L414 1023.7 L416 1026.3 L418 1028.7 L420 1030.9 L422 1033 L424 1034.9 L426 1036.7 L428 1038.3 L430 1039.8 L432 1041.1 L434 1042.4 L436 1043.6 L438 1044.6 L440 1045.5 L442 1046.4 L444 1047.2 L446 1047.9 L448 1048.6 L450 1049.1 L452 1049.7 L454 1050.2 L456 1050.6 L458 1051 L460 1051.4 L462 1051.7 L464 1052 L466 1052.3 L468 1052.5 L470 1052.8 L472 1053 L474 1053.2 L476 1053.4 L478 1053.5 L480 1053.7 L482 1053.9 L484 1054 L486 1054.1 L488 1054.3 L490 1054.4 L492 1054.5 L494 1054.6 L496 1054.8 L498 1054.9 L500 1055 L502 1055.1 L504 1055.2 L506 1055.3 L508 1055.4 L510 1055.5 L512 1055.5 L514 1055.6 L516 1055.7 L518 1055.8 L520 1055.9 L522 1056 L524 1056 L526 1056.1 L528 1056.2 L530 1056.2 L532 1056.3 L534 1056.4 L536 1056.4 L538 1056.5 L540 1056.6 L542 1056.6 L544 1056.6 L546 1056.6 L548 1056.6 L550 1056.6 L552 1056.6 L554 1056.6 L556 1056.6 L558 1056.6 L560 1056.6 L562 1056.6 L564 1056.6" fill="none" stroke="#0c30ff" stroke-width="8.3" stroke-linejoin="round" stroke-linecap="round"/>
<path d="M70 1042.7 L72 1042.7 L74 1042.6 L76 1042.6 L78 1042.6 L80 1042.5 L82 1042.5 L84 1042.4 L86 1042.4 L88 1042.3 L90 1042.3 L92 1042.2 L94 1042.2 L96 1042.1 L98 1042 L100 1042 L102 1041.9 L104 1041.9 L106 1041.8 L108 1041.7 L110 1041.6 L112 1041.6 L114 1041.5 L116 1041.4 L118 1041.3 L120 1041.3 L122 1041.2 L124 1041.1 L126 1041 L128 1040.9 L130 1040.8 L132 1040.7 L134 1040.6 L136 1040.5 L138 1040.4 L140 1040.2 L142 1040.1 L144 1040 L146 1039.8 L148 1039.7 L150 1039.5 L152 1039.4 L154 1039.2 L156 1039 L158 1038.8 L160 1038.6 L162 1038.3 L164 1038.1 L166 1037.8 L168 1037.5 L170 1037.1 L172 1036.8 L174 1036.4 L176 1036 L178 1035.5 L180 1035 L182 1034.4 L184 1033.8 L186 1033.2 L188 1032.5 L190 1031.7 L192 1030.8 L194 1029.9 L196 1028.9 L198 1027.8 L200 1026.6 L202 1025.3 L204 1024 L206 1022.5 L208 1020.9 L210 1019.2 L212 1017.4 L214 1015.4 L216 1013.3 L218 1011.1 L220 1008.8 L222 1006.3 L224 1003.7 L226 1000.9 L228 998.1 L230 995 L232 991.9 L234 988.6 L236 985.2 L238 981.7 L240 978 L242 974.3 L244 970.5 L246 966.6 L248 962.6 L250 958.6 L252 954.5 L254 950.3 L256 946.1 L258 941.9 L260 937.7 L262 933.5 L264 929.4 L266 925.3 L268 921.2 L270 917.2 L272 913.4 L274 909.6 L276 906 L278 902.5 L280 899.2 L282 896 L284 893 L286 890.1 L288 887.4 L290 884.8 L292 882.4 L294 880.1 L296 877.9 L298 875.9 L300 873.9 L302 872.1 L304 870.4 L306 868.7 L308 867.2 L310 865.8 L312 864.4 L314 863.2 L316 862.1 L318 861.1 L320 860.2 L322 859.5 L324 859 L326 858.7 L328 858.5 L330 858.7 L332 859.1 L334 859.7 L336 860.7 L338 862 L340 863.6 L342 865.6 L344 867.9 L346 870.5 L348 873.5 L350 876.8 L352 880.4 L354 884.3 L356 888.4 L358 892.8 L360 897.4 L362 902.2 L364 907.2 L366 912.2 L368 917.4 L370 922.6 L372 927.9 L374 933.1 L376 938.4 L378 943.6 L380 948.8 L382 953.9 L384 959 L386 963.9 L388 968.7 L390 973.4 L392 977.9 L394 982.3 L396 986.5 L398 990.5 L400 994.4 L402 998.1 L404 1001.6 L406 1005 L408 1008.1 L410 1011.1 L412 1013.9 L414 1016.6 L416 1019.1 L418 1021.4 L420 1023.6 L422 1025.6 L424 1027.5 L426 1029.2 L428 1030.8 L430 1032.3 L432 1033.7 L434 1035 L436 1036.2 L438 1037.3 L440 1038.3 L442 1039.2 L444 1040 L446 1040.8 L448 1041.5 L450 1042.2 L452 1042.8 L454 1043.3 L456 1043.8 L458 1044.3 L460 1044.8 L462 1045.2 L464 1045.5 L466 1045.9 L468 1046.2 L470 1046.5 L472 1046.8 L474 1047.1 L476 1047.4 L478 1047.6 L480 1047.9 L482 1048.1 L484 1048.3 L486 1048.5 L488 1048.7 L490 1048.9 L492 1049.1 L494 1049.2 L496 1049.4 L498 1049.6 L500 1049.7 L502 1049.9 L504 1050 L506 1050.2 L508 1050.3 L510 1050.5 L512 1050.6 L514 1050.7 L516 1050.8 L518 1051 L520 1051.1 L522 1051.2 L524 1051.3 L526 1051.4 L528 1051.5 L530 1051.6 L532 1051.7 L534 1051.8 L536 1051.9 L538 1052 L540 1052 L542 1052.1 L544 1052.1 L546 1052.1 L548 1052.2 L550 1052.2 L552 1052.2 L554 1052.3 L556 1052.3 L558 1052.3 L560 1052.3 L562 1052.4 L564 1052.4 L566 1052.4 L568 1052.4" fill="none" stroke="#ff0000" stroke-width="8.8" stroke-linejoin="round" />
</g>
<clipPath id="cpcR"><rect x="586" y="771" width="509" height="309"/></clipPath>
<g clip-path="url(#cpcR)">
<path d="M582 1049.4 L586.7 1052 L591.4 1051.2 L596.1 1052 L600.8 1052.7 L605.5 1051.4 L610.2 1051.2 L614.9 1051 L619.6 1050.7 L624.3 1050.8 L629 1051.6 L633.7 1051.1 L638.4 1051 L643.1 1050.8 L647.8 1051.5 L652.5 1051.2 L657.2 1050.7 L661.9 1051.2 L666.6 1050.6 L671.3 1049.9 L676 1051.5 L680.7 1050.7 L685.4 1049.5 L690.1 1050.7 L694.8 1049.9 L699.5 1048.1 L704.2 1050 L708.9 1048.4 L713.6 1048.1 L718.3 1046.6 L723 1045.1 L727.7 1042.2 L732.4 1042.7 L737.1 1039.4 L741.8 1036.2 L746.5 1033.6 L751.2 1029.3 L755.9 1025.4 L760.6 1018.8 L765.3 1013.3 L770 1003.6 L774.7 999.1 L779.4 993.3 L784.1 986.6 L788.8 975.5 L793.5 967.8 L798.2 963.1 L802.9 951.6 L807.6 946.4 L812.3 941.5 L817 932 L821.7 929 L826.4 920.5 L831.1 918.6 L835.8 915.3 L840.5 914 L845.2 915.5 L849.9 918.7 L854.6 914.4 L859.3 917.9 L864 924.8 L868.7 927.7 L873.4 938 L878.1 946.4 L882.8 953.8 L887.5 965.1 L892.2 971.1 L896.9 985.5 L901.6 991.3 L906.3 1002.3 L911 1011.5 L915.7 1020 L920.4 1029.1 L925.1 1034.6 L929.8 1039.8 L934.5 1045.7 L939.2 1050.9 L943.9 1052.6 L948.6 1055.7 L953.3 1058.8 L958 1059.6 L962.7 1059.7 L967.4 1063.8 L972.1 1064.4 L976.8 1061.9 L981.5 1063.9 L986.2 1064.6 L990.9 1065.3 L995.6 1065.3 L1000.3 1064.9 L1005 1064.4 L1009.7 1065.3 L1014.4 1065.9 L1019.1 1064.6 L1023.8 1064.7 L1028.5 1065.4 L1033.2 1064.2 L1037.9 1065.3 L1042.6 1065.2 L1047.3 1065.8 L1052 1065.1 L1056.7 1065 L1061.4 1065.3 L1066.1 1065.5 L1070.8 1065.2 L1075.5 1065.6 L1080.2 1066.1 L1084.9 1066.4 L1089.6 1066.7 L1094.3 1065.2" fill="none" stroke="#000000" stroke-width="5" stroke-linejoin="round" />
<circle cx="582" cy="1049.4" r="8.6" fill="none" stroke="#000" stroke-width="3.6"/>
<circle cx="586.7" cy="1052" r="8.6" fill="none" stroke="#000" stroke-width="3.6"/>
<circle cx="591.4" cy="1051.2" r="8.6" fill="none" stroke="#000" stroke-width="3.6"/>
<circle cx="596.1" cy="1052" r="8.6" fill="none" stroke="#000" stroke-width="3.6"/>
<circle cx="600.8" cy="1052.7" r="8.6" fill="none" stroke="#000" stroke-width="3.6"/>
<circle cx="605.5" cy="1051.4" r="8.6" fill="none" stroke="#000" stroke-width="3.6"/>
<circle cx="610.2" cy="1051.2" r="8.6" fill="none" stroke="#000" stroke-width="3.6"/>
<circle cx="614.9" cy="1051" r="8.6" fill="none" stroke="#000" stroke-width="3.6"/>
<circle cx="619.6" cy="1050.7" r="8.6" fill="none" stroke="#000" stroke-width="3.6"/>
<circle cx="624.3" cy="1050.8" r="8.6" fill="none" stroke="#000" stroke-width="3.6"/>
<circle cx="629" cy="1051.6" r="8.6" fill="none" stroke="#000" stroke-width="3.6"/>
<circle cx="633.7" cy="1051.1" r="8.6" fill="none" stroke="#000" stroke-width="3.6"/>
<circle cx="638.4" cy="1051" r="8.6" fill="none" stroke="#000" stroke-width="3.6"/>
<circle cx="643.1" cy="1050.8" r="8.6" fill="none" stroke="#000" stroke-width="3.6"/>
<circle cx="647.8" cy="1051.5" r="8.6" fill="none" stroke="#000" stroke-width="3.6"/>
<circle cx="652.5" cy="1051.2" r="8.6" fill="none" stroke="#000" stroke-width="3.6"/>
<circle cx="657.2" cy="1050.7" r="8.6" fill="none" stroke="#000" stroke-width="3.6"/>
<circle cx="661.9" cy="1051.2" r="8.6" fill="none" stroke="#000" stroke-width="3.6"/>
<circle cx="666.6" cy="1050.6" r="8.6" fill="none" stroke="#000" stroke-width="3.6"/>
<circle cx="671.3" cy="1049.9" r="8.6" fill="none" stroke="#000" stroke-width="3.6"/>
<circle cx="676" cy="1051.5" r="8.6" fill="none" stroke="#000" stroke-width="3.6"/>
<circle cx="680.7" cy="1050.7" r="8.6" fill="none" stroke="#000" stroke-width="3.6"/>
<circle cx="685.4" cy="1049.5" r="8.6" fill="none" stroke="#000" stroke-width="3.6"/>
<circle cx="690.1" cy="1050.7" r="8.6" fill="none" stroke="#000" stroke-width="3.6"/>
<circle cx="694.8" cy="1049.9" r="8.6" fill="none" stroke="#000" stroke-width="3.6"/>
<circle cx="699.5" cy="1048.1" r="8.6" fill="none" stroke="#000" stroke-width="3.6"/>
<circle cx="704.2" cy="1050" r="8.6" fill="none" stroke="#000" stroke-width="3.6"/>
<circle cx="708.9" cy="1048.4" r="8.6" fill="none" stroke="#000" stroke-width="3.6"/>
<circle cx="713.6" cy="1048.1" r="8.6" fill="none" stroke="#000" stroke-width="3.6"/>
<circle cx="718.3" cy="1046.6" r="8.6" fill="none" stroke="#000" stroke-width="3.6"/>
<circle cx="723" cy="1045.1" r="8.6" fill="none" stroke="#000" stroke-width="3.6"/>
<circle cx="727.7" cy="1042.2" r="8.6" fill="none" stroke="#000" stroke-width="3.6"/>
<circle cx="732.4" cy="1042.7" r="8.6" fill="none" stroke="#000" stroke-width="3.6"/>
<circle cx="737.1" cy="1039.4" r="8.6" fill="none" stroke="#000" stroke-width="3.6"/>
<circle cx="741.8" cy="1036.2" r="8.6" fill="none" stroke="#000" stroke-width="3.6"/>
<circle cx="746.5" cy="1033.6" r="8.6" fill="none" stroke="#000" stroke-width="3.6"/>
<circle cx="751.2" cy="1029.3" r="8.6" fill="none" stroke="#000" stroke-width="3.6"/>
<circle cx="755.9" cy="1025.4" r="8.6" fill="none" stroke="#000" stroke-width="3.6"/>
<circle cx="760.6" cy="1018.8" r="8.6" fill="none" stroke="#000" stroke-width="3.6"/>
<circle cx="765.3" cy="1013.3" r="8.6" fill="none" stroke="#000" stroke-width="3.6"/>
<circle cx="770" cy="1003.6" r="8.6" fill="none" stroke="#000" stroke-width="3.6"/>
<circle cx="774.7" cy="999.1" r="8.6" fill="none" stroke="#000" stroke-width="3.6"/>
<circle cx="779.4" cy="993.3" r="8.6" fill="none" stroke="#000" stroke-width="3.6"/>
<circle cx="784.1" cy="986.6" r="8.6" fill="none" stroke="#000" stroke-width="3.6"/>
<circle cx="788.8" cy="975.5" r="8.6" fill="none" stroke="#000" stroke-width="3.6"/>
<circle cx="793.5" cy="967.8" r="8.6" fill="none" stroke="#000" stroke-width="3.6"/>
<circle cx="798.2" cy="963.1" r="8.6" fill="none" stroke="#000" stroke-width="3.6"/>
<circle cx="802.9" cy="951.6" r="8.6" fill="none" stroke="#000" stroke-width="3.6"/>
<circle cx="807.6" cy="946.4" r="8.6" fill="none" stroke="#000" stroke-width="3.6"/>
<circle cx="812.3" cy="941.5" r="8.6" fill="none" stroke="#000" stroke-width="3.6"/>
<circle cx="817" cy="932" r="8.6" fill="none" stroke="#000" stroke-width="3.6"/>
<circle cx="821.7" cy="929" r="8.6" fill="none" stroke="#000" stroke-width="3.6"/>
<circle cx="826.4" cy="920.5" r="8.6" fill="none" stroke="#000" stroke-width="3.6"/>
<circle cx="831.1" cy="918.6" r="8.6" fill="none" stroke="#000" stroke-width="3.6"/>
<circle cx="835.8" cy="915.3" r="8.6" fill="none" stroke="#000" stroke-width="3.6"/>
<circle cx="840.5" cy="914" r="8.6" fill="none" stroke="#000" stroke-width="3.6"/>
<circle cx="845.2" cy="915.5" r="8.6" fill="none" stroke="#000" stroke-width="3.6"/>
<circle cx="849.9" cy="918.7" r="8.6" fill="none" stroke="#000" stroke-width="3.6"/>
<circle cx="854.6" cy="914.4" r="8.6" fill="none" stroke="#000" stroke-width="3.6"/>
<circle cx="859.3" cy="917.9" r="8.6" fill="none" stroke="#000" stroke-width="3.6"/>
<circle cx="864" cy="924.8" r="8.6" fill="none" stroke="#000" stroke-width="3.6"/>
<circle cx="868.7" cy="927.7" r="8.6" fill="none" stroke="#000" stroke-width="3.6"/>
<circle cx="873.4" cy="938" r="8.6" fill="none" stroke="#000" stroke-width="3.6"/>
<circle cx="878.1" cy="946.4" r="8.6" fill="none" stroke="#000" stroke-width="3.6"/>
<circle cx="882.8" cy="953.8" r="8.6" fill="none" stroke="#000" stroke-width="3.6"/>
<circle cx="887.5" cy="965.1" r="8.6" fill="none" stroke="#000" stroke-width="3.6"/>
<circle cx="892.2" cy="971.1" r="8.6" fill="none" stroke="#000" stroke-width="3.6"/>
<circle cx="896.9" cy="985.5" r="8.6" fill="none" stroke="#000" stroke-width="3.6"/>
<circle cx="901.6" cy="991.3" r="8.6" fill="none" stroke="#000" stroke-width="3.6"/>
<circle cx="906.3" cy="1002.3" r="8.6" fill="none" stroke="#000" stroke-width="3.6"/>
<circle cx="911" cy="1011.5" r="8.6" fill="none" stroke="#000" stroke-width="3.6"/>
<circle cx="915.7" cy="1020" r="8.6" fill="none" stroke="#000" stroke-width="3.6"/>
<circle cx="920.4" cy="1029.1" r="8.6" fill="none" stroke="#000" stroke-width="3.6"/>
<circle cx="925.1" cy="1034.6" r="8.6" fill="none" stroke="#000" stroke-width="3.6"/>
<circle cx="929.8" cy="1039.8" r="8.6" fill="none" stroke="#000" stroke-width="3.6"/>
<circle cx="934.5" cy="1045.7" r="8.6" fill="none" stroke="#000" stroke-width="3.6"/>
<circle cx="939.2" cy="1050.9" r="8.6" fill="none" stroke="#000" stroke-width="3.6"/>
<circle cx="943.9" cy="1052.6" r="8.6" fill="none" stroke="#000" stroke-width="3.6"/>
<circle cx="948.6" cy="1055.7" r="8.6" fill="none" stroke="#000" stroke-width="3.6"/>
<circle cx="953.3" cy="1058.8" r="8.6" fill="none" stroke="#000" stroke-width="3.6"/>
<circle cx="958" cy="1059.6" r="8.6" fill="none" stroke="#000" stroke-width="3.6"/>
<circle cx="962.7" cy="1059.7" r="8.6" fill="none" stroke="#000" stroke-width="3.6"/>
<circle cx="967.4" cy="1063.8" r="8.6" fill="none" stroke="#000" stroke-width="3.6"/>
<circle cx="972.1" cy="1064.4" r="8.6" fill="none" stroke="#000" stroke-width="3.6"/>
<circle cx="976.8" cy="1061.9" r="8.6" fill="none" stroke="#000" stroke-width="3.6"/>
<circle cx="981.5" cy="1063.9" r="8.6" fill="none" stroke="#000" stroke-width="3.6"/>
<circle cx="986.2" cy="1064.6" r="8.6" fill="none" stroke="#000" stroke-width="3.6"/>
<circle cx="990.9" cy="1065.3" r="8.6" fill="none" stroke="#000" stroke-width="3.6"/>
<circle cx="995.6" cy="1065.3" r="8.6" fill="none" stroke="#000" stroke-width="3.6"/>
<circle cx="1000.3" cy="1064.9" r="8.6" fill="none" stroke="#000" stroke-width="3.6"/>
<circle cx="1005" cy="1064.4" r="8.6" fill="none" stroke="#000" stroke-width="3.6"/>
<circle cx="1009.7" cy="1065.3" r="8.6" fill="none" stroke="#000" stroke-width="3.6"/>
<circle cx="1014.4" cy="1065.9" r="8.6" fill="none" stroke="#000" stroke-width="3.6"/>
<circle cx="1019.1" cy="1064.6" r="8.6" fill="none" stroke="#000" stroke-width="3.6"/>
<circle cx="1023.8" cy="1064.7" r="8.6" fill="none" stroke="#000" stroke-width="3.6"/>
<circle cx="1028.5" cy="1065.4" r="8.6" fill="none" stroke="#000" stroke-width="3.6"/>
<circle cx="1033.2" cy="1064.2" r="8.6" fill="none" stroke="#000" stroke-width="3.6"/>
<circle cx="1037.9" cy="1065.3" r="8.6" fill="none" stroke="#000" stroke-width="3.6"/>
<circle cx="1042.6" cy="1065.2" r="8.6" fill="none" stroke="#000" stroke-width="3.6"/>
<circle cx="1047.3" cy="1065.8" r="8.6" fill="none" stroke="#000" stroke-width="3.6"/>
<circle cx="1052" cy="1065.1" r="8.6" fill="none" stroke="#000" stroke-width="3.6"/>
<circle cx="1056.7" cy="1065" r="8.6" fill="none" stroke="#000" stroke-width="3.6"/>
<circle cx="1061.4" cy="1065.3" r="8.6" fill="none" stroke="#000" stroke-width="3.6"/>
<circle cx="1066.1" cy="1065.5" r="8.6" fill="none" stroke="#000" stroke-width="3.6"/>
<circle cx="1070.8" cy="1065.2" r="8.6" fill="none" stroke="#000" stroke-width="3.6"/>
<circle cx="1075.5" cy="1065.6" r="8.6" fill="none" stroke="#000" stroke-width="3.6"/>
<circle cx="1080.2" cy="1066.1" r="8.6" fill="none" stroke="#000" stroke-width="3.6"/>
<circle cx="1084.9" cy="1066.4" r="8.6" fill="none" stroke="#000" stroke-width="3.6"/>
<circle cx="1089.6" cy="1066.7" r="8.6" fill="none" stroke="#000" stroke-width="3.6"/>
<circle cx="1094.3" cy="1065.2" r="8.6" fill="none" stroke="#000" stroke-width="3.6"/>
<path d="M580 1056.5 L582 1056.5 L584 1056.5 L586 1056.5 L588 1056.5 L590 1056.5 L592 1056.5 L594 1056.5 L596 1056.5 L598 1056.5 L600 1056.5 L602 1056.5 L604 1056.5 L606 1056.5 L608 1056.5 L610 1056.4 L612 1056.4 L614 1056.4 L616 1056.4 L618 1056.4 L620 1056.4 L622 1056.4 L624 1056.4 L626 1056.4 L628 1056.3 L630 1056.3 L632 1056.3 L634 1056.3 L636 1056.2 L638 1056.2 L640 1056.2 L642 1056.1 L644 1056.1 L646 1056.1 L648 1056 L650 1056 L652 1055.9 L654 1055.9 L656 1055.8 L658 1055.7 L660 1055.7 L662 1055.6 L664 1055.5 L666 1055.4 L668 1055.4 L670 1055.3 L672 1055.2 L674 1055.1 L676 1055 L678 1054.9 L680 1054.8 L682 1054.7 L684 1054.6 L686 1054.4 L688 1054.3 L690 1054.2 L692 1054.1 L694 1054 L696 1053.9 L698 1053.8 L700 1053.7 L702 1053.5 L704 1053.4 L706 1053.3 L708 1053.2 L710 1053.1 L712 1053 L714 1053 L716 1052.9 L718 1052.8 L720 1052.7 L722 1052.7 L724 1052.6 L726 1052.6 L728 1052.6 L730 1052.5 L732 1052.5 L734 1052.5 L736 1052.5 L738 1052.5 L740 1052.5 L742 1052.6 L744 1052.7 L746 1052.7 L748 1052.8 L750 1052.9 L752 1053.1 L754 1053.2 L756 1053.3 L758 1053.4 L760 1053.6 L762 1053.7 L764 1053.9 L766 1054 L768 1054.2 L770 1054.4 L772 1054.5 L774 1054.7 L776 1054.9 L778 1055.1 L780 1055.3 L782 1055.4 L784 1055.6 L786 1055.8 L788 1056 L790 1056.1 L792 1056.3 L794 1056.5 L796 1056.7 L798 1056.8 L800 1057 L802 1057.2 L804 1057.3 L806 1057.5 L808 1057.6 L810 1057.8 L812 1057.9 L814 1058.1 L816 1058.2 L818 1058.4 L820 1058.5 L822 1058.6 L824 1058.8 L826 1058.9 L828 1059 L830 1059.1 L832 1059.3 L834 1059.4 L836 1059.5 L838 1059.6 L840 1059.7 L842 1059.8 L844 1059.9 L846 1060 L848 1060.1 L850 1060.2 L852 1060.3 L854 1060.4 L856 1060.5 L858 1060.6 L860 1060.7 L862 1060.8 L864 1060.9 L866 1061 L868 1061.1 L870 1061.2 L872 1061.3 L874 1061.4 L876 1061.5 L878 1061.6 L880 1061.7 L882 1061.8 L884 1061.9 L886 1062 L888 1062.1 L890 1062.2 L892 1062.2 L894 1062.3 L896 1062.4 L898 1062.5 L900 1062.6 L902 1062.7 L904 1062.8 L906 1062.9 L908 1063 L910 1063 L912 1063.1 L914 1063.2 L916 1063.3 L918 1063.4 L920 1063.5 L922 1063.5 L924 1063.6 L926 1063.7 L928 1063.8 L930 1063.9 L932 1064 L934 1064 L936 1064.1 L938 1064.2 L940 1064.3 L942 1064.3 L944 1064.4 L946 1064.5 L948 1064.6 L950 1064.6 L952 1064.7 L954 1064.8 L956 1064.8 L958 1064.9 L960 1065 L962 1065 L964 1065.1 L966 1065.2 L968 1065.2 L970 1065.3 L972 1065.3 L974 1065.4 L976 1065.4 L978 1065.5 L980 1065.6 L982 1065.6 L984 1065.7 L986 1065.7 L988 1065.8 L990 1065.8 L992 1065.8 L994 1065.9 L996 1065.9 L998 1066 L1000 1066 L1002 1066 L1004 1066 L1006 1066 L1008 1066 L1010 1066 L1012 1066 L1014 1066 L1016 1066 L1018 1066 L1020 1066 L1022 1066 L1024 1066 L1026 1066 L1028 1066 L1030 1066 L1032 1066 L1034 1066 L1036 1066 L1038 1066 L1040 1066 L1042 1066 L1044 1066 L1046 1066 L1048 1066 L1050 1066 L1052 1066 L1054 1066 L1056 1066 L1058 1066 L1060 1066 L1062 1066 L1064 1066 L1066 1066 L1068 1066 L1070 1066 L1072 1066 L1074 1066 L1076 1066 L1078 1066 L1080 1066 L1082 1066 L1084 1066 L1086 1066 L1088 1066 L1090 1066 L1092 1066 L1094 1066 L1096 1066 L1098 1066 L1100 1066" fill="none" stroke="#2a0a82" stroke-width="7.5" stroke-linejoin="round" />
<path d="M702 1051.9 L704 1051.7 L706 1051.3 L708 1051 L710 1050.6 L712 1050.2 L714 1049.8 L716 1049.4 L718 1048.9 L720 1048.3 L722 1047.7 L724 1047.1 L726 1046.4 L728 1045.6 L730 1044.8 L732 1043.9 L734 1043 L736 1041.9 L738 1040.8 L740 1039.6 L742 1038.4 L744 1037 L746 1035.6 L748 1034.1 L750 1032.5 L752 1030.8 L754 1029.1 L756 1027.2 L758 1025.3 L760 1023.3 L762 1021.2 L764 1019 L766 1016.8 L768 1014.5 L770 1012.2 L772 1009.9 L774 1007.5 L776 1005.2 L778 1002.8 L780 1000.5 L782 998.3 L784 996.1 L786 993.9 L788 991.9 L790 989.9 L792 988.1 L794 986.5 L796 984.9 L798 983.6 L800 982.5 L802 981.5 L804 980.7 L806 980.2 L808 979.9 L810 979.8 L812 980 L814 980.3 L816 980.9 L818 981.8 L820 982.8 L822 984.1 L824 985.5 L826 987.2 L828 989 L830 990.9 L832 993 L834 995.3 L836 997.6 L838 1000 L840 1002.5 L842 1005.1 L844 1007.7 L846 1010.3 L848 1012.9 L850 1015.6 L852 1018.2 L854 1020.8 L856 1023.3 L858 1025.8 L860 1028.2 L862 1030.5 L864 1032.8 L866 1034.9 L868 1037 L870 1039 L872 1040.9 L874 1042.7 L876 1044.4 L878 1046 L880 1047.5 L882 1048.9 L884 1050.2 L886 1051.4 L888 1052.5 L890 1053.6 L892 1054.5 L894 1055.4 L896 1056.2 L898 1057 L900 1057.6 L902 1058.3 L904 1058.8 L906 1059.3 L908 1059.8 L910 1060.2 L912 1060.6 L914 1061 L916 1061.3 L918 1061.6 L920 1061.9 L922 1062.1 L924 1062.3 L926 1062.5 L928 1062.7 L930 1062.9 L932 1063.1 L934 1063.2 L936 1063.4 L938 1063.5 L940 1063.6 L942 1063.7 L944 1063.8 L946 1063.9 L948 1064 L950 1064.1 L952 1064.2 L954 1064.3 L956 1064.4 L958 1064.5 L960 1064.6 L962 1064.7 L964 1064.7 L966 1064.8" fill="none" stroke="#ff3000" stroke-width="8.3" stroke-linejoin="round" stroke-linecap="round"/>
<path d="M750 1051.2 L752 1051.1 L754 1051 L756 1050.9 L758 1050.7 L760 1050.6 L762 1050.4 L764 1050.1 L766 1049.8 L768 1049.4 L770 1049 L772 1048.6 L774 1048 L776 1047.4 L778 1046.7 L780 1045.9 L782 1045 L784 1044 L786 1042.9 L788 1041.6 L790 1040.3 L792 1038.8 L794 1037.2 L796 1035.4 L798 1033.6 L800 1031.5 L802 1029.4 L804 1027.1 L806 1024.6 L808 1022 L810 1019.3 L812 1016.5 L814 1013.5 L816 1010.5 L818 1007.3 L820 1004.1 L822 1000.8 L824 997.4 L826 994 L828 990.6 L830 987.2 L832 983.8 L834 980.5 L836 977.2 L838 974.1 L840 971.1 L842 968.2 L844 965.4 L846 962.9 L848 960.6 L850 958.5 L852 956.7 L854 955.1 L856 953.9 L858 952.9 L860 952.3 L862 951.9 L864 951.9 L866 952.3 L868 952.9 L870 953.9 L872 955.2 L874 956.7 L876 958.6 L878 960.7 L880 963.1 L882 965.7 L884 968.5 L886 971.5 L888 974.6 L890 977.9 L892 981.3 L894 984.8 L896 988.4 L898 992 L900 995.6 L902 999.2 L904 1002.8 L906 1006.4 L908 1009.9 L910 1013.3 L912 1016.7 L914 1019.9 L916 1023 L918 1026.1 L920 1029 L922 1031.7 L924 1034.4 L926 1036.9 L928 1039.2 L930 1041.4 L932 1043.5 L934 1045.5 L936 1047.3 L938 1048.9 L940 1050.5 L942 1051.9 L944 1053.3 L946 1054.5 L948 1055.6 L950 1056.6 L952 1057.5 L954 1058.4 L956 1059.1 L958 1059.8 L960 1060.4 L962 1061 L964 1061.5 L966 1061.9 L968 1062.3 L970 1062.7 L972 1063 L974 1063.3 L976 1063.6 L978 1063.8 L980 1064 L982 1064.2 L984 1064.4 L986 1064.5 L988 1064.7 L990 1064.8 L992 1064.9 L994 1065 L996 1065.1 L998 1065.2 L1000 1065.3 L1002 1065.3 L1004 1065.3 L1006 1065.4 L1008 1065.4 L1010 1065.4 L1012 1065.4 L1014 1065.5 L1016 1065.5 L1018 1065.5 L1020 1065.5 L1022 1065.5 L1024 1065.5 L1026 1065.6 L1028 1065.6 L1030 1065.6 L1032 1065.6 L1034 1065.6 L1036 1065.6 L1038 1065.6 L1040 1065.6 L1042 1065.6 L1044 1065.6 L1046 1065.6" fill="none" stroke="#006400" stroke-width="8.3" stroke-linejoin="round" stroke-linecap="round"/>
<path d="M580 1051.5 L582 1051.5 L584 1051.5 L586 1051.5 L588 1051.5 L590 1051.5 L592 1051.4 L594 1051.4 L596 1051.4 L598 1051.4 L600 1051.4 L602 1051.4 L604 1051.4 L606 1051.4 L608 1051.4 L610 1051.4 L612 1051.3 L614 1051.3 L616 1051.3 L618 1051.3 L620 1051.3 L622 1051.2 L624 1051.2 L626 1051.2 L628 1051.2 L630 1051.1 L632 1051.1 L634 1051.1 L636 1051 L638 1051 L640 1050.9 L642 1050.9 L644 1050.9 L646 1050.9 L648 1050.9 L650 1050.9 L652 1050.9 L654 1050.9 L656 1050.9 L658 1050.8 L660 1050.8 L662 1050.8 L664 1050.8 L666 1050.7 L668 1050.7 L670 1050.6 L672 1050.6 L674 1050.6 L676 1050.5 L678 1050.4 L680 1050.4 L682 1050.3 L684 1050.2 L686 1050.1 L688 1050 L690 1049.9 L692 1049.8 L694 1049.7 L696 1049.5 L698 1049.4 L700 1049.2 L702 1049 L704 1048.8 L706 1048.6 L708 1048.3 L710 1048 L712 1047.7 L714 1047.3 L716 1046.9 L718 1046.5 L720 1046 L722 1045.5 L724 1044.9 L726 1044.3 L728 1043.5 L730 1042.8 L732 1041.9 L734 1041 L736 1040 L738 1038.9 L740 1037.6 L742 1036.4 L744 1035 L746 1033.5 L748 1032 L750 1030.3 L752 1028.4 L754 1026.5 L756 1024.5 L758 1022.3 L760 1020 L762 1017.6 L764 1015.1 L766 1012.5 L768 1009.7 L770 1006.9 L772 1003.9 L774 1000.8 L776 997.7 L778 994.4 L780 991.2 L782 987.8 L784 984.4 L786 981 L788 977.5 L790 974.1 L792 970.6 L794 967.2 L796 963.7 L798 960.3 L800 957 L802 953.7 L804 950.5 L806 947.3 L808 944.3 L810 941.3 L812 938.5 L814 935.8 L816 933.2 L818 930.7 L820 928.4 L822 926.2 L824 924.2 L826 922.3 L828 920.6 L830 919 L832 917.6 L834 916.4 L836 915.4 L838 914.5 L840 913.9 L842 913.4 L844 913.2 L846 913.2 L848 913.4 L850 913.8 L852 914.5 L854 915.4 L856 916.6 L858 918 L860 919.7 L862 921.6 L864 923.8 L866 926.2 L868 928.8 L870 931.7 L872 934.7 L874 938 L876 941.5 L878 945.1 L880 948.9 L882 952.8 L884 956.8 L886 960.9 L888 965.1 L890 969.3 L892 973.6 L894 977.9 L896 982.2 L898 986.4 L900 990.6 L902 994.8 L904 998.9 L906 1002.8 L908 1006.7 L910 1010.5 L912 1014.2 L914 1017.7 L916 1021 L918 1024.3 L920 1027.4 L922 1030.3 L924 1033.1 L926 1035.7 L928 1038.1 L930 1040.5 L932 1042.6 L934 1044.6 L936 1046.5 L938 1048.3 L940 1049.9 L942 1051.3 L944 1052.7 L946 1053.9 L948 1055.1 L950 1056.1 L952 1057.1 L954 1057.9 L956 1058.7 L958 1059.4 L960 1060 L962 1060.6 L964 1061.1 L966 1061.6 L968 1062 L970 1062.4 L972 1062.7 L974 1063 L976 1063.3 L978 1063.5 L980 1063.7 L982 1063.9 L984 1064.1 L986 1064.3 L988 1064.4 L990 1064.5 L992 1064.7 L994 1064.8 L996 1064.9 L998 1065 L1000 1065 L1002 1065.1 L1004 1065.1 L1006 1065.2 L1008 1065.2 L1010 1065.2 L1012 1065.2 L1014 1065.3 L1016 1065.3 L1018 1065.3 L1020 1065.3 L1022 1065.3 L1024 1065.4 L1026 1065.4 L1028 1065.4 L1030 1065.4 L1032 1065.4 L1034 1065.4 L1036 1065.4 L1038 1065.4 L1040 1065.5 L1042 1065.5 L1044 1065.5 L1046 1065.5 L1048 1065.5 L1050 1065.5 L1052 1065.5 L1054 1065.5 L1056 1065.5 L1058 1065.5 L1060 1065.6 L1062 1065.6 L1064 1065.6 L1066 1065.6 L1068 1065.6 L1070 1065.6 L1072 1065.6 L1074 1065.6 L1076 1065.6 L1078 1065.6 L1080 1065.6 L1082 1065.6 L1084 1065.6 L1086 1065.6 L1088 1065.6 L1090 1065.7 L1092 1065.7 L1094 1065.7 L1096 1065.7 L1098 1065.7 L1100 1065.7" fill="none" stroke="#ff0000" stroke-width="8.8" stroke-linejoin="round" />
</g>
<line x1="80" y1="767.3" x2="80" y2="1083.9" stroke="#000000" stroke-width="7.8" />
<line x1="1095" y1="767.3" x2="1095" y2="1083.9" stroke="#000000" stroke-width="7.8" />
<line x1="80" y1="771.2" x2="566" y2="771.2" stroke="#000000" stroke-width="7.8" />
<line x1="588" y1="771.2" x2="1095" y2="771.2" stroke="#000000" stroke-width="7.8" />
<line x1="80" y1="1080" x2="564" y2="1080" stroke="#000000" stroke-width="7.8" />
<line x1="588" y1="1080" x2="1095" y2="1080" stroke="#000000" stroke-width="7.8" />
<line x1="558" y1="1096.5" x2="575.5" y2="1065.5" stroke="#000000" stroke-width="8" />
<line x1="575.5" y1="1096.5" x2="593" y2="1065.5" stroke="#000000" stroke-width="8" />
<line x1="560" y1="778.2" x2="577.5" y2="763.7" stroke="#000000" stroke-width="8" />
<line x1="577" y1="778.2" x2="594.5" y2="763.7" stroke="#000000" stroke-width="8" />
<rect x="120.2" y="1064.5" width="7.5" height="13" fill="#000000"/>
<rect x="298.4" y="1064.5" width="7.5" height="13" fill="#000000"/>
<rect x="476.6" y="1064.5" width="7.5" height="13" fill="#000000"/>
<rect x="164.8" y="1072" width="7.5" height="5.5" fill="#000000"/>
<rect x="209.3" y="1072" width="7.5" height="5.5" fill="#000000"/>
<rect x="253.9" y="1072" width="7.5" height="5.5" fill="#000000"/>
<rect x="343" y="1072" width="7.5" height="5.5" fill="#000000"/>
<rect x="387.5" y="1072" width="7.5" height="5.5" fill="#000000"/>
<rect x="432.1" y="1072" width="7.5" height="5.5" fill="#000000"/>
<rect x="521.2" y="1072" width="7.5" height="5.5" fill="#000000"/>
<rect x="667.8" y="1064.5" width="7.5" height="13" fill="#000000"/>
<rect x="837.2" y="1064.5" width="7.5" height="13" fill="#000000"/>
<rect x="1006.8" y="1064.5" width="7.5" height="13" fill="#000000"/>
<rect x="625.4" y="1072" width="7.5" height="5.5" fill="#000000"/>
<rect x="710.1" y="1072" width="7.5" height="5.5" fill="#000000"/>
<rect x="752.5" y="1072" width="7.5" height="5.5" fill="#000000"/>
<rect x="794.9" y="1072" width="7.5" height="5.5" fill="#000000"/>
<rect x="879.6" y="1072" width="7.5" height="5.5" fill="#000000"/>
<rect x="922" y="1072" width="7.5" height="5.5" fill="#000000"/>
<rect x="964.4" y="1072" width="7.5" height="5.5" fill="#000000"/>
<rect x="1049.1" y="1072" width="7.5" height="5.5" fill="#000000"/>
<text transform="translate(124 1129) scale(0.985 1)" font-size="57" fill="#000000" text-anchor="middle" font-family='"Liberation Sans", sans-serif' font-weight="bold"  stroke="#000000" stroke-width="0.68" stroke-linejoin="round">44</text>
<text transform="translate(302.2 1129) scale(0.985 1)" font-size="57" fill="#000000" text-anchor="middle" font-family='"Liberation Sans", sans-serif' font-weight="bold"  stroke="#000000" stroke-width="0.68" stroke-linejoin="round">42</text>
<text transform="translate(480.4 1129) scale(0.985 1)" font-size="57" fill="#000000" text-anchor="middle" font-family='"Liberation Sans", sans-serif' font-weight="bold"  stroke="#000000" stroke-width="0.68" stroke-linejoin="round">40</text>
<text transform="translate(671.5 1129) scale(0.985 1)" font-size="57" fill="#000000" text-anchor="middle" font-family='"Liberation Sans", sans-serif' font-weight="bold"  stroke="#000000" stroke-width="0.68" stroke-linejoin="round">32</text>
<text transform="translate(841 1129) scale(0.985 1)" font-size="57" fill="#000000" text-anchor="middle" font-family='"Liberation Sans", sans-serif' font-weight="bold"  stroke="#000000" stroke-width="0.68" stroke-linejoin="round">30</text>
<text transform="translate(1010.5 1129) scale(0.985 1)" font-size="57" fill="#000000" text-anchor="middle" font-family='"Liberation Sans", sans-serif' font-weight="bold"  stroke="#000000" stroke-width="0.68" stroke-linejoin="round">28</text>
<line x1="90.5" y1="791" x2="108.8" y2="791" stroke="#000000" stroke-width="4.5" />
<line x1="136.5" y1="791" x2="155" y2="791" stroke="#000000" stroke-width="4.5" />
<circle cx="122.7" cy="790.5" r="9.3" fill="#fff" stroke="#000" stroke-width="3.4"/>
<text transform="translate(162 800.3) scale(1.025 1)" font-size="27.5" fill="#000000" text-anchor="start" font-family='"Liberation Sans", sans-serif' font-weight="bold"  stroke="#000000" stroke-width="0.33" stroke-linejoin="round">Measured</text>
<line x1="90.5" y1="825.5" x2="155" y2="825.5" stroke="#ff0000" stroke-width="9" />
<text transform="translate(162 835.3) scale(1.025 1)" font-size="27.5" fill="#ff0000" text-anchor="start" font-family='"Liberation Sans", sans-serif' font-weight="bold"  stroke="#ff0000" stroke-width="0.33" stroke-linejoin="round">Fit</text>
<rect x="343" y="801.5" width="7" height="19" fill="#000000"/>
<line x1="374" y1="810" x2="492" y2="810" stroke="#000000" stroke-width="7.5" />
<polygon points="346.5,810 380.5,802 376,810 380.5,818" fill="#000" stroke="#000" stroke-width="6" stroke-linejoin="round"/>
<rect x="862" y="801" width="7" height="19" fill="#000000"/>
<line x1="747" y1="809.5" x2="838" y2="809.5" stroke="#000000" stroke-width="7.5" />
<polygon points="865.5,809.5 831.5,801.5 836,809.5 831.5,817.5" fill="#000" stroke="#000" stroke-width="6" stroke-linejoin="round"/>
<text transform="translate(492 828.5) scale(1.025 1)" font-size="62" fill="#000000" text-anchor="start" font-family='"Liberation Sans", sans-serif' font-weight="bold"  stroke="#000000" stroke-width="0.74" stroke-linejoin="round">11.80 eV</text>
<text transform="translate(1060.6 808.8) scale(1.0 1)" font-size="44.5" fill="#000000" text-anchor="middle" font-family='"Liberation Sans", sans-serif' font-weight="bold"  stroke="#000000" stroke-width="0.53" stroke-linejoin="round">(c)</text>
<text transform="translate(423 902.5) scale(1.025 1)" font-size="62" fill="#0c30ff" text-anchor="start" font-family='"Liberation Sans", sans-serif' font-weight="bold"  stroke="#0c30ff" stroke-width="0.74" stroke-linejoin="round">As 3d</text>
<text transform="translate(596.5 928.5) scale(1.0 1)" font-size="37" fill="#0c30ff" text-anchor="start" font-family='"Liberation Sans", sans-serif' font-weight="bold"  stroke="#0c30ff" stroke-width="0.44" stroke-linejoin="round">5/2</text>
<line x1="418" y1="893" x2="363.5" y2="939.9" stroke="#0c30ff" stroke-width="8" stroke-linecap="round"/>
<polygon points="345.7,955.2 360.9,932.3 363.5,939.9 370.6,943.6" fill="#0c30ff" stroke="#0c30ff" stroke-width="7" stroke-linejoin="round"/>
<text transform="translate(860 902) scale(1.025 1)" font-size="62" fill="#006400" text-anchor="start" font-family='"Liberation Sans", sans-serif' font-weight="bold"  stroke="#006400" stroke-width="0.74" stroke-linejoin="round">Ge 3d</text>
<text transform="translate(1035 928.5) scale(1.0 1)" font-size="37" fill="#006400" text-anchor="start" font-family='"Liberation Sans", sans-serif' font-weight="bold"  stroke="#006400" stroke-width="0.44" stroke-linejoin="round">5/2</text>
<line x1="944" y1="910" x2="883.8" y2="964" stroke="#006400" stroke-width="8" stroke-linecap="round"/>
<polygon points="866.3,979.7 881,956.4 883.8,964 891,967.6" fill="#006400" stroke="#006400" stroke-width="7" stroke-linejoin="round"/>
<text transform="translate(588 1181) scale(1.025 1)" font-size="56" fill="#000000" text-anchor="middle" font-family='"Liberation Sans", sans-serif' font-weight="bold"  stroke="#000000" stroke-width="0.67" stroke-linejoin="round">Binding Energy (eV)</text>
</g>
<text transform="translate(42,750) rotate(-90) scale(1.014 1)" font-size="57" font-weight="bold" font-family='"Liberation Sans", sans-serif' stroke="#000" stroke-width="0.68" stroke-linejoin="round">Intensity (a.u.)</text>
<g id="pd">
<text transform="translate(126 1259.5) scale(1.025 1)" font-size="55" fill="#000000" text-anchor="start" font-family='"Liberation Sans", sans-serif' font-weight="bold"  stroke="#000000" stroke-width="0.66" stroke-linejoin="round">(d)</text>
<text transform="translate(360 1260.3) scale(0.97 1)" font-size="71" fill="#ff0000" font-weight="bold" font-family='"Liberation Sans", sans-serif' stroke="#ff0000" stroke-width="0.85" stroke-linejoin="round"><tspan font-family='"Liberation Serif", serif' font-size="67">ε</tspan>-Ge</text>
<text transform="translate(652.3 1259.5) scale(1.025 1)" font-size="64" fill="#ff0000" text-anchor="start" font-family='"Liberation Sans", sans-serif' font-weight="bold"  stroke="#ff0000" stroke-width="0.77" stroke-linejoin="round">In</text>
<text transform="translate(712 1287.5) scale(1.025 1)" font-size="38.5" fill="#ff0000" text-anchor="start" font-family='"Liberation Sans", sans-serif' font-weight="bold"  stroke="#ff0000" stroke-width="0.46" stroke-linejoin="round">0.26</text>
<text transform="translate(792 1259.5) scale(1.025 1)" font-size="64" fill="#ff0000" text-anchor="start" font-family='"Liberation Sans", sans-serif' font-weight="bold"  stroke="#ff0000" stroke-width="0.77" stroke-linejoin="round">Al</text>
<text transform="translate(859.2 1287.5) scale(1.025 1)" font-size="38.5" fill="#ff0000" text-anchor="start" font-family='"Liberation Sans", sans-serif' font-weight="bold"  stroke="#ff0000" stroke-width="0.46" stroke-linejoin="round">0.74</text>
<text transform="translate(935 1259.5) scale(1.025 1)" font-size="64" fill="#ff0000" text-anchor="start" font-family='"Liberation Sans", sans-serif' font-weight="bold"  stroke="#ff0000" stroke-width="0.77" stroke-linejoin="round">As</text>
<path d="M235 1451 L633.5 1451 L633.5 1309.5 L920 1309.5" fill="none" stroke="#ff0000" stroke-width="12" stroke-linejoin="round" stroke-linejoin="miter"/>
<path d="M235 1550 L633.5 1550 L633.5 1637.5 L920 1637.5" fill="none" stroke="#0c30ff" stroke-width="12" stroke-linejoin="round" stroke-linejoin="miter"/>
<path d="M235 1771.5 L633.5 1771.5 L633.5 1852 L947 1852" fill="none" stroke="#006400" stroke-width="12" stroke-linejoin="round" stroke-linejoin="miter"/>
<polygon points="276.4,1460.5 269.4,1488.5 276.4,1486.5 283.4,1488.5" fill="#000" stroke="#000" stroke-width="7" stroke-linejoin="round"/>
<polygon points="276.4,1540.5 269.4,1512.5 276.4,1514.5 283.4,1512.5" fill="#000" stroke="#000" stroke-width="7" stroke-linejoin="round"/>
<line x1="276.4" y1="1485.5" x2="276.4" y2="1515.5" stroke="#000000" stroke-width="6.5" />
<polygon points="276.4,1560 269.4,1588 276.4,1586 283.4,1588" fill="#000" stroke="#000" stroke-width="7" stroke-linejoin="round"/>
<polygon points="276.4,1761 269.4,1733 276.4,1735 283.4,1733" fill="#000" stroke="#000" stroke-width="7" stroke-linejoin="round"/>
<rect x="272.9" y="1588" width="7" height="8.7" fill="#000000"/>
<rect x="272.9" y="1611.5" width="7" height="9" fill="#000000"/>
<rect x="272.9" y="1634.5" width="7" height="9" fill="#000000"/>
<rect x="272.9" y="1657.6" width="7" height="8.6" fill="#000000"/>
<rect x="272.9" y="1709.3" width="7" height="8.6" fill="#000000"/>
<polygon points="790.6,1319 783.6,1347 790.6,1345 797.6,1347" fill="#000" stroke="#000" stroke-width="7" stroke-linejoin="round"/>
<line x1="790.6" y1="1344" x2="790.6" y2="1418.5" stroke="#000000" stroke-width="7" />
<polygon points="790.6,1628.5 783.6,1600.5 790.6,1602.5 797.6,1600.5" fill="#000" stroke="#000" stroke-width="7" stroke-linejoin="round"/>
<line x1="790.6" y1="1497" x2="790.6" y2="1603.5" stroke="#000000" stroke-width="7" />
<polygon points="790.6,1647.5 783.6,1675.5 790.6,1673.5 797.6,1675.5" fill="#000" stroke="#000" stroke-width="7" stroke-linejoin="round"/>
<polygon points="790.6,1845 783.6,1817 790.6,1819 797.6,1817" fill="#000" stroke="#000" stroke-width="7" stroke-linejoin="round"/>
<rect x="787.1" y="1691.3" width="7" height="8.6" fill="#000000"/>
<rect x="787.1" y="1714.3" width="7" height="8.6" fill="#000000"/>
<rect x="787.1" y="1769" width="7" height="8.6" fill="#000000"/>
<rect x="787.1" y="1792.4" width="7" height="8.6" fill="#000000"/>
<text transform="translate(209 1409.8) scale(1.025 1)" font-size="51" fill="#ff0000" font-weight="bold" font-family='"Liberation Sans", sans-serif' stroke="#ff0000" stroke-width="0.61" stroke-linejoin="round"><tspan font-family='"Liberation Serif", serif' font-size="50.5">Δ</tspan>E<tspan font-size="31" dy="20">C</tspan><tspan dy="-20">= 1.25±0.1 eV</tspan></text>
<text transform="translate(211 1617) scale(1.025 1)" font-size="51" fill="#0c30ff" font-weight="bold" font-family='"Liberation Sans", sans-serif' stroke="#0c30ff" stroke-width="0.61" stroke-linejoin="round"><tspan font-family='"Liberation Serif", serif' font-size="50.5">Δ</tspan>E<tspan font-size="31" dy="20">V</tspan><tspan dy="-20">= 0.56±0.1 eV</tspan></text>
<text transform="translate(277 1830.5) scale(1.025 1)" font-size="50" fill="#006400" font-weight="bold" font-family='"Liberation Sans", sans-serif' stroke="#006400" stroke-width="0.60" stroke-linejoin="round"><tspan font-family='"Liberation Serif", serif' font-size="49.5">Δ</tspan>E<tspan font-size="29" dy="20">CL</tspan><tspan dy="-20"><tspan font-size="51.5">=11.80 eV</tspan></tspan></text>
<text transform="translate(209 1700.5) scale(1.025 1)" font-size="51.5" fill="#000000" text-anchor="start" font-family='"Liberation Sans", sans-serif' font-weight="bold"  stroke="#000000" stroke-width="0.62" stroke-linejoin="round">29.19 eV</text>
<text transform="translate(725 1759.5) scale(1.025 1)" font-size="51.5" fill="#000000" text-anchor="start" font-family='"Liberation Sans", sans-serif' font-weight="bold"  stroke="#000000" stroke-width="0.62" stroke-linejoin="round">40.42 eV</text>
<text transform="translate(84 1787.5) scale(1.025 1)" font-size="50" fill="#000000" text-anchor="start" font-family='"Liberation Sans", sans-serif' font-weight="bold"  stroke="#000000" stroke-width="0.60" stroke-linejoin="round">Ge 3d</text>
<text transform="translate(953 1869.5) scale(1.025 1)" font-size="50" fill="#000000" text-anchor="start" font-family='"Liberation Sans", sans-serif' font-weight="bold"  stroke="#000000" stroke-width="0.60" stroke-linejoin="round">As 3d</text>
<text transform="translate(125.5 1479.3) scale(1.025 1)" font-size="53" fill="#000000" text-anchor="start" font-family='"Liberation Sans", sans-serif' font-weight="bold"  stroke="#000000" stroke-width="0.64" stroke-linejoin="round">E</text>
<text transform="translate(161 1449.5) scale(1.025 1)" font-size="31" font-weight="bold" font-family='"Liberation Sans", sans-serif' stroke="#000" stroke-width="0.37" stroke-linejoin="round"><tspan font-family='"Liberation Serif", serif' font-size="30.4">ε</tspan>-Ge</text>
<text transform="translate(159 1500) scale(1.025 1)" font-size="31" fill="#000000" text-anchor="start" font-family='"Liberation Sans", sans-serif' font-weight="bold"  stroke="#000000" stroke-width="0.37" stroke-linejoin="round">C</text>
<text transform="translate(125.5 1579.8) scale(1.025 1)" font-size="53" fill="#000000" text-anchor="start" font-family='"Liberation Sans", sans-serif' font-weight="bold"  stroke="#000000" stroke-width="0.64" stroke-linejoin="round">E</text>
<text transform="translate(161 1550.4) scale(1.025 1)" font-size="31" font-weight="bold" font-family='"Liberation Sans", sans-serif' stroke="#000" stroke-width="0.37" stroke-linejoin="round"><tspan font-family='"Liberation Serif", serif' font-size="30.4">ε</tspan>-Ge</text>
<text transform="translate(159 1600.4) scale(1.025 1)" font-size="31" fill="#000000" text-anchor="start" font-family='"Liberation Sans", sans-serif' font-weight="bold"  stroke="#000000" stroke-width="0.37" stroke-linejoin="round">V</text>
<text transform="translate(296.5 1516) scale(1.025 1)" font-size="51" fill="#000000" text-anchor="start" font-family='"Liberation Sans", sans-serif' font-weight="bold"  stroke="#000000" stroke-width="0.61" stroke-linejoin="round">E</text>
<text transform="translate(332 1487) scale(1.025 1)" font-size="30" font-weight="bold" font-family='"Liberation Sans", sans-serif' stroke="#000" stroke-width="0.36" stroke-linejoin="round"><tspan font-family='"Liberation Serif", serif' font-size="29.4">ε</tspan>-Ge</text>
<text transform="translate(331.5 1537) scale(1.025 1)" font-size="30" font-weight="bold" font-family='"Liberation Sans", sans-serif' stroke="#000" stroke-width="0.36" stroke-linejoin="round">g,<tspan font-family='"Liberation Serif", serif' font-size="30" font-weight="normal">Γ</tspan><tspan font-family='"Liberation Serif", serif' font-size="30">-</tspan><tspan font-family='"Liberation Serif", serif' font-style="italic" font-size="30">lh</tspan></text>
<text transform="translate(414 1516) scale(1.025 1)" font-size="51" fill="#000000" text-anchor="start" font-family='"Liberation Sans", sans-serif' font-weight="bold"  stroke="#000000" stroke-width="0.61" stroke-linejoin="round">= 0.47 eV</text>
<text transform="translate(927.2 1337.8) scale(1.025 1)" font-size="52" fill="#000000" text-anchor="start" font-family='"Liberation Sans", sans-serif' font-weight="bold"  stroke="#000000" stroke-width="0.62" stroke-linejoin="round">E</text>
<text transform="translate(961.7 1307.7) scale(1.025 1)" font-size="29.5" font-weight="bold" font-family='"Liberation Sans", sans-serif' stroke="#000" stroke-width="0.35" stroke-linejoin="round">In<tspan font-size="19" dy="13.5">0.26</tspan><tspan dy="-13.5">AlAs</tspan></text>
<text transform="translate(960.7 1358.5) scale(1.025 1)" font-size="31" fill="#000000" text-anchor="start" font-family='"Liberation Sans", sans-serif' font-weight="bold"  stroke="#000000" stroke-width="0.37" stroke-linejoin="round">C</text>
<text transform="translate(927.2 1655.7) scale(1.025 1)" font-size="52" fill="#000000" text-anchor="start" font-family='"Liberation Sans", sans-serif' font-weight="bold"  stroke="#000000" stroke-width="0.62" stroke-linejoin="round">E</text>
<text transform="translate(961.7 1626.4) scale(1.025 1)" font-size="29.5" font-weight="bold" font-family='"Liberation Sans", sans-serif' stroke="#000" stroke-width="0.35" stroke-linejoin="round">In<tspan font-size="19" dy="13.5">0.26</tspan><tspan dy="-13.5">AlAs</tspan></text>
<text transform="translate(960.7 1676.4) scale(1.025 1)" font-size="31" fill="#000000" text-anchor="start" font-family='"Liberation Sans", sans-serif' font-weight="bold"  stroke="#000000" stroke-width="0.37" stroke-linejoin="round">V</text>
<text transform="translate(668 1489.4) scale(1.025 1)" font-size="51" fill="#000000" text-anchor="start" font-family='"Liberation Sans", sans-serif' font-weight="bold"  stroke="#000000" stroke-width="0.61" stroke-linejoin="round">E</text>
<text transform="translate(703.3 1459.8) scale(1.025 1)" font-size="29.5" font-weight="bold" font-family='"Liberation Sans", sans-serif' stroke="#000" stroke-width="0.35" stroke-linejoin="round">In<tspan font-size="19" dy="13.5">0.26</tspan><tspan dy="-13.5">AlAs</tspan></text>
<text transform="translate(703 1509) scale(1.025 1)" font-size="30" font-weight="bold" font-family='"Liberation Sans", sans-serif' stroke="#000" stroke-width="0.36" stroke-linejoin="round">g,<tspan font-family='"Liberation Serif", serif' font-size="30" font-weight="normal">Γ</tspan></text>
<text transform="translate(835 1489.4) scale(1.025 1)" font-size="51" fill="#000000" text-anchor="start" font-family='"Liberation Sans", sans-serif' font-weight="bold"  stroke="#000000" stroke-width="0.61" stroke-linejoin="round">= 2.23 eV</text>
</g>
</svg></body></html>
